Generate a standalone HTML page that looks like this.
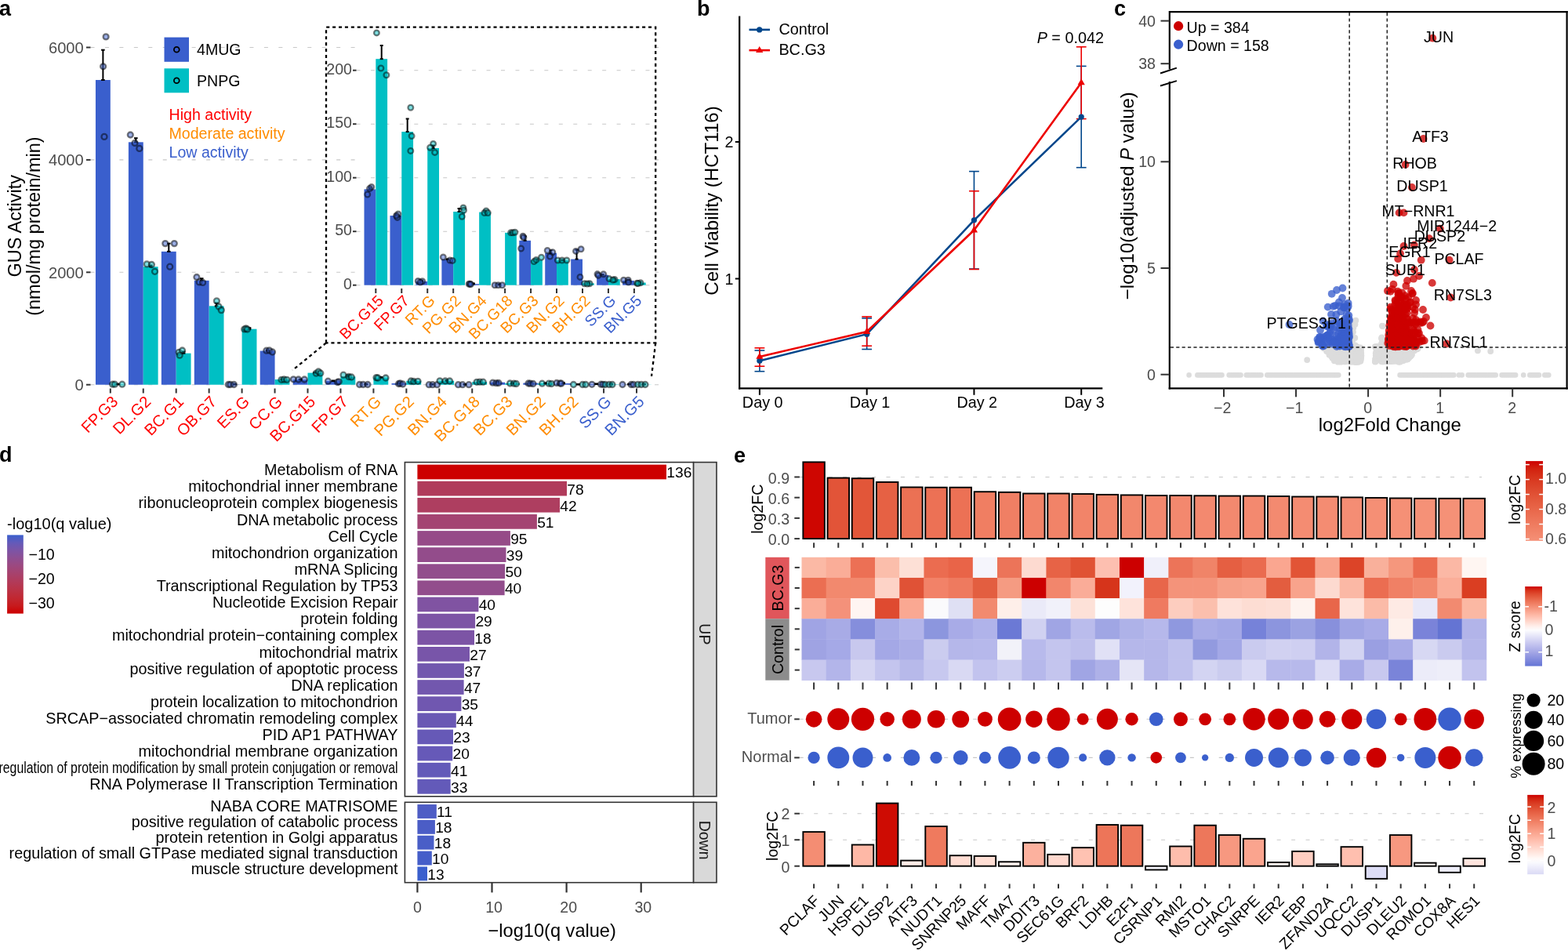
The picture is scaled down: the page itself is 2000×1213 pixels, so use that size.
<!DOCTYPE html>
<html><head><meta charset="utf-8"><title>Figure</title>
<style>
html,body{margin:0;padding:0;background:#fff;overflow:hidden;}
svg{display:block;}
text{font-family:"Liberation Sans",Arial,Helvetica,sans-serif;}
</style></head><body>
<svg width="2000" height="1213" viewBox="0 0 2000 1213">
<rect x="0" y="0" width="2000" height="1213" fill="#fff"/>
<text transform="translate(-1,20)" font-size="27" font-weight="bold">a</text>
<line x1="115.5" y1="490.7" x2="841" y2="490.7" stroke="#C8C8C8" stroke-width="1.1" stroke-dasharray="5 13.45"/>
<line x1="115.5" y1="347.3" x2="841" y2="347.3" stroke="#C8C8C8" stroke-width="1.1" stroke-dasharray="5 13.45"/>
<line x1="115.5" y1="203.9" x2="841" y2="203.9" stroke="#C8C8C8" stroke-width="1.1" stroke-dasharray="5 13.45"/>
<line x1="115.5" y1="60.5" x2="841" y2="60.5" stroke="#C8C8C8" stroke-width="1.1" stroke-dasharray="5 13.45"/>
<line x1="110" y1="490.7" x2="115.5" y2="490.7" stroke="#333333" stroke-width="2"/>
<text transform="translate(106.7,497.9)" text-anchor="end" font-size="20.1" fill="#4D4D4D">0</text>
<line x1="110" y1="347.3" x2="115.5" y2="347.3" stroke="#333333" stroke-width="2"/>
<text transform="translate(106.7,354.5)" text-anchor="end" font-size="20.1" fill="#4D4D4D">2000</text>
<line x1="110" y1="203.9" x2="115.5" y2="203.9" stroke="#333333" stroke-width="2"/>
<text transform="translate(106.7,211.1)" text-anchor="end" font-size="20.1" fill="#4D4D4D">4000</text>
<line x1="110" y1="60.5" x2="115.5" y2="60.5" stroke="#333333" stroke-width="2"/>
<text transform="translate(106.7,67.7)" text-anchor="end" font-size="20.1" fill="#4D4D4D">6000</text>
<text transform="translate(27.2,288.3) rotate(-90)" text-anchor="middle" font-size="23.5">GUS Activity</text>
<text transform="translate(50.5,288.6) rotate(-90)" text-anchor="middle" font-size="23.5">(nmol/mg protein/min)</text>
<rect x="121.95" y="102.01" width="18.85" height="388.69" fill="#3A5FCD"/>
<rect x="140.8" y="490.34" width="18.85" height="0.36" fill="#00BFC4"/>
<rect x="163.9" y="181.31" width="18.85" height="309.39" fill="#3A5FCD"/>
<rect x="182.75" y="340.2" width="18.85" height="150.5" fill="#00BFC4"/>
<rect x="205.85" y="320.84" width="18.85" height="169.86" fill="#3A5FCD"/>
<rect x="224.7" y="450.62" width="18.85" height="40.08" fill="#00BFC4"/>
<rect x="247.8" y="357.84" width="18.85" height="132.86" fill="#3A5FCD"/>
<rect x="266.65" y="390.32" width="18.85" height="100.38" fill="#00BFC4"/>
<rect x="289.75" y="490.48" width="18.85" height="0.22" fill="#3A5FCD"/>
<rect x="308.6" y="419.65" width="18.85" height="71.05" fill="#00BFC4"/>
<rect x="331.7" y="447.54" width="18.85" height="43.16" fill="#3A5FCD"/>
<rect x="350.55" y="484.03" width="18.85" height="6.67" fill="#00BFC4"/>
<rect x="373.65" y="484.3" width="18.85" height="6.4" fill="#3A5FCD"/>
<rect x="392.5" y="475.6" width="18.85" height="15.1" fill="#00BFC4"/>
<rect x="415.6" y="486.06" width="18.85" height="4.64" fill="#3A5FCD"/>
<rect x="434.45" y="480.46" width="18.85" height="10.24" fill="#00BFC4"/>
<rect x="457.55" y="490.45" width="18.85" height="0.25" fill="#3A5FCD"/>
<rect x="476.4" y="481.55" width="18.85" height="9.15" fill="#00BFC4"/>
<rect x="499.5" y="488.98" width="18.85" height="1.72" fill="#3A5FCD"/>
<rect x="518.35" y="485.8" width="18.85" height="4.9" fill="#00BFC4"/>
<rect x="541.45" y="490.62" width="18.85" height="0.08" fill="#3A5FCD"/>
<rect x="560.3" y="485.82" width="18.85" height="4.88" fill="#00BFC4"/>
<rect x="583.4" y="490.68" width="18.85" height="0.02" fill="#3A5FCD"/>
<rect x="602.25" y="487.2" width="18.85" height="3.5" fill="#00BFC4"/>
<rect x="625.35" y="487.72" width="18.85" height="2.98" fill="#3A5FCD"/>
<rect x="644.2" y="489.02" width="18.85" height="1.68" fill="#00BFC4"/>
<rect x="667.3" y="488.56" width="18.85" height="2.14" fill="#3A5FCD"/>
<rect x="686.15" y="489.05" width="18.85" height="1.65" fill="#00BFC4"/>
<rect x="709.25" y="488.96" width="18.85" height="1.74" fill="#3A5FCD"/>
<rect x="728.1" y="490.58" width="18.85" height="0.12" fill="#00BFC4"/>
<rect x="751.2" y="490.02" width="18.85" height="0.68" fill="#3A5FCD"/>
<rect x="770.05" y="490.31" width="18.85" height="0.39" fill="#00BFC4"/>
<rect x="793.15" y="490.4" width="18.85" height="0.3" fill="#3A5FCD"/>
<rect x="812" y="490.54" width="18.85" height="0.16" fill="#00BFC4"/>
<line x1="131.38" y1="102.01" x2="131.38" y2="63.7" stroke="#000" stroke-width="2"/>
<line x1="129.07" y1="63.7" x2="133.68" y2="63.7" stroke="#000" stroke-width="2"/>
<line x1="129.07" y1="102.01" x2="133.68" y2="102.01" stroke="#000" stroke-width="2"/>
<line x1="173.32" y1="181.31" x2="173.32" y2="176.2" stroke="#000" stroke-width="2"/>
<line x1="171.02" y1="176.2" x2="175.62" y2="176.2" stroke="#000" stroke-width="2"/>
<line x1="171.02" y1="181.31" x2="175.62" y2="181.31" stroke="#000" stroke-width="2"/>
<line x1="215.28" y1="320.84" x2="215.28" y2="310.6" stroke="#000" stroke-width="2"/>
<line x1="212.97" y1="310.6" x2="217.58" y2="310.6" stroke="#000" stroke-width="2"/>
<line x1="212.97" y1="320.84" x2="217.58" y2="320.84" stroke="#000" stroke-width="2"/>
<line x1="257.23" y1="357.84" x2="257.23" y2="355.2" stroke="#000" stroke-width="2"/>
<line x1="254.93" y1="355.2" x2="259.53" y2="355.2" stroke="#000" stroke-width="2"/>
<line x1="254.93" y1="357.84" x2="259.53" y2="357.84" stroke="#000" stroke-width="2"/>
<line x1="192.18" y1="340.2" x2="192.18" y2="338.5" stroke="#000" stroke-width="2"/>
<line x1="189.88" y1="338.5" x2="194.48" y2="338.5" stroke="#000" stroke-width="2"/>
<line x1="189.88" y1="340.2" x2="194.48" y2="340.2" stroke="#000" stroke-width="2"/>
<line x1="234.13" y1="450.62" x2="234.13" y2="448.5" stroke="#000" stroke-width="2"/>
<line x1="231.83" y1="448.5" x2="236.43" y2="448.5" stroke="#000" stroke-width="2"/>
<line x1="231.83" y1="450.62" x2="236.43" y2="450.62" stroke="#000" stroke-width="2"/>
<line x1="276.08" y1="390.32" x2="276.08" y2="386.5" stroke="#000" stroke-width="2"/>
<line x1="273.78" y1="386.5" x2="278.38" y2="386.5" stroke="#000" stroke-width="2"/>
<line x1="273.78" y1="390.32" x2="278.38" y2="390.32" stroke="#000" stroke-width="2"/>
<line x1="318.03" y1="419.65" x2="318.03" y2="418.2" stroke="#000" stroke-width="2"/>
<line x1="315.73" y1="418.2" x2="320.33" y2="418.2" stroke="#000" stroke-width="2"/>
<line x1="315.73" y1="419.65" x2="320.33" y2="419.65" stroke="#000" stroke-width="2"/>
<line x1="341.12" y1="447.54" x2="341.12" y2="446.5" stroke="#000" stroke-width="2"/>
<line x1="338.82" y1="446.5" x2="343.43" y2="446.5" stroke="#000" stroke-width="2"/>
<line x1="338.82" y1="447.54" x2="343.43" y2="447.54" stroke="#000" stroke-width="2"/>
<line x1="359.98" y1="484.03" x2="359.98" y2="483.5" stroke="#000" stroke-width="2"/>
<line x1="357.68" y1="483.5" x2="362.28" y2="483.5" stroke="#000" stroke-width="2"/>
<line x1="357.68" y1="484.03" x2="362.28" y2="484.03" stroke="#000" stroke-width="2"/>
<line x1="401.93" y1="475.6" x2="401.93" y2="475" stroke="#000" stroke-width="2"/>
<line x1="399.62" y1="475" x2="404.23" y2="475" stroke="#000" stroke-width="2"/>
<line x1="399.62" y1="475.6" x2="404.23" y2="475.6" stroke="#000" stroke-width="2"/>
<line x1="443.88" y1="480.46" x2="443.88" y2="478.5" stroke="#000" stroke-width="2"/>
<line x1="441.58" y1="478.5" x2="446.18" y2="478.5" stroke="#000" stroke-width="2"/>
<line x1="441.58" y1="480.46" x2="446.18" y2="480.46" stroke="#000" stroke-width="2"/>
<line x1="150.23" y1="490.34" x2="150.23" y2="489.74" stroke="#000" stroke-width="2"/>
<line x1="147.93" y1="489.74" x2="152.53" y2="489.74" stroke="#000" stroke-width="2"/>
<line x1="147.93" y1="490.34" x2="152.53" y2="490.34" stroke="#000" stroke-width="2"/>
<line x1="299.18" y1="490.48" x2="299.18" y2="489.88" stroke="#000" stroke-width="2"/>
<line x1="296.88" y1="489.88" x2="301.48" y2="489.88" stroke="#000" stroke-width="2"/>
<line x1="296.88" y1="490.48" x2="301.48" y2="490.48" stroke="#000" stroke-width="2"/>
<line x1="383.07" y1="484.3" x2="383.07" y2="483.7" stroke="#000" stroke-width="2"/>
<line x1="380.77" y1="483.7" x2="385.38" y2="483.7" stroke="#000" stroke-width="2"/>
<line x1="380.77" y1="484.3" x2="385.38" y2="484.3" stroke="#000" stroke-width="2"/>
<line x1="425.03" y1="486.06" x2="425.03" y2="485.46" stroke="#000" stroke-width="2"/>
<line x1="422.73" y1="485.46" x2="427.33" y2="485.46" stroke="#000" stroke-width="2"/>
<line x1="422.73" y1="486.06" x2="427.33" y2="486.06" stroke="#000" stroke-width="2"/>
<line x1="466.98" y1="490.45" x2="466.98" y2="489.85" stroke="#000" stroke-width="2"/>
<line x1="464.68" y1="489.85" x2="469.28" y2="489.85" stroke="#000" stroke-width="2"/>
<line x1="464.68" y1="490.45" x2="469.28" y2="490.45" stroke="#000" stroke-width="2"/>
<line x1="485.83" y1="481.55" x2="485.83" y2="480.95" stroke="#000" stroke-width="2"/>
<line x1="483.53" y1="480.95" x2="488.13" y2="480.95" stroke="#000" stroke-width="2"/>
<line x1="483.53" y1="481.55" x2="488.13" y2="481.55" stroke="#000" stroke-width="2"/>
<line x1="508.93" y1="488.98" x2="508.93" y2="488.38" stroke="#000" stroke-width="2"/>
<line x1="506.62" y1="488.38" x2="511.23" y2="488.38" stroke="#000" stroke-width="2"/>
<line x1="506.62" y1="488.98" x2="511.23" y2="488.98" stroke="#000" stroke-width="2"/>
<line x1="527.77" y1="485.8" x2="527.77" y2="485.2" stroke="#000" stroke-width="2"/>
<line x1="525.48" y1="485.2" x2="530.07" y2="485.2" stroke="#000" stroke-width="2"/>
<line x1="525.48" y1="485.8" x2="530.07" y2="485.8" stroke="#000" stroke-width="2"/>
<line x1="550.88" y1="490.62" x2="550.88" y2="490.02" stroke="#000" stroke-width="2"/>
<line x1="548.58" y1="490.02" x2="553.17" y2="490.02" stroke="#000" stroke-width="2"/>
<line x1="548.58" y1="490.62" x2="553.17" y2="490.62" stroke="#000" stroke-width="2"/>
<line x1="569.72" y1="485.82" x2="569.72" y2="485.22" stroke="#000" stroke-width="2"/>
<line x1="567.42" y1="485.22" x2="572.02" y2="485.22" stroke="#000" stroke-width="2"/>
<line x1="567.42" y1="485.82" x2="572.02" y2="485.82" stroke="#000" stroke-width="2"/>
<line x1="592.83" y1="490.68" x2="592.83" y2="490.08" stroke="#000" stroke-width="2"/>
<line x1="590.53" y1="490.08" x2="595.12" y2="490.08" stroke="#000" stroke-width="2"/>
<line x1="590.53" y1="490.68" x2="595.12" y2="490.68" stroke="#000" stroke-width="2"/>
<line x1="611.67" y1="487.2" x2="611.67" y2="486.6" stroke="#000" stroke-width="2"/>
<line x1="609.38" y1="486.6" x2="613.97" y2="486.6" stroke="#000" stroke-width="2"/>
<line x1="609.38" y1="487.2" x2="613.97" y2="487.2" stroke="#000" stroke-width="2"/>
<line x1="634.78" y1="487.72" x2="634.78" y2="487.12" stroke="#000" stroke-width="2"/>
<line x1="632.48" y1="487.12" x2="637.08" y2="487.12" stroke="#000" stroke-width="2"/>
<line x1="632.48" y1="487.72" x2="637.08" y2="487.72" stroke="#000" stroke-width="2"/>
<line x1="653.62" y1="489.02" x2="653.62" y2="488.42" stroke="#000" stroke-width="2"/>
<line x1="651.33" y1="488.42" x2="655.92" y2="488.42" stroke="#000" stroke-width="2"/>
<line x1="651.33" y1="489.02" x2="655.92" y2="489.02" stroke="#000" stroke-width="2"/>
<line x1="676.73" y1="488.56" x2="676.73" y2="487.96" stroke="#000" stroke-width="2"/>
<line x1="674.43" y1="487.96" x2="679.03" y2="487.96" stroke="#000" stroke-width="2"/>
<line x1="674.43" y1="488.56" x2="679.03" y2="488.56" stroke="#000" stroke-width="2"/>
<line x1="695.58" y1="489.05" x2="695.58" y2="488.45" stroke="#000" stroke-width="2"/>
<line x1="693.28" y1="488.45" x2="697.88" y2="488.45" stroke="#000" stroke-width="2"/>
<line x1="693.28" y1="489.05" x2="697.88" y2="489.05" stroke="#000" stroke-width="2"/>
<line x1="718.68" y1="488.96" x2="718.68" y2="488.36" stroke="#000" stroke-width="2"/>
<line x1="716.38" y1="488.36" x2="720.98" y2="488.36" stroke="#000" stroke-width="2"/>
<line x1="716.38" y1="488.96" x2="720.98" y2="488.96" stroke="#000" stroke-width="2"/>
<line x1="737.53" y1="490.58" x2="737.53" y2="489.98" stroke="#000" stroke-width="2"/>
<line x1="735.23" y1="489.98" x2="739.83" y2="489.98" stroke="#000" stroke-width="2"/>
<line x1="735.23" y1="490.58" x2="739.83" y2="490.58" stroke="#000" stroke-width="2"/>
<line x1="760.62" y1="490.02" x2="760.62" y2="489.42" stroke="#000" stroke-width="2"/>
<line x1="758.33" y1="489.42" x2="762.92" y2="489.42" stroke="#000" stroke-width="2"/>
<line x1="758.33" y1="490.02" x2="762.92" y2="490.02" stroke="#000" stroke-width="2"/>
<line x1="779.47" y1="490.31" x2="779.47" y2="489.71" stroke="#000" stroke-width="2"/>
<line x1="777.17" y1="489.71" x2="781.77" y2="489.71" stroke="#000" stroke-width="2"/>
<line x1="777.17" y1="490.31" x2="781.77" y2="490.31" stroke="#000" stroke-width="2"/>
<line x1="802.58" y1="490.4" x2="802.58" y2="489.8" stroke="#000" stroke-width="2"/>
<line x1="800.28" y1="489.8" x2="804.88" y2="489.8" stroke="#000" stroke-width="2"/>
<line x1="800.28" y1="490.4" x2="804.88" y2="490.4" stroke="#000" stroke-width="2"/>
<line x1="821.42" y1="490.54" x2="821.42" y2="489.94" stroke="#000" stroke-width="2"/>
<line x1="819.12" y1="489.94" x2="823.72" y2="489.94" stroke="#000" stroke-width="2"/>
<line x1="819.12" y1="490.54" x2="823.72" y2="490.54" stroke="#000" stroke-width="2"/>
<circle cx="135.1" cy="46.9" r="3.5" fill="#3A5FCD" stroke="#000" stroke-width="2.3" fill-opacity="0.5" stroke-opacity="0.5"/>
<circle cx="131.6" cy="84.8" r="3.5" fill="#3A5FCD" stroke="#000" stroke-width="2.3" fill-opacity="0.5" stroke-opacity="0.5"/>
<circle cx="133" cy="174.4" r="3.5" fill="#3A5FCD" stroke="#000" stroke-width="2.3" fill-opacity="0.5" stroke-opacity="0.5"/>
<circle cx="143.6" cy="490.2" r="3.5" fill="#00BFC4" stroke="#000" stroke-width="2.3" fill-opacity="0.5" stroke-opacity="0.5"/>
<circle cx="146.5" cy="490.2" r="3.5" fill="#00BFC4" stroke="#000" stroke-width="2.3" fill-opacity="0.5" stroke-opacity="0.5"/>
<circle cx="155.8" cy="490.2" r="3.5" fill="#00BFC4" stroke="#000" stroke-width="2.3" fill-opacity="0.5" stroke-opacity="0.5"/>
<circle cx="166.3" cy="172" r="3.5" fill="#3A5FCD" stroke="#000" stroke-width="2.3" fill-opacity="0.5" stroke-opacity="0.5"/>
<circle cx="172" cy="182.4" r="3.5" fill="#3A5FCD" stroke="#000" stroke-width="2.3" fill-opacity="0.5" stroke-opacity="0.5"/>
<circle cx="177.8" cy="189.4" r="3.5" fill="#3A5FCD" stroke="#000" stroke-width="2.3" fill-opacity="0.5" stroke-opacity="0.5"/>
<circle cx="187.3" cy="336.9" r="3.5" fill="#00BFC4" stroke="#000" stroke-width="2.3" fill-opacity="0.5" stroke-opacity="0.5"/>
<circle cx="193.4" cy="337.5" r="3.5" fill="#00BFC4" stroke="#000" stroke-width="2.3" fill-opacity="0.5" stroke-opacity="0.5"/>
<circle cx="197.5" cy="346.3" r="3.5" fill="#00BFC4" stroke="#000" stroke-width="2.3" fill-opacity="0.5" stroke-opacity="0.5"/>
<circle cx="210.8" cy="310.6" r="3.5" fill="#3A5FCD" stroke="#000" stroke-width="2.3" fill-opacity="0.5" stroke-opacity="0.5"/>
<circle cx="222.3" cy="310.6" r="3.5" fill="#3A5FCD" stroke="#000" stroke-width="2.3" fill-opacity="0.5" stroke-opacity="0.5"/>
<circle cx="216.7" cy="340.2" r="3.5" fill="#3A5FCD" stroke="#000" stroke-width="2.3" fill-opacity="0.5" stroke-opacity="0.5"/>
<circle cx="228.2" cy="449.3" r="3.5" fill="#00BFC4" stroke="#000" stroke-width="2.3" fill-opacity="0.5" stroke-opacity="0.5"/>
<circle cx="232.5" cy="447" r="3.5" fill="#00BFC4" stroke="#000" stroke-width="2.3" fill-opacity="0.5" stroke-opacity="0.5"/>
<circle cx="229.2" cy="453.1" r="3.5" fill="#00BFC4" stroke="#000" stroke-width="2.3" fill-opacity="0.5" stroke-opacity="0.5"/>
<circle cx="250.9" cy="353.5" r="3.5" fill="#3A5FCD" stroke="#000" stroke-width="2.3" fill-opacity="0.5" stroke-opacity="0.5"/>
<circle cx="254.2" cy="359.9" r="3.5" fill="#3A5FCD" stroke="#000" stroke-width="2.3" fill-opacity="0.5" stroke-opacity="0.5"/>
<circle cx="258.6" cy="360.4" r="3.5" fill="#3A5FCD" stroke="#000" stroke-width="2.3" fill-opacity="0.5" stroke-opacity="0.5"/>
<circle cx="276.4" cy="383.9" r="3.5" fill="#00BFC4" stroke="#000" stroke-width="2.3" fill-opacity="0.5" stroke-opacity="0.5"/>
<circle cx="279" cy="391" r="3.5" fill="#00BFC4" stroke="#000" stroke-width="2.3" fill-opacity="0.5" stroke-opacity="0.5"/>
<circle cx="282.3" cy="395.6" r="3.5" fill="#00BFC4" stroke="#000" stroke-width="2.3" fill-opacity="0.5" stroke-opacity="0.5"/>
<circle cx="291.3" cy="490.5" r="3.5" fill="#3A5FCD" stroke="#000" stroke-width="2.3" fill-opacity="0.5" stroke-opacity="0.5"/>
<circle cx="293.8" cy="490.5" r="3.5" fill="#3A5FCD" stroke="#000" stroke-width="2.3" fill-opacity="0.5" stroke-opacity="0.5"/>
<circle cx="298.4" cy="490.5" r="3.5" fill="#3A5FCD" stroke="#000" stroke-width="2.3" fill-opacity="0.5" stroke-opacity="0.5"/>
<circle cx="311.7" cy="419.9" r="3.5" fill="#00BFC4" stroke="#000" stroke-width="2.3" fill-opacity="0.5" stroke-opacity="0.5"/>
<circle cx="313.7" cy="419" r="3.5" fill="#00BFC4" stroke="#000" stroke-width="2.3" fill-opacity="0.5" stroke-opacity="0.5"/>
<circle cx="315.5" cy="420" r="3.5" fill="#00BFC4" stroke="#000" stroke-width="2.3" fill-opacity="0.5" stroke-opacity="0.5"/>
<circle cx="339.8" cy="447.2" r="3.5" fill="#3A5FCD" stroke="#000" stroke-width="2.3" fill-opacity="0.5" stroke-opacity="0.5"/>
<circle cx="343.6" cy="447" r="3.5" fill="#3A5FCD" stroke="#000" stroke-width="2.3" fill-opacity="0.5" stroke-opacity="0.5"/>
<circle cx="347.5" cy="449" r="3.5" fill="#3A5FCD" stroke="#000" stroke-width="2.3" fill-opacity="0.5" stroke-opacity="0.5"/>
<circle cx="359" cy="484.3" r="3.5" fill="#00BFC4" stroke="#000" stroke-width="2.3" fill-opacity="0.5" stroke-opacity="0.5"/>
<circle cx="362.3" cy="484" r="3.5" fill="#00BFC4" stroke="#000" stroke-width="2.3" fill-opacity="0.5" stroke-opacity="0.5"/>
<circle cx="365.9" cy="484.3" r="3.5" fill="#00BFC4" stroke="#000" stroke-width="2.3" fill-opacity="0.5" stroke-opacity="0.5"/>
<circle cx="374.3" cy="483.8" r="3.5" fill="#3A5FCD" stroke="#000" stroke-width="2.3" fill-opacity="0.5" stroke-opacity="0.5"/>
<circle cx="380.7" cy="484" r="3.5" fill="#3A5FCD" stroke="#000" stroke-width="2.3" fill-opacity="0.5" stroke-opacity="0.5"/>
<circle cx="388.3" cy="484" r="3.5" fill="#3A5FCD" stroke="#000" stroke-width="2.3" fill-opacity="0.5" stroke-opacity="0.5"/>
<circle cx="403.2" cy="476.1" r="3.5" fill="#00BFC4" stroke="#000" stroke-width="2.3" fill-opacity="0.5" stroke-opacity="0.5"/>
<circle cx="406.2" cy="474" r="3.5" fill="#00BFC4" stroke="#000" stroke-width="2.3" fill-opacity="0.5" stroke-opacity="0.5"/>
<circle cx="408.8" cy="476" r="3.5" fill="#00BFC4" stroke="#000" stroke-width="2.3" fill-opacity="0.5" stroke-opacity="0.5"/>
<circle cx="418.4" cy="486.2" r="3.5" fill="#3A5FCD" stroke="#000" stroke-width="2.3" fill-opacity="0.5" stroke-opacity="0.5"/>
<circle cx="430.5" cy="487.5" r="3.5" fill="#3A5FCD" stroke="#000" stroke-width="2.3" fill-opacity="0.5" stroke-opacity="0.5"/>
<circle cx="432.2" cy="486.8" r="3.5" fill="#3A5FCD" stroke="#000" stroke-width="2.3" fill-opacity="0.5" stroke-opacity="0.5"/>
<circle cx="438" cy="478.2" r="3.5" fill="#00BFC4" stroke="#000" stroke-width="2.3" fill-opacity="0.5" stroke-opacity="0.5"/>
<circle cx="444.8" cy="480.5" r="3.5" fill="#00BFC4" stroke="#000" stroke-width="2.3" fill-opacity="0.5" stroke-opacity="0.5"/>
<circle cx="448.3" cy="481" r="3.5" fill="#00BFC4" stroke="#000" stroke-width="2.3" fill-opacity="0.5" stroke-opacity="0.5"/>
<circle cx="458.6" cy="490.5" r="3.5" fill="#3A5FCD" stroke="#000" stroke-width="2.3" fill-opacity="0.5" stroke-opacity="0.5"/>
<circle cx="463.2" cy="490.5" r="3.5" fill="#3A5FCD" stroke="#000" stroke-width="2.3" fill-opacity="0.5" stroke-opacity="0.5"/>
<circle cx="469" cy="490.5" r="3.5" fill="#3A5FCD" stroke="#000" stroke-width="2.3" fill-opacity="0.5" stroke-opacity="0.5"/>
<circle cx="480" cy="481.6" r="3.5" fill="#00BFC4" stroke="#000" stroke-width="2.3" fill-opacity="0.5" stroke-opacity="0.5"/>
<circle cx="482" cy="482" r="3.5" fill="#00BFC4" stroke="#000" stroke-width="2.3" fill-opacity="0.5" stroke-opacity="0.5"/>
<circle cx="492" cy="482" r="3.5" fill="#00BFC4" stroke="#000" stroke-width="2.3" fill-opacity="0.5" stroke-opacity="0.5"/>
<circle cx="508.5" cy="489.5" r="3.5" fill="#3A5FCD" stroke="#000" stroke-width="2.3" fill-opacity="0.5" stroke-opacity="0.5"/>
<circle cx="510.4" cy="489" r="3.5" fill="#3A5FCD" stroke="#000" stroke-width="2.3" fill-opacity="0.5" stroke-opacity="0.5"/>
<circle cx="513.8" cy="490" r="3.5" fill="#3A5FCD" stroke="#000" stroke-width="2.3" fill-opacity="0.5" stroke-opacity="0.5"/>
<circle cx="524.2" cy="486" r="3.5" fill="#00BFC4" stroke="#000" stroke-width="2.3" fill-opacity="0.5" stroke-opacity="0.5"/>
<circle cx="527.6" cy="486.5" r="3.5" fill="#00BFC4" stroke="#000" stroke-width="2.3" fill-opacity="0.5" stroke-opacity="0.5"/>
<circle cx="533" cy="486.3" r="3.5" fill="#00BFC4" stroke="#000" stroke-width="2.3" fill-opacity="0.5" stroke-opacity="0.5"/>
<circle cx="547.2" cy="490.7" r="3.5" fill="#3A5FCD" stroke="#000" stroke-width="2.3" fill-opacity="0.5" stroke-opacity="0.5"/>
<circle cx="551.8" cy="490.7" r="3.5" fill="#3A5FCD" stroke="#000" stroke-width="2.3" fill-opacity="0.5" stroke-opacity="0.5"/>
<circle cx="557.5" cy="490.7" r="3.5" fill="#3A5FCD" stroke="#000" stroke-width="2.3" fill-opacity="0.5" stroke-opacity="0.5"/>
<circle cx="561" cy="485.8" r="3.5" fill="#00BFC4" stroke="#000" stroke-width="2.3" fill-opacity="0.5" stroke-opacity="0.5"/>
<circle cx="567.9" cy="486" r="3.5" fill="#00BFC4" stroke="#000" stroke-width="2.3" fill-opacity="0.5" stroke-opacity="0.5"/>
<circle cx="573.6" cy="486" r="3.5" fill="#00BFC4" stroke="#000" stroke-width="2.3" fill-opacity="0.5" stroke-opacity="0.5"/>
<circle cx="584.5" cy="490.7" r="3.5" fill="#3A5FCD" stroke="#000" stroke-width="2.3" fill-opacity="0.5" stroke-opacity="0.5"/>
<circle cx="590" cy="490.7" r="3.5" fill="#3A5FCD" stroke="#000" stroke-width="2.3" fill-opacity="0.5" stroke-opacity="0.5"/>
<circle cx="598" cy="490.7" r="3.5" fill="#3A5FCD" stroke="#000" stroke-width="2.3" fill-opacity="0.5" stroke-opacity="0.5"/>
<circle cx="608.1" cy="487.3" r="3.5" fill="#00BFC4" stroke="#000" stroke-width="2.3" fill-opacity="0.5" stroke-opacity="0.5"/>
<circle cx="612" cy="487.2" r="3.5" fill="#00BFC4" stroke="#000" stroke-width="2.3" fill-opacity="0.5" stroke-opacity="0.5"/>
<circle cx="616.2" cy="487.2" r="3.5" fill="#00BFC4" stroke="#000" stroke-width="2.3" fill-opacity="0.5" stroke-opacity="0.5"/>
<circle cx="628.5" cy="488.2" r="3.5" fill="#3A5FCD" stroke="#000" stroke-width="2.3" fill-opacity="0.5" stroke-opacity="0.5"/>
<circle cx="633" cy="488.6" r="3.5" fill="#3A5FCD" stroke="#000" stroke-width="2.3" fill-opacity="0.5" stroke-opacity="0.5"/>
<circle cx="636" cy="488.5" r="3.5" fill="#3A5FCD" stroke="#000" stroke-width="2.3" fill-opacity="0.5" stroke-opacity="0.5"/>
<circle cx="650.5" cy="489" r="3.5" fill="#00BFC4" stroke="#000" stroke-width="2.3" fill-opacity="0.5" stroke-opacity="0.5"/>
<circle cx="655.5" cy="489.2" r="3.5" fill="#00BFC4" stroke="#000" stroke-width="2.3" fill-opacity="0.5" stroke-opacity="0.5"/>
<circle cx="658.5" cy="489.5" r="3.5" fill="#00BFC4" stroke="#000" stroke-width="2.3" fill-opacity="0.5" stroke-opacity="0.5"/>
<circle cx="674" cy="489" r="3.5" fill="#3A5FCD" stroke="#000" stroke-width="2.3" fill-opacity="0.5" stroke-opacity="0.5"/>
<circle cx="676.5" cy="489.2" r="3.5" fill="#3A5FCD" stroke="#000" stroke-width="2.3" fill-opacity="0.5" stroke-opacity="0.5"/>
<circle cx="680" cy="489.5" r="3.5" fill="#3A5FCD" stroke="#000" stroke-width="2.3" fill-opacity="0.5" stroke-opacity="0.5"/>
<circle cx="691.5" cy="489.2" r="3.5" fill="#00BFC4" stroke="#000" stroke-width="2.3" fill-opacity="0.5" stroke-opacity="0.5"/>
<circle cx="700" cy="489.2" r="3.5" fill="#00BFC4" stroke="#000" stroke-width="2.3" fill-opacity="0.5" stroke-opacity="0.5"/>
<circle cx="703.5" cy="489.5" r="3.5" fill="#00BFC4" stroke="#000" stroke-width="2.3" fill-opacity="0.5" stroke-opacity="0.5"/>
<circle cx="710" cy="488.5" r="3.5" fill="#3A5FCD" stroke="#000" stroke-width="2.3" fill-opacity="0.5" stroke-opacity="0.5"/>
<circle cx="714.5" cy="489" r="3.5" fill="#3A5FCD" stroke="#000" stroke-width="2.3" fill-opacity="0.5" stroke-opacity="0.5"/>
<circle cx="716" cy="489.2" r="3.5" fill="#3A5FCD" stroke="#000" stroke-width="2.3" fill-opacity="0.5" stroke-opacity="0.5"/>
<circle cx="731.5" cy="490.5" r="3.5" fill="#00BFC4" stroke="#000" stroke-width="2.3" fill-opacity="0.5" stroke-opacity="0.5"/>
<circle cx="743" cy="490.5" r="3.5" fill="#00BFC4" stroke="#000" stroke-width="2.3" fill-opacity="0.5" stroke-opacity="0.5"/>
<circle cx="747" cy="490.5" r="3.5" fill="#00BFC4" stroke="#000" stroke-width="2.3" fill-opacity="0.5" stroke-opacity="0.5"/>
<circle cx="755" cy="490.3" r="3.5" fill="#3A5FCD" stroke="#000" stroke-width="2.3" fill-opacity="0.5" stroke-opacity="0.5"/>
<circle cx="766.5" cy="490.2" r="3.5" fill="#3A5FCD" stroke="#000" stroke-width="2.3" fill-opacity="0.5" stroke-opacity="0.5"/>
<circle cx="769" cy="490.3" r="3.5" fill="#3A5FCD" stroke="#000" stroke-width="2.3" fill-opacity="0.5" stroke-opacity="0.5"/>
<circle cx="772" cy="490.5" r="3.5" fill="#00BFC4" stroke="#000" stroke-width="2.3" fill-opacity="0.5" stroke-opacity="0.5"/>
<circle cx="777" cy="490.5" r="3.5" fill="#00BFC4" stroke="#000" stroke-width="2.3" fill-opacity="0.5" stroke-opacity="0.5"/>
<circle cx="781" cy="490.5" r="3.5" fill="#00BFC4" stroke="#000" stroke-width="2.3" fill-opacity="0.5" stroke-opacity="0.5"/>
<circle cx="794" cy="490.5" r="3.5" fill="#3A5FCD" stroke="#000" stroke-width="2.3" fill-opacity="0.5" stroke-opacity="0.5"/>
<circle cx="805" cy="490.5" r="3.5" fill="#3A5FCD" stroke="#000" stroke-width="2.3" fill-opacity="0.5" stroke-opacity="0.5"/>
<circle cx="808" cy="490.5" r="3.5" fill="#3A5FCD" stroke="#000" stroke-width="2.3" fill-opacity="0.5" stroke-opacity="0.5"/>
<circle cx="813.5" cy="490.5" r="3.5" fill="#00BFC4" stroke="#000" stroke-width="2.3" fill-opacity="0.5" stroke-opacity="0.5"/>
<circle cx="818" cy="490.5" r="3.5" fill="#00BFC4" stroke="#000" stroke-width="2.3" fill-opacity="0.5" stroke-opacity="0.5"/>
<circle cx="823" cy="490.5" r="3.5" fill="#00BFC4" stroke="#000" stroke-width="2.3" fill-opacity="0.5" stroke-opacity="0.5"/>
<line x1="140.8" y1="495.5" x2="140.8" y2="501.5" stroke="#333333" stroke-width="2"/>
<text transform="translate(151.7,513.6) rotate(-45)" text-anchor="end" font-size="20.3" fill="#FF0000">FP.G3</text>
<line x1="182.75" y1="495.5" x2="182.75" y2="501.5" stroke="#333333" stroke-width="2"/>
<text transform="translate(193.65,513.6) rotate(-45)" text-anchor="end" font-size="20.3" fill="#FF0000">DL.G2</text>
<line x1="224.7" y1="495.5" x2="224.7" y2="501.5" stroke="#333333" stroke-width="2"/>
<text transform="translate(235.6,513.6) rotate(-45)" text-anchor="end" font-size="20.3" fill="#FF0000">BC.G1</text>
<line x1="266.65" y1="495.5" x2="266.65" y2="501.5" stroke="#333333" stroke-width="2"/>
<text transform="translate(277.55,513.6) rotate(-45)" text-anchor="end" font-size="20.3" fill="#FF0000">OB.G7</text>
<line x1="308.6" y1="495.5" x2="308.6" y2="501.5" stroke="#333333" stroke-width="2"/>
<text transform="translate(319.5,513.6) rotate(-45)" text-anchor="end" font-size="20.3" fill="#FF0000">ES.G</text>
<line x1="350.55" y1="495.5" x2="350.55" y2="501.5" stroke="#333333" stroke-width="2"/>
<text transform="translate(361.45,513.6) rotate(-45)" text-anchor="end" font-size="20.3" fill="#FF0000">CC.G</text>
<line x1="392.5" y1="495.5" x2="392.5" y2="501.5" stroke="#333333" stroke-width="2"/>
<text transform="translate(403.4,513.6) rotate(-45)" text-anchor="end" font-size="20.3" fill="#FF0000">BC.G15</text>
<line x1="434.45" y1="495.5" x2="434.45" y2="501.5" stroke="#333333" stroke-width="2"/>
<text transform="translate(445.35,513.6) rotate(-45)" text-anchor="end" font-size="20.3" fill="#FF0000">FP.G7</text>
<line x1="476.4" y1="495.5" x2="476.4" y2="501.5" stroke="#333333" stroke-width="2"/>
<text transform="translate(487.3,513.6) rotate(-45)" text-anchor="end" font-size="20.3" fill="#FF8C00">RT.G</text>
<line x1="518.35" y1="495.5" x2="518.35" y2="501.5" stroke="#333333" stroke-width="2"/>
<text transform="translate(529.25,513.6) rotate(-45)" text-anchor="end" font-size="20.3" fill="#FF8C00">PG.G2</text>
<line x1="560.3" y1="495.5" x2="560.3" y2="501.5" stroke="#333333" stroke-width="2"/>
<text transform="translate(571.2,513.6) rotate(-45)" text-anchor="end" font-size="20.3" fill="#FF8C00">BN.G4</text>
<line x1="602.25" y1="495.5" x2="602.25" y2="501.5" stroke="#333333" stroke-width="2"/>
<text transform="translate(613.15,513.6) rotate(-45)" text-anchor="end" font-size="20.3" fill="#FF8C00">BC.G18</text>
<line x1="644.2" y1="495.5" x2="644.2" y2="501.5" stroke="#333333" stroke-width="2"/>
<text transform="translate(655.1,513.6) rotate(-45)" text-anchor="end" font-size="20.3" fill="#FF8C00">BC.G3</text>
<line x1="686.15" y1="495.5" x2="686.15" y2="501.5" stroke="#333333" stroke-width="2"/>
<text transform="translate(697.05,513.6) rotate(-45)" text-anchor="end" font-size="20.3" fill="#FF8C00">BN.G2</text>
<line x1="728.1" y1="495.5" x2="728.1" y2="501.5" stroke="#333333" stroke-width="2"/>
<text transform="translate(739,513.6) rotate(-45)" text-anchor="end" font-size="20.3" fill="#FF8C00">BH.G2</text>
<line x1="770.05" y1="495.5" x2="770.05" y2="501.5" stroke="#333333" stroke-width="2"/>
<text transform="translate(780.95,513.6) rotate(-45)" text-anchor="end" font-size="20.3" fill="#3A5FCD">SS.G</text>
<line x1="812" y1="495.5" x2="812" y2="501.5" stroke="#333333" stroke-width="2"/>
<text transform="translate(822.9,513.6) rotate(-45)" text-anchor="end" font-size="20.3" fill="#3A5FCD">BN.G5</text>
<rect x="209.5" y="47.6" width="31.5" height="31.2" fill="#3A5FCD"/>
<rect x="209.5" y="87.3" width="31.5" height="31" fill="#00BFC4"/>
<circle cx="225.3" cy="63.2" r="3.4" fill="none" stroke="#000" stroke-width="1.8"/>
<circle cx="225.3" cy="102.8" r="3.4" fill="none" stroke="#000" stroke-width="1.8"/>
<text transform="translate(251,70.2)" font-size="19.6">4MUG</text>
<text transform="translate(251,110)" font-size="19.6">PNPG</text>
<text transform="translate(215.5,152.7)" font-size="19.6" fill="#FF0000">High activity</text>
<text transform="translate(215.5,176.7)" font-size="19.6" fill="#FF8C00">Moderate activity</text>
<text transform="translate(215.5,200.7)" font-size="19.6" fill="#3A5FCD">Low activity</text>
<rect x="454.5" y="36" width="381" height="336" fill="#FFFFFF"/>
<line x1="454.5" y1="363.7" x2="829" y2="363.7" stroke="#C8C8C8" stroke-width="1.1" stroke-dasharray="5 13.45"/>
<line x1="450" y1="363.7" x2="454.5" y2="363.7" stroke="#333333" stroke-width="2"/>
<text transform="translate(449,368.9)" text-anchor="end" font-size="19.6" fill="#4D4D4D">0</text>
<line x1="454.5" y1="295.2" x2="829" y2="295.2" stroke="#C8C8C8" stroke-width="1.1" stroke-dasharray="5 13.45"/>
<line x1="450" y1="295.2" x2="454.5" y2="295.2" stroke="#333333" stroke-width="2"/>
<text transform="translate(449,300.4)" text-anchor="end" font-size="19.6" fill="#4D4D4D">50</text>
<line x1="454.5" y1="226.7" x2="829" y2="226.7" stroke="#C8C8C8" stroke-width="1.1" stroke-dasharray="5 13.45"/>
<line x1="450" y1="226.7" x2="454.5" y2="226.7" stroke="#333333" stroke-width="2"/>
<text transform="translate(449,231.9)" text-anchor="end" font-size="19.6" fill="#4D4D4D">100</text>
<line x1="454.5" y1="158.2" x2="829" y2="158.2" stroke="#C8C8C8" stroke-width="1.1" stroke-dasharray="5 13.45"/>
<line x1="450" y1="158.2" x2="454.5" y2="158.2" stroke="#333333" stroke-width="2"/>
<text transform="translate(449,163.4)" text-anchor="end" font-size="19.6" fill="#4D4D4D">150</text>
<line x1="454.5" y1="89.7" x2="829" y2="89.7" stroke="#C8C8C8" stroke-width="1.1" stroke-dasharray="5 13.45"/>
<line x1="450" y1="89.7" x2="454.5" y2="89.7" stroke="#333333" stroke-width="2"/>
<text transform="translate(449,94.9)" text-anchor="end" font-size="19.6" fill="#4D4D4D">200</text>
<rect x="464.5" y="241.36" width="14.8" height="122.34" fill="#3A5FCD"/>
<rect x="479.3" y="75.18" width="14.8" height="288.52" fill="#00BFC4"/>
<rect x="497.46" y="275.06" width="14.8" height="88.64" fill="#3A5FCD"/>
<rect x="512.26" y="168.06" width="14.8" height="195.64" fill="#00BFC4"/>
<rect x="530.42" y="358.9" width="14.8" height="4.8" fill="#3A5FCD"/>
<rect x="545.22" y="188.89" width="14.8" height="174.81" fill="#00BFC4"/>
<rect x="563.38" y="330.82" width="14.8" height="32.88" fill="#3A5FCD"/>
<rect x="578.18" y="269.99" width="14.8" height="93.71" fill="#00BFC4"/>
<rect x="596.34" y="362.19" width="14.8" height="1.51" fill="#3A5FCD"/>
<rect x="611.14" y="270.54" width="14.8" height="93.16" fill="#00BFC4"/>
<rect x="629.3" y="363.29" width="14.8" height="0.41" fill="#3A5FCD"/>
<rect x="644.1" y="296.84" width="14.8" height="66.86" fill="#00BFC4"/>
<rect x="662.26" y="306.84" width="14.8" height="56.86" fill="#3A5FCD"/>
<rect x="677.06" y="331.64" width="14.8" height="32.06" fill="#00BFC4"/>
<rect x="695.22" y="322.74" width="14.8" height="40.96" fill="#3A5FCD"/>
<rect x="710.02" y="332.19" width="14.8" height="31.51" fill="#00BFC4"/>
<rect x="728.18" y="330.55" width="14.8" height="33.15" fill="#3A5FCD"/>
<rect x="742.98" y="361.37" width="14.8" height="2.33" fill="#00BFC4"/>
<rect x="761.14" y="350.69" width="14.8" height="13.01" fill="#3A5FCD"/>
<rect x="775.94" y="356.16" width="14.8" height="7.54" fill="#00BFC4"/>
<rect x="794.1" y="357.95" width="14.8" height="5.75" fill="#3A5FCD"/>
<rect x="808.9" y="360.55" width="14.8" height="3.15" fill="#00BFC4"/>
<line x1="486.7" y1="75.18" x2="486.7" y2="58" stroke="#000" stroke-width="2"/>
<line x1="484.7" y1="58" x2="488.7" y2="58" stroke="#000" stroke-width="2"/>
<line x1="484.7" y1="75.18" x2="488.7" y2="75.18" stroke="#000" stroke-width="2"/>
<line x1="519.66" y1="168.06" x2="519.66" y2="151.5" stroke="#000" stroke-width="2"/>
<line x1="517.66" y1="151.5" x2="521.66" y2="151.5" stroke="#000" stroke-width="2"/>
<line x1="517.66" y1="168.06" x2="521.66" y2="168.06" stroke="#000" stroke-width="2"/>
<line x1="552.62" y1="188.89" x2="552.62" y2="185.5" stroke="#000" stroke-width="2"/>
<line x1="550.62" y1="185.5" x2="554.62" y2="185.5" stroke="#000" stroke-width="2"/>
<line x1="550.62" y1="188.89" x2="554.62" y2="188.89" stroke="#000" stroke-width="2"/>
<line x1="585.58" y1="269.99" x2="585.58" y2="266" stroke="#000" stroke-width="2"/>
<line x1="583.58" y1="266" x2="587.58" y2="266" stroke="#000" stroke-width="2"/>
<line x1="583.58" y1="269.99" x2="587.58" y2="269.99" stroke="#000" stroke-width="2"/>
<line x1="471.9" y1="241.36" x2="471.9" y2="239.5" stroke="#000" stroke-width="2"/>
<line x1="469.9" y1="239.5" x2="473.9" y2="239.5" stroke="#000" stroke-width="2"/>
<line x1="469.9" y1="241.36" x2="473.9" y2="241.36" stroke="#000" stroke-width="2"/>
<line x1="504.86" y1="275.06" x2="504.86" y2="273.5" stroke="#000" stroke-width="2"/>
<line x1="502.86" y1="273.5" x2="506.86" y2="273.5" stroke="#000" stroke-width="2"/>
<line x1="502.86" y1="275.06" x2="506.86" y2="275.06" stroke="#000" stroke-width="2"/>
<line x1="669.66" y1="306.84" x2="669.66" y2="301.5" stroke="#000" stroke-width="2"/>
<line x1="667.66" y1="301.5" x2="671.66" y2="301.5" stroke="#000" stroke-width="2"/>
<line x1="667.66" y1="306.84" x2="671.66" y2="306.84" stroke="#000" stroke-width="2"/>
<line x1="702.62" y1="322.74" x2="702.62" y2="319.5" stroke="#000" stroke-width="2"/>
<line x1="700.62" y1="319.5" x2="704.62" y2="319.5" stroke="#000" stroke-width="2"/>
<line x1="700.62" y1="322.74" x2="704.62" y2="322.74" stroke="#000" stroke-width="2"/>
<line x1="735.58" y1="330.55" x2="735.58" y2="318.8" stroke="#000" stroke-width="2"/>
<line x1="733.58" y1="318.8" x2="737.58" y2="318.8" stroke="#000" stroke-width="2"/>
<line x1="733.58" y1="330.55" x2="737.58" y2="330.55" stroke="#000" stroke-width="2"/>
<line x1="618.54" y1="270.54" x2="618.54" y2="269.5" stroke="#000" stroke-width="2"/>
<line x1="616.54" y1="269.5" x2="620.54" y2="269.5" stroke="#000" stroke-width="2"/>
<line x1="616.54" y1="270.54" x2="620.54" y2="270.54" stroke="#000" stroke-width="2"/>
<line x1="651.5" y1="296.84" x2="651.5" y2="296.3" stroke="#000" stroke-width="2"/>
<line x1="649.5" y1="296.3" x2="653.5" y2="296.3" stroke="#000" stroke-width="2"/>
<line x1="649.5" y1="296.84" x2="653.5" y2="296.84" stroke="#000" stroke-width="2"/>
<line x1="684.46" y1="331.64" x2="684.46" y2="330.5" stroke="#000" stroke-width="2"/>
<line x1="682.46" y1="330.5" x2="686.46" y2="330.5" stroke="#000" stroke-width="2"/>
<line x1="682.46" y1="331.64" x2="686.46" y2="331.64" stroke="#000" stroke-width="2"/>
<line x1="570.78" y1="330.82" x2="570.78" y2="330.5" stroke="#000" stroke-width="2"/>
<line x1="568.78" y1="330.5" x2="572.78" y2="330.5" stroke="#000" stroke-width="2"/>
<line x1="568.78" y1="330.82" x2="572.78" y2="330.82" stroke="#000" stroke-width="2"/>
<line x1="537.82" y1="358.9" x2="537.82" y2="358.1" stroke="#000" stroke-width="2"/>
<line x1="535.82" y1="358.1" x2="539.82" y2="358.1" stroke="#000" stroke-width="2"/>
<line x1="535.82" y1="358.9" x2="539.82" y2="358.9" stroke="#000" stroke-width="2"/>
<line x1="603.74" y1="362.19" x2="603.74" y2="361.39" stroke="#000" stroke-width="2"/>
<line x1="601.74" y1="361.39" x2="605.74" y2="361.39" stroke="#000" stroke-width="2"/>
<line x1="601.74" y1="362.19" x2="605.74" y2="362.19" stroke="#000" stroke-width="2"/>
<line x1="636.7" y1="363.29" x2="636.7" y2="362.49" stroke="#000" stroke-width="2"/>
<line x1="634.7" y1="362.49" x2="638.7" y2="362.49" stroke="#000" stroke-width="2"/>
<line x1="634.7" y1="363.29" x2="638.7" y2="363.29" stroke="#000" stroke-width="2"/>
<line x1="717.42" y1="332.19" x2="717.42" y2="331.39" stroke="#000" stroke-width="2"/>
<line x1="715.42" y1="331.39" x2="719.42" y2="331.39" stroke="#000" stroke-width="2"/>
<line x1="715.42" y1="332.19" x2="719.42" y2="332.19" stroke="#000" stroke-width="2"/>
<line x1="750.38" y1="361.37" x2="750.38" y2="360.57" stroke="#000" stroke-width="2"/>
<line x1="748.38" y1="360.57" x2="752.38" y2="360.57" stroke="#000" stroke-width="2"/>
<line x1="748.38" y1="361.37" x2="752.38" y2="361.37" stroke="#000" stroke-width="2"/>
<line x1="768.54" y1="350.69" x2="768.54" y2="349.88" stroke="#000" stroke-width="2"/>
<line x1="766.54" y1="349.88" x2="770.54" y2="349.88" stroke="#000" stroke-width="2"/>
<line x1="766.54" y1="350.69" x2="770.54" y2="350.69" stroke="#000" stroke-width="2"/>
<line x1="783.34" y1="356.16" x2="783.34" y2="355.36" stroke="#000" stroke-width="2"/>
<line x1="781.34" y1="355.36" x2="785.34" y2="355.36" stroke="#000" stroke-width="2"/>
<line x1="781.34" y1="356.16" x2="785.34" y2="356.16" stroke="#000" stroke-width="2"/>
<line x1="801.5" y1="357.95" x2="801.5" y2="357.15" stroke="#000" stroke-width="2"/>
<line x1="799.5" y1="357.15" x2="803.5" y2="357.15" stroke="#000" stroke-width="2"/>
<line x1="799.5" y1="357.95" x2="803.5" y2="357.95" stroke="#000" stroke-width="2"/>
<line x1="816.3" y1="360.55" x2="816.3" y2="359.75" stroke="#000" stroke-width="2"/>
<line x1="814.3" y1="359.75" x2="818.3" y2="359.75" stroke="#000" stroke-width="2"/>
<line x1="814.3" y1="360.55" x2="818.3" y2="360.55" stroke="#000" stroke-width="2"/>
<circle cx="473.8" cy="238.5" r="3.35" fill="#3A5FCD" stroke="#000" stroke-width="2.3" fill-opacity="0.5" stroke-opacity="0.5"/>
<circle cx="471.5" cy="240.5" r="3.35" fill="#3A5FCD" stroke="#000" stroke-width="2.3" fill-opacity="0.5" stroke-opacity="0.5"/>
<circle cx="468.7" cy="248" r="3.35" fill="#3A5FCD" stroke="#000" stroke-width="2.3" fill-opacity="0.5" stroke-opacity="0.5"/>
<circle cx="480.4" cy="41.9" r="3.35" fill="#00BFC4" stroke="#000" stroke-width="2.3" fill-opacity="0.5" stroke-opacity="0.5"/>
<circle cx="485.9" cy="87" r="3.35" fill="#00BFC4" stroke="#000" stroke-width="2.3" fill-opacity="0.5" stroke-opacity="0.5"/>
<circle cx="492.9" cy="95.8" r="3.35" fill="#00BFC4" stroke="#000" stroke-width="2.3" fill-opacity="0.5" stroke-opacity="0.5"/>
<circle cx="507.9" cy="273" r="3.35" fill="#3A5FCD" stroke="#000" stroke-width="2.3" fill-opacity="0.5" stroke-opacity="0.5"/>
<circle cx="506.8" cy="277.4" r="3.35" fill="#3A5FCD" stroke="#000" stroke-width="2.3" fill-opacity="0.5" stroke-opacity="0.5"/>
<circle cx="505.5" cy="275" r="3.35" fill="#3A5FCD" stroke="#000" stroke-width="2.3" fill-opacity="0.5" stroke-opacity="0.5"/>
<circle cx="523.8" cy="137.2" r="3.35" fill="#00BFC4" stroke="#000" stroke-width="2.3" fill-opacity="0.5" stroke-opacity="0.5"/>
<circle cx="525.1" cy="173.5" r="3.35" fill="#00BFC4" stroke="#000" stroke-width="2.3" fill-opacity="0.5" stroke-opacity="0.5"/>
<circle cx="523.8" cy="192.4" r="3.35" fill="#00BFC4" stroke="#000" stroke-width="2.3" fill-opacity="0.5" stroke-opacity="0.5"/>
<circle cx="533.2" cy="358.4" r="3.35" fill="#3A5FCD" stroke="#000" stroke-width="2.3" fill-opacity="0.5" stroke-opacity="0.5"/>
<circle cx="538.7" cy="358.8" r="3.35" fill="#3A5FCD" stroke="#000" stroke-width="2.3" fill-opacity="0.5" stroke-opacity="0.5"/>
<circle cx="536" cy="360" r="3.35" fill="#3A5FCD" stroke="#000" stroke-width="2.3" fill-opacity="0.5" stroke-opacity="0.5"/>
<circle cx="552.6" cy="183.4" r="3.35" fill="#00BFC4" stroke="#000" stroke-width="2.3" fill-opacity="0.5" stroke-opacity="0.5"/>
<circle cx="548.6" cy="188.3" r="3.35" fill="#00BFC4" stroke="#000" stroke-width="2.3" fill-opacity="0.5" stroke-opacity="0.5"/>
<circle cx="554.6" cy="194.4" r="3.35" fill="#00BFC4" stroke="#000" stroke-width="2.3" fill-opacity="0.5" stroke-opacity="0.5"/>
<circle cx="565.3" cy="328" r="3.35" fill="#3A5FCD" stroke="#000" stroke-width="2.3" fill-opacity="0.5" stroke-opacity="0.5"/>
<circle cx="573.9" cy="332" r="3.35" fill="#3A5FCD" stroke="#000" stroke-width="2.3" fill-opacity="0.5" stroke-opacity="0.5"/>
<circle cx="577.2" cy="332.4" r="3.35" fill="#3A5FCD" stroke="#000" stroke-width="2.3" fill-opacity="0.5" stroke-opacity="0.5"/>
<circle cx="590.9" cy="264.9" r="3.35" fill="#00BFC4" stroke="#000" stroke-width="2.3" fill-opacity="0.5" stroke-opacity="0.5"/>
<circle cx="591.5" cy="268.2" r="3.35" fill="#00BFC4" stroke="#000" stroke-width="2.3" fill-opacity="0.5" stroke-opacity="0.5"/>
<circle cx="589.3" cy="276.3" r="3.35" fill="#00BFC4" stroke="#000" stroke-width="2.3" fill-opacity="0.5" stroke-opacity="0.5"/>
<circle cx="598.1" cy="362.2" r="3.35" fill="#3A5FCD" stroke="#000" stroke-width="2.3" fill-opacity="0.5" stroke-opacity="0.5"/>
<circle cx="599.5" cy="362.2" r="3.35" fill="#3A5FCD" stroke="#000" stroke-width="2.3" fill-opacity="0.5" stroke-opacity="0.5"/>
<circle cx="600.5" cy="362.6" r="3.35" fill="#3A5FCD" stroke="#000" stroke-width="2.3" fill-opacity="0.5" stroke-opacity="0.5"/>
<circle cx="620.1" cy="268.9" r="3.35" fill="#00BFC4" stroke="#000" stroke-width="2.3" fill-opacity="0.5" stroke-opacity="0.5"/>
<circle cx="617.9" cy="271.5" r="3.35" fill="#00BFC4" stroke="#000" stroke-width="2.3" fill-opacity="0.5" stroke-opacity="0.5"/>
<circle cx="622.3" cy="271.5" r="3.35" fill="#00BFC4" stroke="#000" stroke-width="2.3" fill-opacity="0.5" stroke-opacity="0.5"/>
<circle cx="631.1" cy="363.7" r="3.35" fill="#3A5FCD" stroke="#000" stroke-width="2.3" fill-opacity="0.5" stroke-opacity="0.5"/>
<circle cx="635.5" cy="363.7" r="3.35" fill="#3A5FCD" stroke="#000" stroke-width="2.3" fill-opacity="0.5" stroke-opacity="0.5"/>
<circle cx="640.6" cy="363.7" r="3.35" fill="#3A5FCD" stroke="#000" stroke-width="2.3" fill-opacity="0.5" stroke-opacity="0.5"/>
<circle cx="651.6" cy="296.8" r="3.35" fill="#00BFC4" stroke="#000" stroke-width="2.3" fill-opacity="0.5" stroke-opacity="0.5"/>
<circle cx="654.2" cy="296.8" r="3.35" fill="#00BFC4" stroke="#000" stroke-width="2.3" fill-opacity="0.5" stroke-opacity="0.5"/>
<circle cx="656.9" cy="296.2" r="3.35" fill="#00BFC4" stroke="#000" stroke-width="2.3" fill-opacity="0.5" stroke-opacity="0.5"/>
<circle cx="667" cy="301.2" r="3.35" fill="#3A5FCD" stroke="#000" stroke-width="2.3" fill-opacity="0.5" stroke-opacity="0.5"/>
<circle cx="667.9" cy="303" r="3.35" fill="#3A5FCD" stroke="#000" stroke-width="2.3" fill-opacity="0.5" stroke-opacity="0.5"/>
<circle cx="664.6" cy="317" r="3.35" fill="#3A5FCD" stroke="#000" stroke-width="2.3" fill-opacity="0.5" stroke-opacity="0.5"/>
<circle cx="681.1" cy="333.6" r="3.35" fill="#00BFC4" stroke="#000" stroke-width="2.3" fill-opacity="0.5" stroke-opacity="0.5"/>
<circle cx="683.9" cy="331.4" r="3.35" fill="#00BFC4" stroke="#000" stroke-width="2.3" fill-opacity="0.5" stroke-opacity="0.5"/>
<circle cx="690.5" cy="328.3" r="3.35" fill="#00BFC4" stroke="#000" stroke-width="2.3" fill-opacity="0.5" stroke-opacity="0.5"/>
<circle cx="698.2" cy="319.5" r="3.35" fill="#3A5FCD" stroke="#000" stroke-width="2.3" fill-opacity="0.5" stroke-opacity="0.5"/>
<circle cx="704.8" cy="321.7" r="3.35" fill="#3A5FCD" stroke="#000" stroke-width="2.3" fill-opacity="0.5" stroke-opacity="0.5"/>
<circle cx="701.5" cy="327" r="3.35" fill="#3A5FCD" stroke="#000" stroke-width="2.3" fill-opacity="0.5" stroke-opacity="0.5"/>
<circle cx="711.4" cy="332" r="3.35" fill="#00BFC4" stroke="#000" stroke-width="2.3" fill-opacity="0.5" stroke-opacity="0.5"/>
<circle cx="716.9" cy="332" r="3.35" fill="#00BFC4" stroke="#000" stroke-width="2.3" fill-opacity="0.5" stroke-opacity="0.5"/>
<circle cx="722.9" cy="332" r="3.35" fill="#00BFC4" stroke="#000" stroke-width="2.3" fill-opacity="0.5" stroke-opacity="0.5"/>
<circle cx="734.5" cy="320.4" r="3.35" fill="#3A5FCD" stroke="#000" stroke-width="2.3" fill-opacity="0.5" stroke-opacity="0.5"/>
<circle cx="741.1" cy="317.7" r="3.35" fill="#3A5FCD" stroke="#000" stroke-width="2.3" fill-opacity="0.5" stroke-opacity="0.5"/>
<circle cx="740" cy="353.4" r="3.35" fill="#3A5FCD" stroke="#000" stroke-width="2.3" fill-opacity="0.5" stroke-opacity="0.5"/>
<circle cx="745.5" cy="361.7" r="3.35" fill="#00BFC4" stroke="#000" stroke-width="2.3" fill-opacity="0.5" stroke-opacity="0.5"/>
<circle cx="752.1" cy="361.7" r="3.35" fill="#00BFC4" stroke="#000" stroke-width="2.3" fill-opacity="0.5" stroke-opacity="0.5"/>
<circle cx="749" cy="362" r="3.35" fill="#00BFC4" stroke="#000" stroke-width="2.3" fill-opacity="0.5" stroke-opacity="0.5"/>
<circle cx="762" cy="349.6" r="3.35" fill="#3A5FCD" stroke="#000" stroke-width="2.3" fill-opacity="0.5" stroke-opacity="0.5"/>
<circle cx="763.1" cy="351.4" r="3.35" fill="#3A5FCD" stroke="#000" stroke-width="2.3" fill-opacity="0.5" stroke-opacity="0.5"/>
<circle cx="769.7" cy="349.8" r="3.35" fill="#3A5FCD" stroke="#000" stroke-width="2.3" fill-opacity="0.5" stroke-opacity="0.5"/>
<circle cx="777" cy="355.6" r="3.35" fill="#00BFC4" stroke="#000" stroke-width="2.3" fill-opacity="0.5" stroke-opacity="0.5"/>
<circle cx="784" cy="356.5" r="3.35" fill="#00BFC4" stroke="#000" stroke-width="2.3" fill-opacity="0.5" stroke-opacity="0.5"/>
<circle cx="781.8" cy="357" r="3.35" fill="#00BFC4" stroke="#000" stroke-width="2.3" fill-opacity="0.5" stroke-opacity="0.5"/>
<circle cx="795.5" cy="357.3" r="3.35" fill="#3A5FCD" stroke="#000" stroke-width="2.3" fill-opacity="0.5" stroke-opacity="0.5"/>
<circle cx="801.2" cy="357.3" r="3.35" fill="#3A5FCD" stroke="#000" stroke-width="2.3" fill-opacity="0.5" stroke-opacity="0.5"/>
<circle cx="801.6" cy="360" r="3.35" fill="#3A5FCD" stroke="#000" stroke-width="2.3" fill-opacity="0.5" stroke-opacity="0.5"/>
<circle cx="812.6" cy="361.3" r="3.35" fill="#00BFC4" stroke="#000" stroke-width="2.3" fill-opacity="0.5" stroke-opacity="0.5"/>
<circle cx="817" cy="360.8" r="3.35" fill="#00BFC4" stroke="#000" stroke-width="2.3" fill-opacity="0.5" stroke-opacity="0.5"/>
<circle cx="813.7" cy="361.5" r="3.35" fill="#00BFC4" stroke="#000" stroke-width="2.3" fill-opacity="0.5" stroke-opacity="0.5"/>
<line x1="479.3" y1="368" x2="479.3" y2="374" stroke="#333333" stroke-width="2"/>
<text transform="translate(490.2,384.7) rotate(-45)" text-anchor="end" font-size="19.6" fill="#FF0000">BC.G15</text>
<line x1="512.26" y1="368" x2="512.26" y2="374" stroke="#333333" stroke-width="2"/>
<text transform="translate(523.16,384.7) rotate(-45)" text-anchor="end" font-size="19.6" fill="#FF0000">FP.G7</text>
<line x1="545.22" y1="368" x2="545.22" y2="374" stroke="#333333" stroke-width="2"/>
<text transform="translate(556.12,384.7) rotate(-45)" text-anchor="end" font-size="19.6" fill="#FF8C00">RT.G</text>
<line x1="578.18" y1="368" x2="578.18" y2="374" stroke="#333333" stroke-width="2"/>
<text transform="translate(589.08,384.7) rotate(-45)" text-anchor="end" font-size="19.6" fill="#FF8C00">PG.G2</text>
<line x1="611.14" y1="368" x2="611.14" y2="374" stroke="#333333" stroke-width="2"/>
<text transform="translate(622.04,384.7) rotate(-45)" text-anchor="end" font-size="19.6" fill="#FF8C00">BN.G4</text>
<line x1="644.1" y1="368" x2="644.1" y2="374" stroke="#333333" stroke-width="2"/>
<text transform="translate(655,384.7) rotate(-45)" text-anchor="end" font-size="19.6" fill="#FF8C00">BC.G18</text>
<line x1="677.06" y1="368" x2="677.06" y2="374" stroke="#333333" stroke-width="2"/>
<text transform="translate(687.96,384.7) rotate(-45)" text-anchor="end" font-size="19.6" fill="#FF8C00">BC.G3</text>
<line x1="710.02" y1="368" x2="710.02" y2="374" stroke="#333333" stroke-width="2"/>
<text transform="translate(720.92,384.7) rotate(-45)" text-anchor="end" font-size="19.6" fill="#FF8C00">BN.G2</text>
<line x1="742.98" y1="368" x2="742.98" y2="374" stroke="#333333" stroke-width="2"/>
<text transform="translate(753.88,384.7) rotate(-45)" text-anchor="end" font-size="19.6" fill="#FF8C00">BH.G2</text>
<line x1="775.94" y1="368" x2="775.94" y2="374" stroke="#333333" stroke-width="2"/>
<text transform="translate(786.84,384.7) rotate(-45)" text-anchor="end" font-size="19.6" fill="#3A5FCD">SS.G</text>
<line x1="808.9" y1="368" x2="808.9" y2="374" stroke="#333333" stroke-width="2"/>
<text transform="translate(819.8,384.7) rotate(-45)" text-anchor="end" font-size="19.6" fill="#3A5FCD">BN.G5</text>
<path d="M416,437.4 L416,34.7 L836.2,34.7 L836.2,437.4 Z" fill="none" stroke="#000" stroke-width="2.3" stroke-dasharray="4.1 3.8"/>
<path d="M416,437.4 L373,472.3" fill="none" stroke="#000" stroke-width="2.3" stroke-dasharray="4.1 3.8"/>
<path d="M836.2,437.4 L831,479.8" fill="none" stroke="#000" stroke-width="2.3" stroke-dasharray="4.1 3.8"/>
<text transform="translate(889,20)" font-size="27" font-weight="bold">b</text>
<line x1="943.2" y1="20.5" x2="943.2" y2="496.4" stroke="#000" stroke-width="2.2"/>
<line x1="942.1" y1="495.4" x2="1406.3" y2="495.4" stroke="#000" stroke-width="2.2"/>
<line x1="937.8" y1="355.5" x2="943.2" y2="355.5" stroke="#000" stroke-width="2"/>
<text transform="translate(935.5,362.5)" text-anchor="end" font-size="19.8">1</text>
<line x1="937.8" y1="181" x2="943.2" y2="181" stroke="#000" stroke-width="2"/>
<text transform="translate(935.5,188)" text-anchor="end" font-size="19.8">2</text>
<line x1="968.9" y1="495.4" x2="968.9" y2="503.8" stroke="#000" stroke-width="2"/>
<text transform="translate(972.7,520.2)" text-anchor="middle" font-size="19.8">Day 0</text>
<line x1="1105.67" y1="495.4" x2="1105.67" y2="503.8" stroke="#000" stroke-width="2"/>
<text transform="translate(1109.47,520.2)" text-anchor="middle" font-size="19.8">Day 1</text>
<line x1="1242.44" y1="495.4" x2="1242.44" y2="503.8" stroke="#000" stroke-width="2"/>
<text transform="translate(1246.24,520.2)" text-anchor="middle" font-size="19.8">Day 2</text>
<line x1="1379.21" y1="495.4" x2="1379.21" y2="503.8" stroke="#000" stroke-width="2"/>
<text transform="translate(1383.01,520.2)" text-anchor="middle" font-size="19.8">Day 3</text>
<text transform="translate(915.6,256) rotate(-90)" text-anchor="middle" font-size="24.1">Cell Viability (HCT116)</text>
<line x1="968.9" y1="447" x2="968.9" y2="473.7" stroke="#00468B" stroke-width="1.6"/>
<line x1="962.5" y1="447" x2="975.3" y2="447" stroke="#00468B" stroke-width="1.6"/>
<line x1="962.5" y1="473.7" x2="975.3" y2="473.7" stroke="#00468B" stroke-width="1.6"/>
<line x1="968.9" y1="443.8" x2="968.9" y2="467.2" stroke="#ED0000" stroke-width="1.6"/>
<line x1="962.5" y1="443.8" x2="975.3" y2="443.8" stroke="#ED0000" stroke-width="1.6"/>
<line x1="962.5" y1="467.2" x2="975.3" y2="467.2" stroke="#ED0000" stroke-width="1.6"/>
<line x1="1105.67" y1="405.9" x2="1105.67" y2="445.5" stroke="#00468B" stroke-width="1.6"/>
<line x1="1099.27" y1="405.9" x2="1112.07" y2="405.9" stroke="#00468B" stroke-width="1.6"/>
<line x1="1099.27" y1="445.5" x2="1112.07" y2="445.5" stroke="#00468B" stroke-width="1.6"/>
<line x1="1105.67" y1="403.9" x2="1105.67" y2="441.2" stroke="#ED0000" stroke-width="1.6"/>
<line x1="1099.27" y1="403.9" x2="1112.07" y2="403.9" stroke="#ED0000" stroke-width="1.6"/>
<line x1="1099.27" y1="441.2" x2="1112.07" y2="441.2" stroke="#ED0000" stroke-width="1.6"/>
<line x1="1242.44" y1="218.6" x2="1242.44" y2="343" stroke="#00468B" stroke-width="1.6"/>
<line x1="1236.04" y1="218.6" x2="1248.84" y2="218.6" stroke="#00468B" stroke-width="1.6"/>
<line x1="1236.04" y1="343" x2="1248.84" y2="343" stroke="#00468B" stroke-width="1.6"/>
<line x1="1242.44" y1="243.7" x2="1242.44" y2="343.5" stroke="#ED0000" stroke-width="1.6"/>
<line x1="1236.04" y1="243.7" x2="1248.84" y2="243.7" stroke="#ED0000" stroke-width="1.6"/>
<line x1="1236.04" y1="343.5" x2="1248.84" y2="343.5" stroke="#ED0000" stroke-width="1.6"/>
<line x1="1379.21" y1="84.4" x2="1379.21" y2="213.7" stroke="#00468B" stroke-width="1.6"/>
<line x1="1372.81" y1="84.4" x2="1385.61" y2="84.4" stroke="#00468B" stroke-width="1.6"/>
<line x1="1372.81" y1="213.7" x2="1385.61" y2="213.7" stroke="#00468B" stroke-width="1.6"/>
<line x1="1379.21" y1="59.8" x2="1379.21" y2="151.6" stroke="#ED0000" stroke-width="1.6"/>
<line x1="1372.81" y1="59.8" x2="1385.61" y2="59.8" stroke="#ED0000" stroke-width="1.6"/>
<line x1="1372.81" y1="151.6" x2="1385.61" y2="151.6" stroke="#ED0000" stroke-width="1.6"/>
<polyline points="968.9,460.2 1105.67,426.17 1242.44,280.81 1379.21,149.07" fill="none" stroke="#00468B" stroke-width="2.6"/>
<polyline points="968.9,454.97 1105.67,423.03 1242.44,293.55 1379.21,105.44" fill="none" stroke="#ED0000" stroke-width="2.6"/>
<circle cx="968.9" cy="460.2" r="3.6" fill="#00468B"/>
<circle cx="1105.67" cy="426.17" r="3.6" fill="#00468B"/>
<circle cx="1242.44" cy="280.81" r="3.6" fill="#00468B"/>
<circle cx="1379.21" cy="149.07" r="3.6" fill="#00468B"/>
<polygon points="968.9,449.77 964.3,457.87 973.5,457.87" fill="#ED0000"/>
<polygon points="1105.67,417.83 1101.07,425.93 1110.27,425.93" fill="#ED0000"/>
<polygon points="1242.44,288.35 1237.84,296.45 1247.04,296.45" fill="#ED0000"/>
<polygon points="1379.21,100.24 1374.61,108.34 1383.81,108.34" fill="#ED0000"/>
<line x1="955.5" y1="37.9" x2="982" y2="37.9" stroke="#00468B" stroke-width="2.6"/>
<circle cx="968.7" cy="37.9" r="3.6" fill="#00468B"/>
<line x1="955.5" y1="64.1" x2="982" y2="64.1" stroke="#ED0000" stroke-width="2.6"/>
<polygon points="968.7,58.9 964.1,67 973.3,67" fill="#ED0000"/>
<text transform="translate(993.4,43.5)" font-size="19.8">Control</text>
<text transform="translate(993.4,69.5)" font-size="19.8">BC.G3</text>
<text transform="translate(1407.9,55.4)" text-anchor="end" font-size="19.8"><tspan font-style="italic">P</tspan> = 0.042</text>
<text transform="translate(1421,20)" font-size="27" font-weight="bold">c</text>
<defs><clipPath id="cclip"><rect x="1492.8" y="16.2" width="504.7" height="478.2"/></clipPath></defs>
<g clip-path="url(#cclip)">
<g fill="#DCDCDC">
<circle cx="1516.6" cy="478.4" r="3.3"/>
<circle cx="1527.3" cy="478.4" r="3.3"/>
<circle cx="1529.53" cy="478.4" r="3.3"/>
<circle cx="1531.76" cy="478.4" r="3.3"/>
<circle cx="1533.99" cy="478.4" r="3.3"/>
<circle cx="1536.21" cy="478.4" r="3.3"/>
<circle cx="1538.44" cy="478.4" r="3.3"/>
<circle cx="1540.67" cy="478.4" r="3.3"/>
<circle cx="1542.9" cy="478.4" r="3.3"/>
<circle cx="1545.13" cy="478.4" r="3.3"/>
<circle cx="1547.36" cy="478.4" r="3.3"/>
<circle cx="1549.59" cy="478.4" r="3.3"/>
<circle cx="1551.81" cy="478.4" r="3.3"/>
<circle cx="1554.04" cy="478.4" r="3.3"/>
<circle cx="1556.27" cy="478.4" r="3.3"/>
<circle cx="1558.5" cy="478.4" r="3.3"/>
<circle cx="1567.7" cy="478.4" r="3.3"/>
<circle cx="1570.17" cy="478.4" r="3.3"/>
<circle cx="1572.63" cy="478.4" r="3.3"/>
<circle cx="1575.1" cy="478.4" r="3.3"/>
<circle cx="1577.57" cy="478.4" r="3.3"/>
<circle cx="1580.03" cy="478.4" r="3.3"/>
<circle cx="1582.5" cy="478.4" r="3.3"/>
<circle cx="1589.8" cy="478.4" r="3.3"/>
<circle cx="1592.14" cy="478.4" r="3.3"/>
<circle cx="1594.47" cy="478.4" r="3.3"/>
<circle cx="1596.81" cy="478.4" r="3.3"/>
<circle cx="1599.15" cy="478.4" r="3.3"/>
<circle cx="1601.49" cy="478.4" r="3.3"/>
<circle cx="1603.83" cy="478.4" r="3.3"/>
<circle cx="1606.16" cy="478.4" r="3.3"/>
<circle cx="1608.5" cy="478.4" r="3.3"/>
<circle cx="1616.3" cy="478.4" r="3.3"/>
<circle cx="1618.52" cy="478.4" r="3.3"/>
<circle cx="1620.74" cy="478.4" r="3.3"/>
<circle cx="1622.96" cy="478.4" r="3.3"/>
<circle cx="1625.18" cy="478.4" r="3.3"/>
<circle cx="1627.4" cy="478.4" r="3.3"/>
<circle cx="1629.62" cy="478.4" r="3.3"/>
<circle cx="1631.84" cy="478.4" r="3.3"/>
<circle cx="1634.06" cy="478.4" r="3.3"/>
<circle cx="1636.28" cy="478.4" r="3.3"/>
<circle cx="1638.5" cy="478.4" r="3.3"/>
<circle cx="1640.71" cy="478.4" r="3.3"/>
<circle cx="1642.93" cy="478.4" r="3.3"/>
<circle cx="1645.15" cy="478.4" r="3.3"/>
<circle cx="1647.37" cy="478.4" r="3.3"/>
<circle cx="1649.59" cy="478.4" r="3.3"/>
<circle cx="1651.81" cy="478.4" r="3.3"/>
<circle cx="1654.03" cy="478.4" r="3.3"/>
<circle cx="1656.25" cy="478.4" r="3.3"/>
<circle cx="1658.47" cy="478.4" r="3.3"/>
<circle cx="1660.69" cy="478.4" r="3.3"/>
<circle cx="1662.91" cy="478.4" r="3.3"/>
<circle cx="1665.13" cy="478.4" r="3.3"/>
<circle cx="1667.35" cy="478.4" r="3.3"/>
<circle cx="1669.57" cy="478.4" r="3.3"/>
<circle cx="1671.79" cy="478.4" r="3.3"/>
<circle cx="1674.01" cy="478.4" r="3.3"/>
<circle cx="1676.23" cy="478.4" r="3.3"/>
<circle cx="1678.45" cy="478.4" r="3.3"/>
<circle cx="1680.67" cy="478.4" r="3.3"/>
<circle cx="1682.89" cy="478.4" r="3.3"/>
<circle cx="1685.1" cy="478.4" r="3.3"/>
<circle cx="1687.32" cy="478.4" r="3.3"/>
<circle cx="1689.54" cy="478.4" r="3.3"/>
<circle cx="1691.76" cy="478.4" r="3.3"/>
<circle cx="1693.98" cy="478.4" r="3.3"/>
<circle cx="1696.2" cy="478.4" r="3.3"/>
<circle cx="1698.42" cy="478.4" r="3.3"/>
<circle cx="1700.64" cy="478.4" r="3.3"/>
<circle cx="1702.86" cy="478.4" r="3.3"/>
<circle cx="1705.08" cy="478.4" r="3.3"/>
<circle cx="1707.3" cy="478.4" r="3.3"/>
<circle cx="1785.6" cy="478.4" r="3.3"/>
<circle cx="1787.82" cy="478.4" r="3.3"/>
<circle cx="1790.04" cy="478.4" r="3.3"/>
<circle cx="1792.26" cy="478.4" r="3.3"/>
<circle cx="1794.48" cy="478.4" r="3.3"/>
<circle cx="1796.7" cy="478.4" r="3.3"/>
<circle cx="1798.92" cy="478.4" r="3.3"/>
<circle cx="1801.14" cy="478.4" r="3.3"/>
<circle cx="1803.35" cy="478.4" r="3.3"/>
<circle cx="1805.57" cy="478.4" r="3.3"/>
<circle cx="1807.79" cy="478.4" r="3.3"/>
<circle cx="1810.01" cy="478.4" r="3.3"/>
<circle cx="1812.23" cy="478.4" r="3.3"/>
<circle cx="1814.45" cy="478.4" r="3.3"/>
<circle cx="1816.67" cy="478.4" r="3.3"/>
<circle cx="1818.89" cy="478.4" r="3.3"/>
<circle cx="1821.11" cy="478.4" r="3.3"/>
<circle cx="1823.33" cy="478.4" r="3.3"/>
<circle cx="1825.55" cy="478.4" r="3.3"/>
<circle cx="1827.77" cy="478.4" r="3.3"/>
<circle cx="1829.99" cy="478.4" r="3.3"/>
<circle cx="1832.21" cy="478.4" r="3.3"/>
<circle cx="1834.43" cy="478.4" r="3.3"/>
<circle cx="1836.65" cy="478.4" r="3.3"/>
<circle cx="1838.86" cy="478.4" r="3.3"/>
<circle cx="1841.08" cy="478.4" r="3.3"/>
<circle cx="1843.3" cy="478.4" r="3.3"/>
<circle cx="1845.52" cy="478.4" r="3.3"/>
<circle cx="1847.74" cy="478.4" r="3.3"/>
<circle cx="1849.96" cy="478.4" r="3.3"/>
<circle cx="1852.18" cy="478.4" r="3.3"/>
<circle cx="1854.4" cy="478.4" r="3.3"/>
<circle cx="1861" cy="478.4" r="3.3"/>
<circle cx="1864.7" cy="478.4" r="3.3"/>
<circle cx="1872.7" cy="478.4" r="3.3"/>
<circle cx="1875.03" cy="478.4" r="3.3"/>
<circle cx="1877.37" cy="478.4" r="3.3"/>
<circle cx="1879.7" cy="478.4" r="3.3"/>
<circle cx="1882.03" cy="478.4" r="3.3"/>
<circle cx="1884.37" cy="478.4" r="3.3"/>
<circle cx="1886.7" cy="478.4" r="3.3"/>
<circle cx="1889.03" cy="478.4" r="3.3"/>
<circle cx="1891.37" cy="478.4" r="3.3"/>
<circle cx="1893.7" cy="478.4" r="3.3"/>
<circle cx="1896.03" cy="478.4" r="3.3"/>
<circle cx="1898.37" cy="478.4" r="3.3"/>
<circle cx="1900.7" cy="478.4" r="3.3"/>
<circle cx="1903.03" cy="478.4" r="3.3"/>
<circle cx="1905.37" cy="478.4" r="3.3"/>
<circle cx="1907.7" cy="478.4" r="3.3"/>
<circle cx="1915.6" cy="478.4" r="3.3"/>
<circle cx="1918.1" cy="478.4" r="3.3"/>
<circle cx="1920.6" cy="478.4" r="3.3"/>
<circle cx="1923.1" cy="478.4" r="3.3"/>
<circle cx="1925.6" cy="478.4" r="3.3"/>
<circle cx="1928.1" cy="478.4" r="3.3"/>
<circle cx="1930.6" cy="478.4" r="3.3"/>
<circle cx="1933.1" cy="478.4" r="3.3"/>
<circle cx="1943.2" cy="478.4" r="3.3"/>
<circle cx="1951.3" cy="478.4" r="3.3"/>
<circle cx="1953.64" cy="478.4" r="3.3"/>
<circle cx="1955.98" cy="478.4" r="3.3"/>
<circle cx="1958.32" cy="478.4" r="3.3"/>
<circle cx="1960.66" cy="478.4" r="3.3"/>
<circle cx="1963" cy="478.4" r="3.3"/>
<circle cx="1970.3" cy="478.4" r="3.3"/>
<circle cx="1972.8" cy="478.4" r="3.3"/>
<circle cx="1975.3" cy="478.4" r="3.3"/>
<circle cx="1713.35" cy="457.54" r="3.9"/>
<circle cx="1721.98" cy="449.77" r="3.9"/>
<circle cx="1735.19" cy="450.29" r="3.9"/>
<circle cx="1733.85" cy="459.57" r="3.9"/>
<circle cx="1731.56" cy="444.71" r="3.9"/>
<circle cx="1694.06" cy="448.13" r="3.9"/>
<circle cx="1801" cy="452.37" r="3.9"/>
<circle cx="1724.02" cy="444.18" r="3.9"/>
<circle cx="1726.42" cy="458.33" r="3.9"/>
<circle cx="1778.01" cy="456.85" r="3.9"/>
<circle cx="1778.57" cy="452.85" r="3.9"/>
<circle cx="1730.21" cy="459.85" r="3.9"/>
<circle cx="1767.56" cy="451.78" r="3.9"/>
<circle cx="1767" cy="451.3" r="3.9"/>
<circle cx="1765.29" cy="446.88" r="3.9"/>
<circle cx="1797.77" cy="449.96" r="3.9"/>
<circle cx="1799.05" cy="454.54" r="3.9"/>
<circle cx="1705.71" cy="451.96" r="3.9"/>
<circle cx="1735.14" cy="450.63" r="3.9"/>
<circle cx="1783.73" cy="445.76" r="3.9"/>
<circle cx="1785.19" cy="454.01" r="3.9"/>
<circle cx="1775.72" cy="448.97" r="3.9"/>
<circle cx="1779.45" cy="442.77" r="3.9"/>
<circle cx="1781.49" cy="459.82" r="3.9"/>
<circle cx="1801.38" cy="441.99" r="3.9"/>
<circle cx="1709.97" cy="452.58" r="3.9"/>
<circle cx="1730.41" cy="451.14" r="3.9"/>
<circle cx="1710.24" cy="459.87" r="3.9"/>
<circle cx="1722.58" cy="455.38" r="3.9"/>
<circle cx="1771.01" cy="459.28" r="3.9"/>
<circle cx="1799.76" cy="443.77" r="3.9"/>
<circle cx="1771.34" cy="454.74" r="3.9"/>
<circle cx="1690.04" cy="443.76" r="3.9"/>
<circle cx="1728.86" cy="456.95" r="3.9"/>
<circle cx="1712.51" cy="450.7" r="3.9"/>
<circle cx="1723.55" cy="461.71" r="3.9"/>
<circle cx="1694.67" cy="449.21" r="3.9"/>
<circle cx="1783.68" cy="450.14" r="3.9"/>
<circle cx="1790.02" cy="460.01" r="3.9"/>
<circle cx="1798.32" cy="443.92" r="3.9"/>
<circle cx="1732.95" cy="452.33" r="3.9"/>
<circle cx="1755.95" cy="459.78" r="3.9"/>
<circle cx="1725.02" cy="457.27" r="3.9"/>
<circle cx="1732.2" cy="461.93" r="3.9"/>
<circle cx="1735.64" cy="453.02" r="3.9"/>
<circle cx="1760.29" cy="448.36" r="3.9"/>
<circle cx="1723.04" cy="453.34" r="3.9"/>
<circle cx="1688.64" cy="444.34" r="3.9"/>
<circle cx="1757.21" cy="450.72" r="3.9"/>
<circle cx="1727" cy="453.43" r="3.9"/>
<circle cx="1754.53" cy="457.29" r="3.9"/>
<circle cx="1760.01" cy="449.91" r="3.9"/>
<circle cx="1773.56" cy="460.84" r="3.9"/>
<circle cx="1792" cy="444.1" r="3.9"/>
<circle cx="1730.66" cy="452.96" r="3.9"/>
<circle cx="1792.6" cy="449.83" r="3.9"/>
<circle cx="1705.94" cy="455.91" r="3.9"/>
<circle cx="1798.53" cy="444.28" r="3.9"/>
<circle cx="1764.54" cy="446.18" r="3.9"/>
<circle cx="1754.81" cy="453.18" r="3.9"/>
<circle cx="1727.46" cy="454.72" r="3.9"/>
<circle cx="1777.94" cy="442.58" r="3.9"/>
<circle cx="1809.84" cy="442.07" r="3.9"/>
<circle cx="1728.88" cy="455.97" r="3.9"/>
<circle cx="1713.78" cy="456.32" r="3.9"/>
<circle cx="1778.99" cy="444.48" r="3.9"/>
<circle cx="1757.54" cy="445.16" r="3.9"/>
<circle cx="1797.82" cy="443.34" r="3.9"/>
<circle cx="1761.36" cy="450.83" r="3.9"/>
<circle cx="1790.76" cy="453.64" r="3.9"/>
<circle cx="1771.58" cy="452.39" r="3.9"/>
<circle cx="1761.6" cy="446.43" r="3.9"/>
<circle cx="1703.3" cy="457.53" r="3.9"/>
<circle cx="1788.75" cy="457.65" r="3.9"/>
<circle cx="1770.65" cy="447.6" r="3.9"/>
<circle cx="1754.24" cy="458.01" r="3.9"/>
<circle cx="1780.09" cy="447.74" r="3.9"/>
<circle cx="1796.1" cy="451.66" r="3.9"/>
<circle cx="1763.62" cy="456.17" r="3.9"/>
<circle cx="1714.9" cy="455.54" r="3.9"/>
<circle cx="1731.9" cy="451.94" r="3.9"/>
<circle cx="1774" cy="453.21" r="3.9"/>
<circle cx="1776.03" cy="443.43" r="3.9"/>
<circle cx="1779.02" cy="450.39" r="3.9"/>
<circle cx="1769.86" cy="461.13" r="3.9"/>
<circle cx="1710.3" cy="461.72" r="3.9"/>
<circle cx="1706.51" cy="450.92" r="3.9"/>
<circle cx="1776.66" cy="453.77" r="3.9"/>
<circle cx="1758.55" cy="445.42" r="3.9"/>
<circle cx="1764.89" cy="455.37" r="3.9"/>
<circle cx="1780.64" cy="450.28" r="3.9"/>
<circle cx="1777.4" cy="443.29" r="3.9"/>
<circle cx="1778.04" cy="450.32" r="3.9"/>
<circle cx="1778.63" cy="451.31" r="3.9"/>
<circle cx="1793.06" cy="442.82" r="3.9"/>
<circle cx="1767.03" cy="442.81" r="3.9"/>
<circle cx="1801.86" cy="442.79" r="3.9"/>
<circle cx="1721.57" cy="458.24" r="3.9"/>
<circle cx="1734.18" cy="455.53" r="3.9"/>
<circle cx="1803.07" cy="445.43" r="3.9"/>
<circle cx="1707.11" cy="446.58" r="3.9"/>
<circle cx="1689.53" cy="443.78" r="3.9"/>
<circle cx="1718.37" cy="442.64" r="3.9"/>
<circle cx="1802.01" cy="442.04" r="3.9"/>
<circle cx="1716.17" cy="451.71" r="3.9"/>
<circle cx="1725.63" cy="456.51" r="3.9"/>
<circle cx="1774.49" cy="461.1" r="3.9"/>
<circle cx="1726.31" cy="461.15" r="3.9"/>
<circle cx="1756.32" cy="450.2" r="3.9"/>
<circle cx="1807.67" cy="445.35" r="3.9"/>
<circle cx="1735.24" cy="455.01" r="3.9"/>
<circle cx="1758.69" cy="454.9" r="3.9"/>
<circle cx="1697.06" cy="443.31" r="3.9"/>
<circle cx="1702.76" cy="457.57" r="3.9"/>
<circle cx="1757.64" cy="446.85" r="3.9"/>
<circle cx="1718.48" cy="447.06" r="3.9"/>
<circle cx="1706.46" cy="442.87" r="3.9"/>
<circle cx="1788.81" cy="459.2" r="3.9"/>
<circle cx="1716.12" cy="444.11" r="3.9"/>
<circle cx="1696.13" cy="449.45" r="3.9"/>
<circle cx="1718.34" cy="458.05" r="3.9"/>
<circle cx="1731.51" cy="458.54" r="3.9"/>
<circle cx="1725.84" cy="456.38" r="3.9"/>
<circle cx="1724.36" cy="445.84" r="3.9"/>
<circle cx="1767.52" cy="456.91" r="3.9"/>
<circle cx="1735.96" cy="455.32" r="3.9"/>
<circle cx="1762.08" cy="449.49" r="3.9"/>
<circle cx="1758.77" cy="442.93" r="3.9"/>
<circle cx="1776.5" cy="451.69" r="3.9"/>
<circle cx="1776.73" cy="452.44" r="3.9"/>
<circle cx="1771.95" cy="442.16" r="3.9"/>
<circle cx="1786.75" cy="446.74" r="3.9"/>
<circle cx="1734.71" cy="453.34" r="3.9"/>
<circle cx="1711.06" cy="459.55" r="3.9"/>
<circle cx="1733.9" cy="457.25" r="3.9"/>
<circle cx="1790.54" cy="443.98" r="3.9"/>
<circle cx="1726.35" cy="455.5" r="3.9"/>
<circle cx="1771.66" cy="457.38" r="3.9"/>
<circle cx="1688.2" cy="442.49" r="3.9"/>
<circle cx="1797.42" cy="455.45" r="3.9"/>
<circle cx="1736.33" cy="453.16" r="3.9"/>
<circle cx="1716.4" cy="450.89" r="3.9"/>
<circle cx="1736.23" cy="450.34" r="3.9"/>
<circle cx="1723.37" cy="459.04" r="3.9"/>
<circle cx="1727.18" cy="460.99" r="3.9"/>
<circle cx="1714.39" cy="448.87" r="3.9"/>
<circle cx="1790.73" cy="447.6" r="3.9"/>
<circle cx="1767.92" cy="452.51" r="3.9"/>
<circle cx="1784.08" cy="457.57" r="3.9"/>
<circle cx="1786.93" cy="460.31" r="3.9"/>
<circle cx="1791.36" cy="448.13" r="3.9"/>
<circle cx="1774.9" cy="457.81" r="3.9"/>
<circle cx="1798.21" cy="444.57" r="3.9"/>
<circle cx="1799.71" cy="448.9" r="3.9"/>
<circle cx="1764.55" cy="446.98" r="3.9"/>
<circle cx="1724.46" cy="457.96" r="3.9"/>
<circle cx="1711.12" cy="444.56" r="3.9"/>
<circle cx="1788.37" cy="448.15" r="3.9"/>
<circle cx="1784.16" cy="461.75" r="3.9"/>
<circle cx="1779.21" cy="450.37" r="3.9"/>
<circle cx="1783.13" cy="459.67" r="3.9"/>
<circle cx="1728.15" cy="459.44" r="3.9"/>
<circle cx="1785.73" cy="456.3" r="3.9"/>
<circle cx="1771.32" cy="450.54" r="3.9"/>
<circle cx="1793.98" cy="447.14" r="3.9"/>
<circle cx="1757.02" cy="447.86" r="3.9"/>
<circle cx="1708.34" cy="455.25" r="3.9"/>
<circle cx="1736" cy="449.19" r="3.9"/>
<circle cx="1711.11" cy="454.94" r="3.9"/>
<circle cx="1767.62" cy="447.28" r="3.9"/>
<circle cx="1775.33" cy="451.08" r="3.9"/>
<circle cx="1728.1" cy="443.6" r="3.9"/>
<circle cx="1754.52" cy="442.91" r="3.9"/>
<circle cx="1807.97" cy="444.83" r="3.9"/>
<circle cx="1729.34" cy="454.94" r="3.9"/>
<circle cx="1778.38" cy="456.18" r="3.9"/>
<circle cx="1695.31" cy="449.98" r="3.9"/>
<circle cx="1713.69" cy="444.82" r="3.9"/>
<circle cx="1764.65" cy="446.8" r="3.9"/>
<circle cx="1754.71" cy="450.68" r="3.9"/>
<circle cx="1718.55" cy="450.58" r="3.9"/>
<circle cx="1725.01" cy="457.78" r="3.9"/>
<circle cx="1736.31" cy="444.49" r="3.9"/>
<circle cx="1759.32" cy="444.5" r="3.9"/>
<circle cx="1802.25" cy="446.64" r="3.9"/>
<circle cx="1721.73" cy="452.85" r="3.9"/>
<circle cx="1770.8" cy="448.81" r="3.9"/>
<circle cx="1734.96" cy="454.81" r="3.9"/>
<circle cx="1724.29" cy="444.58" r="3.9"/>
<circle cx="1764.41" cy="455.35" r="3.9"/>
<circle cx="1768.75" cy="456.64" r="3.9"/>
<circle cx="1799.32" cy="443.76" r="3.9"/>
<circle cx="1807.76" cy="443.28" r="3.9"/>
<circle cx="1755.84" cy="446.52" r="3.9"/>
<circle cx="1790.03" cy="451.34" r="3.9"/>
<circle cx="1755.52" cy="454.58" r="3.9"/>
<circle cx="1772.5" cy="458.1" r="3.9"/>
<circle cx="1707.96" cy="454.34" r="3.9"/>
<circle cx="1782.54" cy="455.12" r="3.9"/>
<circle cx="1720.61" cy="449.38" r="3.9"/>
<circle cx="1729.76" cy="457.28" r="3.9"/>
<circle cx="1763.37" cy="450.48" r="3.9"/>
<circle cx="1778.37" cy="441.93" r="3.9"/>
<circle cx="1733.67" cy="456.59" r="3.9"/>
<circle cx="1728.97" cy="459" r="3.9"/>
<circle cx="1697.79" cy="449.16" r="3.9"/>
<circle cx="1772.31" cy="452.06" r="3.9"/>
<circle cx="1768.42" cy="452.76" r="3.9"/>
<circle cx="1698.5" cy="454.76" r="3.9"/>
<circle cx="1710.52" cy="450.36" r="3.9"/>
<circle cx="1764.47" cy="456.07" r="3.9"/>
<circle cx="1719.36" cy="452.31" r="3.9"/>
<circle cx="1802.57" cy="444.35" r="3.9"/>
<circle cx="1712.89" cy="460.67" r="3.9"/>
<circle cx="1781.62" cy="450.92" r="3.9"/>
<circle cx="1698.48" cy="452.47" r="3.9"/>
<circle cx="1808.81" cy="444.23" r="3.9"/>
<circle cx="1731.74" cy="458.55" r="3.9"/>
<circle cx="1804.11" cy="447.17" r="3.9"/>
<circle cx="1793.37" cy="447.78" r="3.9"/>
<circle cx="1755.32" cy="449.48" r="3.9"/>
<circle cx="1794.92" cy="455.71" r="3.9"/>
<circle cx="1758.69" cy="454.22" r="3.9"/>
<circle cx="1706.03" cy="447.97" r="3.9"/>
<circle cx="1719.06" cy="459.56" r="3.9"/>
<circle cx="1763.13" cy="452.54" r="3.9"/>
<circle cx="1764.33" cy="461.44" r="3.9"/>
<circle cx="1789.88" cy="442.54" r="3.9"/>
<circle cx="1763.99" cy="450.88" r="3.9"/>
<circle cx="1702.59" cy="442.51" r="3.9"/>
<circle cx="1720.58" cy="461.02" r="3.9"/>
<circle cx="1764.82" cy="451.93" r="3.9"/>
<circle cx="1765.16" cy="443.09" r="3.9"/>
<circle cx="1720.82" cy="453.52" r="3.9"/>
<circle cx="1788.33" cy="456.46" r="3.9"/>
<circle cx="1762.69" cy="450.33" r="3.9"/>
<circle cx="1791.39" cy="454.05" r="3.9"/>
<circle cx="1708.06" cy="455.95" r="3.9"/>
<circle cx="1713.47" cy="442.65" r="3.9"/>
<circle cx="1721.73" cy="455.91" r="3.9"/>
<circle cx="1760.88" cy="442.7" r="3.9"/>
<circle cx="1699.36" cy="456.13" r="3.9"/>
<circle cx="1734.78" cy="460.08" r="3.9"/>
<circle cx="1693.8" cy="443.53" r="3.9"/>
<circle cx="1808.47" cy="441.91" r="3.9"/>
<circle cx="1701.43" cy="456.74" r="3.9"/>
<circle cx="1779.33" cy="460.68" r="3.9"/>
<circle cx="1724.21" cy="452.82" r="3.9"/>
<circle cx="1728.15" cy="461.77" r="3.9"/>
<circle cx="1731.38" cy="442.59" r="3.9"/>
<circle cx="1768.15" cy="456.25" r="3.9"/>
<circle cx="1776.17" cy="444.79" r="3.9"/>
<circle cx="1722" cy="450.92" r="3.9"/>
<circle cx="1768.38" cy="456.57" r="3.9"/>
<circle cx="1768.84" cy="460.73" r="3.9"/>
<circle cx="1755.47" cy="445.72" r="3.9"/>
<circle cx="1704.43" cy="459.77" r="3.9"/>
<circle cx="1694.9" cy="446.05" r="3.9"/>
<circle cx="1699.02" cy="454.86" r="3.9"/>
<circle cx="1785.5" cy="455.08" r="3.9"/>
<circle cx="1736.27" cy="454.8" r="3.9"/>
<circle cx="1788.81" cy="443.23" r="3.9"/>
<circle cx="1761.87" cy="460.93" r="3.9"/>
<circle cx="1809.28" cy="442.57" r="3.9"/>
<circle cx="1721.03" cy="455.31" r="3.9"/>
<circle cx="1762.78" cy="443.04" r="3.9"/>
<circle cx="1797.98" cy="446.2" r="3.9"/>
<circle cx="1769.2" cy="448.48" r="3.9"/>
<circle cx="1705.3" cy="453.05" r="3.9"/>
<circle cx="1708.7" cy="456.48" r="3.9"/>
<circle cx="1735.51" cy="459.71" r="3.9"/>
<circle cx="1799.82" cy="453.77" r="3.9"/>
<circle cx="1767.51" cy="442.07" r="3.9"/>
<circle cx="1719.73" cy="458.87" r="3.9"/>
<circle cx="1763.85" cy="451.41" r="3.9"/>
<circle cx="1707.35" cy="448.25" r="3.9"/>
<circle cx="1789.92" cy="444.37" r="3.9"/>
<circle cx="1723.89" cy="444.48" r="3.9"/>
<circle cx="1788.17" cy="452.83" r="3.9"/>
<circle cx="1728.1" cy="455.39" r="3.9"/>
<circle cx="1709.77" cy="443.76" r="3.9"/>
<circle cx="1695.44" cy="452.39" r="3.9"/>
<circle cx="1789.46" cy="455.73" r="3.9"/>
<circle cx="1758.65" cy="442.02" r="3.9"/>
<circle cx="1800.17" cy="444.84" r="3.9"/>
<circle cx="1764.3" cy="460.42" r="3.9"/>
<circle cx="1699.83" cy="456.65" r="3.9"/>
<circle cx="1773.38" cy="443.01" r="3.9"/>
<circle cx="1765.07" cy="451.37" r="3.9"/>
<circle cx="1758.76" cy="442.75" r="3.9"/>
<circle cx="1763.67" cy="448.26" r="3.9"/>
<circle cx="1729.97" cy="457.76" r="3.9"/>
<circle cx="1708.61" cy="448.62" r="3.9"/>
<circle cx="1726.52" cy="461.4" r="3.9"/>
<circle cx="1766.06" cy="456.75" r="3.9"/>
<circle cx="1711.94" cy="445.24" r="3.9"/>
<circle cx="1723.43" cy="458.74" r="3.9"/>
<circle cx="1757.64" cy="447.92" r="3.9"/>
<circle cx="1719.16" cy="446.94" r="3.9"/>
<circle cx="1698.63" cy="454.14" r="3.9"/>
<circle cx="1722.19" cy="449.21" r="3.9"/>
<circle cx="1688.24" cy="444.09" r="3.9"/>
<circle cx="1709.71" cy="456.48" r="3.9"/>
<circle cx="1706.54" cy="461.63" r="3.9"/>
<circle cx="1718.66" cy="444.82" r="3.9"/>
<circle cx="1760.58" cy="451.15" r="3.9"/>
<circle cx="1709.57" cy="449.48" r="3.9"/>
<circle cx="1778.54" cy="459.06" r="3.9"/>
<circle cx="1731.18" cy="450.34" r="3.9"/>
<circle cx="1696.64" cy="450.03" r="3.9"/>
<circle cx="1702.67" cy="450.6" r="3.9"/>
<circle cx="1758.4" cy="456.48" r="3.9"/>
<circle cx="1780.19" cy="442.27" r="3.9"/>
<circle cx="1719.01" cy="443.07" r="3.9"/>
<circle cx="1796.39" cy="448.25" r="3.9"/>
<circle cx="1727.34" cy="445.4" r="3.9"/>
<circle cx="1697.26" cy="444.38" r="3.9"/>
<circle cx="1722.43" cy="456.02" r="3.9"/>
<circle cx="1758.65" cy="452.63" r="3.9"/>
<circle cx="1695.26" cy="446.43" r="3.9"/>
<circle cx="1704.03" cy="449.29" r="3.9"/>
<circle cx="1731.8" cy="444.52" r="3.9"/>
<circle cx="1784.56" cy="449.51" r="3.9"/>
<circle cx="1713.37" cy="451.92" r="3.9"/>
<circle cx="1717.67" cy="447.58" r="3.9"/>
<circle cx="1716.31" cy="460.96" r="3.9"/>
<circle cx="1787.35" cy="455.65" r="3.9"/>
<circle cx="1761.35" cy="451.2" r="3.9"/>
<circle cx="1758.25" cy="458.6" r="3.9"/>
<circle cx="1721.83" cy="458.99" r="3.9"/>
<circle cx="1778.32" cy="460.41" r="3.9"/>
<circle cx="1701.15" cy="446.29" r="3.9"/>
<circle cx="1772.97" cy="460.01" r="3.9"/>
<circle cx="1730.83" cy="442.67" r="3.9"/>
<circle cx="1795.73" cy="441.94" r="3.9"/>
<circle cx="1797.12" cy="456.56" r="3.9"/>
<circle cx="1806.86" cy="442.57" r="3.9"/>
<circle cx="1692.73" cy="445.35" r="3.9"/>
<circle cx="1706.57" cy="453.27" r="3.9"/>
<circle cx="1724.57" cy="443.56" r="3.9"/>
<circle cx="1774" cy="457.71" r="3.9"/>
<circle cx="1764.08" cy="456.23" r="3.9"/>
<circle cx="1755.09" cy="453.91" r="3.9"/>
<circle cx="1701.85" cy="457.29" r="3.9"/>
<circle cx="1761.95" cy="443.57" r="3.9"/>
<circle cx="1774.91" cy="458.4" r="3.9"/>
<circle cx="1794.91" cy="453.09" r="3.9"/>
<circle cx="1799.06" cy="448.97" r="3.9"/>
<circle cx="1706.25" cy="441.99" r="3.9"/>
<circle cx="1725.38" cy="445.2" r="3.9"/>
<circle cx="1770.7" cy="449.02" r="3.9"/>
<circle cx="1761.17" cy="451.5" r="3.9"/>
<circle cx="1786.37" cy="460.18" r="3.9"/>
<circle cx="1692.1" cy="447.92" r="3.9"/>
<circle cx="1768.7" cy="447.49" r="3.9"/>
<circle cx="1732.12" cy="460.62" r="3.9"/>
<circle cx="1777.39" cy="451.69" r="3.9"/>
<circle cx="1762.21" cy="457.98" r="3.9"/>
<circle cx="1753.9" cy="461" r="3.9"/>
<circle cx="1724.76" cy="458.61" r="3.9"/>
<circle cx="1711.66" cy="448.91" r="3.9"/>
<circle cx="1716.6" cy="448.19" r="3.9"/>
<circle cx="1725.93" cy="442.9" r="3.9"/>
<circle cx="1714.54" cy="458.88" r="3.9"/>
<circle cx="1774.19" cy="445.46" r="3.9"/>
<circle cx="1715.6" cy="461.39" r="3.9"/>
<circle cx="1783.19" cy="453.28" r="3.9"/>
<circle cx="1701.29" cy="442.89" r="3.9"/>
<circle cx="1734.78" cy="443.44" r="3.9"/>
<circle cx="1763.85" cy="452.19" r="3.9"/>
<circle cx="1735.98" cy="445.51" r="3.9"/>
<circle cx="1760.65" cy="442.83" r="3.9"/>
<circle cx="1715.24" cy="448.47" r="3.9"/>
<circle cx="1762.06" cy="444.93" r="3.9"/>
<circle cx="1734.93" cy="454.29" r="3.9"/>
<circle cx="1792.22" cy="445.45" r="3.9"/>
<circle cx="1701.61" cy="444.42" r="3.9"/>
<circle cx="1776.73" cy="446.14" r="3.9"/>
<circle cx="1729.14" cy="458.64" r="3.9"/>
<circle cx="1707.04" cy="453.58" r="3.9"/>
<circle cx="1792.73" cy="444.4" r="3.9"/>
<circle cx="1718.8" cy="449.44" r="3.9"/>
<circle cx="1765.65" cy="450" r="3.9"/>
<circle cx="1764.74" cy="442.44" r="3.9"/>
<circle cx="1762.81" cy="461.25" r="3.9"/>
<circle cx="1692.6" cy="446.11" r="3.9"/>
<circle cx="1794.7" cy="453.75" r="3.9"/>
<circle cx="1701.7" cy="455.56" r="3.9"/>
<circle cx="1788.27" cy="446.98" r="3.9"/>
<circle cx="1794.96" cy="450.99" r="3.9"/>
<circle cx="1776.68" cy="444.2" r="3.9"/>
<circle cx="1767.99" cy="449.14" r="3.9"/>
<circle cx="1733.66" cy="448.21" r="3.9"/>
<circle cx="1754.65" cy="457.68" r="3.9"/>
<circle cx="1721.1" cy="443.03" r="3.9"/>
<circle cx="1735.32" cy="460.79" r="3.9"/>
<circle cx="1789.38" cy="448.01" r="3.9"/>
<circle cx="1776.8" cy="459.68" r="3.9"/>
<circle cx="1698.09" cy="444.86" r="3.9"/>
<circle cx="1788.91" cy="459.68" r="3.9"/>
<circle cx="1758.83" cy="442.77" r="3.9"/>
<circle cx="1735.47" cy="458.47" r="3.9"/>
<circle cx="1787.75" cy="444.96" r="3.9"/>
<circle cx="1767.24" cy="448.05" r="3.9"/>
<circle cx="1709.99" cy="458.83" r="3.9"/>
<circle cx="1720.81" cy="453.9" r="3.9"/>
<circle cx="1726.67" cy="455.19" r="3.9"/>
<circle cx="1767.55" cy="452.93" r="3.9"/>
<circle cx="1796.13" cy="450.35" r="3.9"/>
<circle cx="1768.94" cy="460.71" r="3.9"/>
<circle cx="1721.7" cy="445.61" r="3.9"/>
<circle cx="1763.34" cy="449.73" r="3.9"/>
<circle cx="1787.33" cy="459.01" r="3.9"/>
<circle cx="1730.64" cy="461.86" r="3.9"/>
<circle cx="1753.99" cy="442.23" r="3.9"/>
<circle cx="1792.97" cy="450.58" r="3.9"/>
<circle cx="1722.98" cy="450.52" r="3.9"/>
<circle cx="1796.66" cy="455.11" r="3.9"/>
<circle cx="1710.63" cy="456.09" r="3.9"/>
<circle cx="1779.49" cy="458.53" r="3.9"/>
<circle cx="1704.61" cy="445.36" r="3.9"/>
<circle cx="1770.76" cy="448.12" r="3.9"/>
<circle cx="1700.07" cy="452.41" r="3.9"/>
<circle cx="1735.51" cy="443.69" r="3.9"/>
<circle cx="1701.58" cy="455.06" r="3.9"/>
<circle cx="1795.82" cy="452.71" r="3.9"/>
<circle cx="1715.25" cy="451.15" r="3.9"/>
<circle cx="1787.84" cy="445.95" r="3.9"/>
<circle cx="1731.19" cy="453.75" r="3.9"/>
<circle cx="1792.27" cy="447.52" r="3.9"/>
<circle cx="1704.73" cy="451.57" r="3.9"/>
<circle cx="1772.05" cy="458.13" r="3.9"/>
<circle cx="1761.18" cy="455.59" r="3.9"/>
<circle cx="1698.21" cy="446.81" r="3.9"/>
<circle cx="1728.39" cy="457.42" r="3.9"/>
<circle cx="1730.56" cy="450.02" r="3.9"/>
<circle cx="1699.75" cy="456.66" r="3.9"/>
<circle cx="1794.06" cy="458.73" r="3.9"/>
<circle cx="1696.02" cy="452.62" r="3.9"/>
<circle cx="1775.7" cy="446.29" r="3.9"/>
<circle cx="1732.51" cy="447.94" r="3.9"/>
<circle cx="1735.36" cy="452.54" r="3.9"/>
<circle cx="1704.76" cy="445.31" r="3.9"/>
<circle cx="1776.5" cy="448.04" r="3.9"/>
<circle cx="1719.9" cy="448.55" r="3.9"/>
<circle cx="1776.6" cy="443.37" r="3.9"/>
<circle cx="1775.04" cy="446.02" r="3.9"/>
<circle cx="1696.16" cy="446.48" r="3.9"/>
<circle cx="1799.17" cy="446.86" r="3.9"/>
<circle cx="1776.07" cy="447.88" r="3.9"/>
<circle cx="1732.87" cy="448.11" r="3.9"/>
<circle cx="1703.86" cy="445.46" r="3.9"/>
<circle cx="1771.49" cy="455.33" r="3.9"/>
<circle cx="1773.55" cy="448.23" r="3.9"/>
<circle cx="1762.8" cy="443" r="3.9"/>
<circle cx="1773.43" cy="445.53" r="3.9"/>
<circle cx="1755.46" cy="442.28" r="3.9"/>
<circle cx="1786.95" cy="457.3" r="3.9"/>
<circle cx="1757.92" cy="450.07" r="3.9"/>
<circle cx="1789.34" cy="449.67" r="3.9"/>
<circle cx="1796.92" cy="447.92" r="3.9"/>
<circle cx="1799.75" cy="452.11" r="3.9"/>
<circle cx="1720.02" cy="447.13" r="3.9"/>
<circle cx="1795.59" cy="458.22" r="3.9"/>
<circle cx="1727.95" cy="459.94" r="3.9"/>
<circle cx="1723.43" cy="461.32" r="3.9"/>
<circle cx="1721.79" cy="446.89" r="3.9"/>
<circle cx="1708.8" cy="455.88" r="3.9"/>
<circle cx="1763.42" cy="449.93" r="3.9"/>
<circle cx="1762.62" cy="452.47" r="3.9"/>
<circle cx="1699.06" cy="445.55" r="3.9"/>
<circle cx="1780.28" cy="451" r="3.9"/>
<circle cx="1720.55" cy="442.46" r="3.9"/>
<circle cx="1798.69" cy="444.84" r="3.9"/>
<circle cx="1777.77" cy="454.41" r="3.9"/>
<circle cx="1721.05" cy="444.59" r="3.9"/>
<circle cx="1769.46" cy="454.97" r="3.9"/>
<circle cx="1729.8" cy="451.81" r="3.9"/>
<circle cx="1724.9" cy="446.49" r="3.9"/>
<circle cx="1718.68" cy="454.26" r="3.9"/>
<circle cx="1707.89" cy="447.95" r="3.9"/>
<circle cx="1694.98" cy="443.03" r="3.9"/>
<circle cx="1693.5" cy="444.69" r="3.9"/>
<circle cx="1788.86" cy="457.78" r="3.9"/>
<circle cx="1754.13" cy="461.26" r="3.9"/>
<circle cx="1765.43" cy="447.63" r="3.9"/>
<circle cx="1728.94" cy="457.73" r="3.9"/>
<circle cx="1759.84" cy="453.36" r="3.9"/>
<circle cx="1761.66" cy="445.3" r="3.9"/>
<circle cx="1793.78" cy="448.46" r="3.9"/>
<circle cx="1797.97" cy="443.6" r="3.9"/>
<circle cx="1783.39" cy="456.48" r="3.9"/>
<circle cx="1775.96" cy="446.14" r="3.9"/>
<circle cx="1765.75" cy="449.42" r="3.9"/>
<circle cx="1719.51" cy="457.81" r="3.9"/>
<circle cx="1731.31" cy="451.04" r="3.9"/>
<circle cx="1779.39" cy="450.46" r="3.9"/>
<circle cx="1786.1" cy="461.6" r="3.9"/>
<circle cx="1786.78" cy="449.28" r="3.9"/>
<circle cx="1772.27" cy="452.8" r="3.9"/>
<circle cx="1778.96" cy="459.42" r="3.9"/>
<circle cx="1776.97" cy="460.79" r="3.9"/>
<circle cx="1770.99" cy="442.98" r="3.9"/>
<circle cx="1776.65" cy="450.23" r="3.9"/>
<circle cx="1781.65" cy="460.62" r="3.9"/>
<circle cx="1793.96" cy="453.51" r="3.9"/>
<circle cx="1715.4" cy="450.9" r="3.9"/>
<circle cx="1771.68" cy="456.18" r="3.9"/>
<circle cx="1700.86" cy="449.44" r="3.9"/>
<circle cx="1718.74" cy="444.69" r="3.9"/>
<circle cx="1775.54" cy="454.88" r="3.9"/>
<circle cx="1795.02" cy="447.65" r="3.9"/>
<circle cx="1725.76" cy="453.95" r="3.9"/>
<circle cx="1794.31" cy="448" r="3.9"/>
<circle cx="1695.87" cy="446.47" r="3.9"/>
<circle cx="1764.64" cy="460.14" r="3.9"/>
<circle cx="1701.95" cy="456.64" r="3.9"/>
<circle cx="1794.9" cy="447.59" r="3.9"/>
<circle cx="1784.67" cy="448.4" r="3.9"/>
<circle cx="1784.4" cy="446.92" r="3.9"/>
<circle cx="1782.4" cy="456.14" r="3.9"/>
<circle cx="1758.29" cy="445.79" r="3.9"/>
<circle cx="1710.42" cy="460.52" r="3.9"/>
<circle cx="1771.62" cy="447.63" r="3.9"/>
<circle cx="1783.31" cy="445.39" r="3.9"/>
<circle cx="1721.01" cy="454.25" r="3.9"/>
<circle cx="1710.68" cy="451.72" r="3.9"/>
<circle cx="1775.65" cy="460" r="3.9"/>
<circle cx="1707.6" cy="458.3" r="3.9"/>
<circle cx="1777.63" cy="443.19" r="3.9"/>
<circle cx="1713.26" cy="452.56" r="3.9"/>
<circle cx="1779.79" cy="442.18" r="3.9"/>
<circle cx="1714.22" cy="458.72" r="3.9"/>
<circle cx="1735.98" cy="457.51" r="3.9"/>
<circle cx="1731.85" cy="447.14" r="3.9"/>
<circle cx="1789.51" cy="459.08" r="3.9"/>
<circle cx="1712.82" cy="461.16" r="3.9"/>
<circle cx="1729" cy="446.28" r="3.9"/>
<circle cx="1703.92" cy="445.6" r="3.9"/>
<circle cx="1757.43" cy="446.35" r="3.9"/>
<circle cx="1776.94" cy="446.7" r="3.9"/>
<circle cx="1797.55" cy="455.25" r="3.9"/>
<circle cx="1754.22" cy="461.4" r="3.9"/>
<circle cx="1757.31" cy="444.87" r="3.9"/>
<circle cx="1729.92" cy="446.35" r="3.9"/>
<circle cx="1756.11" cy="450.68" r="3.9"/>
<circle cx="1718.55" cy="449.06" r="3.9"/>
<circle cx="1787.38" cy="457.68" r="3.9"/>
<circle cx="1709.22" cy="447.82" r="3.9"/>
<circle cx="1704.82" cy="452.59" r="3.9"/>
<circle cx="1783.56" cy="445.42" r="3.9"/>
<circle cx="1702.41" cy="459.83" r="3.9"/>
<circle cx="1770.56" cy="444.7" r="3.9"/>
<circle cx="1801.77" cy="442.24" r="3.9"/>
<circle cx="1772.21" cy="454.12" r="3.9"/>
<circle cx="1785.51" cy="452.76" r="3.9"/>
<circle cx="1799.2" cy="443.56" r="3.9"/>
<circle cx="1728.7" cy="461.84" r="3.9"/>
<circle cx="1700.97" cy="448.85" r="3.9"/>
<circle cx="1786.81" cy="460.36" r="3.9"/>
<circle cx="1784.61" cy="444.04" r="3.9"/>
<circle cx="1698.35" cy="444.3" r="3.9"/>
<circle cx="1771.84" cy="443.27" r="3.9"/>
<circle cx="1702.25" cy="449.44" r="3.9"/>
<circle cx="1693.18" cy="446" r="3.9"/>
<circle cx="1707.31" cy="448.49" r="3.9"/>
<circle cx="1763.72" cy="456.27" r="3.9"/>
<circle cx="1777.5" cy="445.3" r="3.9"/>
<circle cx="1700.63" cy="445.05" r="3.9"/>
<circle cx="1697.19" cy="448.98" r="3.9"/>
<circle cx="1776.33" cy="450.02" r="3.9"/>
<circle cx="1761.03" cy="456.66" r="3.9"/>
<circle cx="1721.29" cy="446.84" r="3.9"/>
<circle cx="1777.34" cy="452.26" r="3.9"/>
<circle cx="1701.91" cy="460.29" r="3.9"/>
<circle cx="1714.61" cy="458.62" r="3.9"/>
<circle cx="1778.4" cy="457.41" r="3.9"/>
<circle cx="1735.75" cy="450.07" r="3.9"/>
<circle cx="1693.64" cy="442.03" r="3.9"/>
<circle cx="1765.66" cy="449.2" r="3.9"/>
<circle cx="1799.96" cy="451.81" r="3.9"/>
<circle cx="1807.67" cy="444.84" r="3.9"/>
<circle cx="1730.47" cy="460.49" r="3.9"/>
<circle cx="1735.01" cy="459.2" r="3.9"/>
<circle cx="1777.99" cy="443.98" r="3.9"/>
<circle cx="1756.65" cy="443.34" r="3.9"/>
<circle cx="1758.54" cy="452.36" r="3.9"/>
<circle cx="1778.13" cy="455.18" r="3.9"/>
<circle cx="1791.41" cy="442.58" r="3.9"/>
<circle cx="1730.76" cy="451.39" r="3.9"/>
<circle cx="1765.09" cy="442.01" r="3.9"/>
<circle cx="1724.03" cy="455.21" r="3.9"/>
<circle cx="1801.15" cy="443.42" r="3.9"/>
<circle cx="1704" cy="445.39" r="3.9"/>
<circle cx="1756.3" cy="442.11" r="3.9"/>
<circle cx="1692.72" cy="445.92" r="3.9"/>
<circle cx="1779.9" cy="454.32" r="3.9"/>
<circle cx="1766.01" cy="458.64" r="3.9"/>
<circle cx="1720.09" cy="458.17" r="3.9"/>
<circle cx="1731.81" cy="455.58" r="3.9"/>
<circle cx="1766.82" cy="442.41" r="3.9"/>
<circle cx="1721.6" cy="442.37" r="3.9"/>
<circle cx="1722.11" cy="411.64" r="3.9"/>
<circle cx="1764.54" cy="441.73" r="3.9"/>
<circle cx="1722.32" cy="411.98" r="3.9"/>
<circle cx="1763.63" cy="435.2" r="3.9"/>
<circle cx="1766.07" cy="434.37" r="3.9"/>
<circle cx="1728.97" cy="440.68" r="3.9"/>
<circle cx="1761.97" cy="431.61" r="3.9"/>
<circle cx="1764.24" cy="439.91" r="3.9"/>
<circle cx="1722.34" cy="439.82" r="3.9"/>
<circle cx="1725.29" cy="441.42" r="3.9"/>
<circle cx="1728.48" cy="413.64" r="3.9"/>
<circle cx="1768.33" cy="442.3" r="3.9"/>
<circle cx="1764.79" cy="440.84" r="3.9"/>
<circle cx="1727.74" cy="440.07" r="3.9"/>
<circle cx="1721" cy="407.77" r="3.9"/>
<circle cx="1763.2" cy="442.08" r="3.9"/>
<circle cx="1766.9" cy="442.3" r="3.9"/>
<circle cx="1729.32" cy="408.63" r="3.9"/>
<circle cx="1761.94" cy="438.32" r="3.9"/>
<circle cx="1724.99" cy="417.98" r="3.9"/>
<circle cx="1721.73" cy="435.73" r="3.9"/>
<circle cx="1728.28" cy="430.9" r="3.9"/>
<circle cx="1723.43" cy="421.48" r="3.9"/>
<circle cx="1728.71" cy="442.2" r="3.9"/>
<circle cx="1763.07" cy="433.76" r="3.9"/>
<circle cx="1723.46" cy="429.18" r="3.9"/>
<circle cx="1762.46" cy="430.43" r="3.9"/>
<circle cx="1726" cy="423.48" r="3.9"/>
<circle cx="1767.61" cy="442.31" r="3.9"/>
<circle cx="1722.13" cy="417.41" r="3.9"/>
<circle cx="1768.46" cy="442.41" r="3.9"/>
<circle cx="1763" cy="415.59" r="3.9"/>
<circle cx="1726.34" cy="418.02" r="3.9"/>
<circle cx="1724.41" cy="437.56" r="3.9"/>
<circle cx="1725.68" cy="432.88" r="3.9"/>
<circle cx="1766.8" cy="441.9" r="3.9"/>
<circle cx="1763.47" cy="415.99" r="3.9"/>
<circle cx="1767.11" cy="437.29" r="3.9"/>
<circle cx="1667.2" cy="459.1" r="3.9"/>
<circle cx="1884.9" cy="447.3" r="3.9"/>
<circle cx="1901.2" cy="448" r="3.9"/>
</g>
<g fill="#3A5FCD" fill-opacity="0.78">
<circle cx="1688.49" cy="441.39" r="4.9"/>
<circle cx="1714.68" cy="392.26" r="4.9"/>
<circle cx="1709.51" cy="430.69" r="4.9"/>
<circle cx="1720.87" cy="429.87" r="4.9"/>
<circle cx="1719.64" cy="386.66" r="4.9"/>
<circle cx="1720.35" cy="439.14" r="4.9"/>
<circle cx="1693.23" cy="437.72" r="4.9"/>
<circle cx="1720.4" cy="441.92" r="4.9"/>
<circle cx="1719.32" cy="422.87" r="4.9"/>
<circle cx="1704.92" cy="442.13" r="4.9"/>
<circle cx="1710.06" cy="428.43" r="4.9"/>
<circle cx="1720.43" cy="422.67" r="4.9"/>
<circle cx="1704.96" cy="409.25" r="4.9"/>
<circle cx="1720.11" cy="441.67" r="4.9"/>
<circle cx="1710.62" cy="431.34" r="4.9"/>
<circle cx="1720.15" cy="437.08" r="4.9"/>
<circle cx="1719.99" cy="433.95" r="4.9"/>
<circle cx="1693.12" cy="427.83" r="4.9"/>
<circle cx="1706.54" cy="439.82" r="4.9"/>
<circle cx="1719.79" cy="420.06" r="4.9"/>
<circle cx="1692.83" cy="413.94" r="4.9"/>
<circle cx="1713.3" cy="434.4" r="4.9"/>
<circle cx="1711.69" cy="412.6" r="4.9"/>
<circle cx="1685.87" cy="434.22" r="4.9"/>
<circle cx="1716.65" cy="417.99" r="4.9"/>
<circle cx="1715.8" cy="437.94" r="4.9"/>
<circle cx="1683.4" cy="433.1" r="4.9"/>
<circle cx="1693.62" cy="415.85" r="4.9"/>
<circle cx="1697.45" cy="414.94" r="4.9"/>
<circle cx="1708.88" cy="441.52" r="4.9"/>
<circle cx="1700.58" cy="390.85" r="4.9"/>
<circle cx="1713" cy="437.75" r="4.9"/>
<circle cx="1715.56" cy="426.11" r="4.9"/>
<circle cx="1720.65" cy="430.1" r="4.9"/>
<circle cx="1710.28" cy="433.18" r="4.9"/>
<circle cx="1719.89" cy="442.08" r="4.9"/>
<circle cx="1707.84" cy="385.48" r="4.9"/>
<circle cx="1710.17" cy="397.42" r="4.9"/>
<circle cx="1695.33" cy="415.44" r="4.9"/>
<circle cx="1720.84" cy="407.25" r="4.9"/>
<circle cx="1717.98" cy="425.71" r="4.9"/>
<circle cx="1717.87" cy="423.94" r="4.9"/>
<circle cx="1688.51" cy="429.69" r="4.9"/>
<circle cx="1718.26" cy="426.61" r="4.9"/>
<circle cx="1713.15" cy="430.46" r="4.9"/>
<circle cx="1718.64" cy="393.35" r="4.9"/>
<circle cx="1703.32" cy="436.48" r="4.9"/>
<circle cx="1705.43" cy="440.33" r="4.9"/>
<circle cx="1714.3" cy="391.52" r="4.9"/>
<circle cx="1711.4" cy="437.33" r="4.9"/>
<circle cx="1719.89" cy="429.99" r="4.9"/>
<circle cx="1720.01" cy="440.26" r="4.9"/>
<circle cx="1713.62" cy="436.76" r="4.9"/>
<circle cx="1718.14" cy="436.88" r="4.9"/>
<circle cx="1707.64" cy="440.92" r="4.9"/>
<circle cx="1708.69" cy="412.6" r="4.9"/>
<circle cx="1704.46" cy="428.67" r="4.9"/>
<circle cx="1699.49" cy="438.76" r="4.9"/>
<circle cx="1708.58" cy="432.36" r="4.9"/>
<circle cx="1712.21" cy="426.97" r="4.9"/>
<circle cx="1718.18" cy="436.36" r="4.9"/>
<circle cx="1709.43" cy="438.34" r="4.9"/>
<circle cx="1706.63" cy="434.55" r="4.9"/>
<circle cx="1715.06" cy="442.22" r="4.9"/>
<circle cx="1718.9" cy="410.18" r="4.9"/>
<circle cx="1711.19" cy="429.17" r="4.9"/>
<circle cx="1681.54" cy="436.96" r="4.9"/>
<circle cx="1696.29" cy="436.71" r="4.9"/>
<circle cx="1720.65" cy="439.61" r="4.9"/>
<circle cx="1714.61" cy="409.03" r="4.9"/>
<circle cx="1713.95" cy="441.38" r="4.9"/>
<circle cx="1699.24" cy="432.98" r="4.9"/>
<circle cx="1718.44" cy="440.53" r="4.9"/>
<circle cx="1708.02" cy="390.28" r="4.9"/>
<circle cx="1715.66" cy="439.68" r="4.9"/>
<circle cx="1702.06" cy="435.34" r="4.9"/>
<circle cx="1694.07" cy="426.82" r="4.9"/>
<circle cx="1711.76" cy="414.39" r="4.9"/>
<circle cx="1701.43" cy="420.56" r="4.9"/>
<circle cx="1712.7" cy="419.2" r="4.9"/>
<circle cx="1703.74" cy="417.39" r="4.9"/>
<circle cx="1720.35" cy="402.33" r="4.9"/>
<circle cx="1720.89" cy="409.09" r="4.9"/>
<circle cx="1708.75" cy="418.79" r="4.9"/>
<circle cx="1685.39" cy="431.2" r="4.9"/>
<circle cx="1713.8" cy="428.6" r="4.9"/>
<circle cx="1695.38" cy="417.49" r="4.9"/>
<circle cx="1715.07" cy="427.2" r="4.9"/>
<circle cx="1712.12" cy="432.62" r="4.9"/>
<circle cx="1717.54" cy="421.51" r="4.9"/>
<circle cx="1708.03" cy="434.35" r="4.9"/>
<circle cx="1716.32" cy="434.52" r="4.9"/>
<circle cx="1696.72" cy="417.23" r="4.9"/>
<circle cx="1712.74" cy="431.15" r="4.9"/>
<circle cx="1716.61" cy="439.1" r="4.9"/>
<circle cx="1706.41" cy="439.87" r="4.9"/>
<circle cx="1720.53" cy="428.23" r="4.9"/>
<circle cx="1717.72" cy="401.26" r="4.9"/>
<circle cx="1698.67" cy="412.23" r="4.9"/>
<circle cx="1719.77" cy="390.5" r="4.9"/>
<circle cx="1688.28" cy="433.37" r="4.9"/>
<circle cx="1720.76" cy="442.24" r="4.9"/>
<circle cx="1711" cy="428.87" r="4.9"/>
<circle cx="1704.33" cy="401.23" r="4.9"/>
<circle cx="1683.37" cy="429.83" r="4.9"/>
<circle cx="1710.05" cy="430.55" r="4.9"/>
<circle cx="1715" cy="423.6" r="4.9"/>
<circle cx="1706.12" cy="435.21" r="4.9"/>
<circle cx="1685.01" cy="435.38" r="4.9"/>
<circle cx="1710.45" cy="424.04" r="4.9"/>
<circle cx="1714.44" cy="440.72" r="4.9"/>
<circle cx="1707.79" cy="434.08" r="4.9"/>
<circle cx="1691.76" cy="428.52" r="4.9"/>
<circle cx="1715.27" cy="388.07" r="4.9"/>
<circle cx="1705.02" cy="432.97" r="4.9"/>
<circle cx="1708.98" cy="435.57" r="4.9"/>
<circle cx="1719.78" cy="414.86" r="4.9"/>
<circle cx="1682.5" cy="436.18" r="4.9"/>
<circle cx="1711.98" cy="413.94" r="4.9"/>
<circle cx="1687.21" cy="440.51" r="4.9"/>
<circle cx="1696.7" cy="423.35" r="4.9"/>
<circle cx="1715.28" cy="406.75" r="4.9"/>
<circle cx="1716.96" cy="439.65" r="4.9"/>
<circle cx="1710.52" cy="430.75" r="4.9"/>
<circle cx="1719.27" cy="439.02" r="4.9"/>
<circle cx="1707" cy="426.22" r="4.9"/>
<circle cx="1681.66" cy="435.32" r="4.9"/>
<circle cx="1720.8" cy="425.94" r="4.9"/>
<circle cx="1696.03" cy="433.79" r="4.9"/>
<circle cx="1701.03" cy="436.45" r="4.9"/>
<circle cx="1716.47" cy="442.35" r="4.9"/>
<circle cx="1709.61" cy="412.36" r="4.9"/>
<circle cx="1719.27" cy="424.46" r="4.9"/>
<circle cx="1708.5" cy="431.2" r="4.9"/>
<circle cx="1703.21" cy="437.38" r="4.9"/>
<circle cx="1683.36" cy="430.07" r="4.9"/>
<circle cx="1714.03" cy="428.5" r="4.9"/>
<circle cx="1719.66" cy="440.31" r="4.9"/>
<circle cx="1720.41" cy="419.21" r="4.9"/>
<circle cx="1719.44" cy="440.7" r="4.9"/>
<circle cx="1694.74" cy="430.38" r="4.9"/>
<circle cx="1696.58" cy="426.96" r="4.9"/>
<circle cx="1720.88" cy="441.37" r="4.9"/>
<circle cx="1716.99" cy="418.44" r="4.9"/>
<circle cx="1716.07" cy="421.95" r="4.9"/>
<circle cx="1717.55" cy="439.4" r="4.9"/>
<circle cx="1686.47" cy="440.71" r="4.9"/>
<circle cx="1715.88" cy="428.2" r="4.9"/>
<circle cx="1714.56" cy="432.69" r="4.9"/>
<circle cx="1687.19" cy="441.5" r="4.9"/>
<circle cx="1644.5" cy="414" r="4.9"/>
<circle cx="1712.5" cy="367.5" r="4.9"/>
<circle cx="1705" cy="370" r="4.9"/>
<circle cx="1698.7" cy="374.8" r="4.9"/>
<circle cx="1712" cy="379.9" r="4.9"/>
<circle cx="1693.7" cy="391.6" r="4.9"/>
<circle cx="1703" cy="389.8" r="4.9"/>
<circle cx="1714" cy="392.5" r="4.9"/>
<circle cx="1687.5" cy="409.5" r="4.9"/>
<circle cx="1698" cy="401" r="4.9"/>
<circle cx="1680.5" cy="432.9" r="4.9"/>
<circle cx="1684" cy="421" r="4.9"/>
<circle cx="1692" cy="416" r="4.9"/>
</g>
<g fill="#CD0000" fill-opacity="0.78">
<circle cx="1791.32" cy="421.07" r="4.9"/>
<circle cx="1773.94" cy="435.41" r="4.9"/>
<circle cx="1792.34" cy="377.17" r="4.9"/>
<circle cx="1781.11" cy="386.45" r="4.9"/>
<circle cx="1785.18" cy="401.08" r="4.9"/>
<circle cx="1798.11" cy="425.7" r="4.9"/>
<circle cx="1790.52" cy="435.62" r="4.9"/>
<circle cx="1793.27" cy="433.38" r="4.9"/>
<circle cx="1774.01" cy="426.24" r="4.9"/>
<circle cx="1782.29" cy="431.58" r="4.9"/>
<circle cx="1781.38" cy="434.03" r="4.9"/>
<circle cx="1775.94" cy="430.52" r="4.9"/>
<circle cx="1793.45" cy="440.76" r="4.9"/>
<circle cx="1791.53" cy="435.56" r="4.9"/>
<circle cx="1775.76" cy="434.27" r="4.9"/>
<circle cx="1774.9" cy="432.22" r="4.9"/>
<circle cx="1787.36" cy="412.53" r="4.9"/>
<circle cx="1780.21" cy="439.08" r="4.9"/>
<circle cx="1775.68" cy="398.21" r="4.9"/>
<circle cx="1781.45" cy="411.11" r="4.9"/>
<circle cx="1793.33" cy="364.75" r="4.9"/>
<circle cx="1808.5" cy="425.25" r="4.9"/>
<circle cx="1788.38" cy="427.7" r="4.9"/>
<circle cx="1798.01" cy="386.27" r="4.9"/>
<circle cx="1782.85" cy="420.78" r="4.9"/>
<circle cx="1786.02" cy="436.58" r="4.9"/>
<circle cx="1791.31" cy="439.22" r="4.9"/>
<circle cx="1774.45" cy="406.33" r="4.9"/>
<circle cx="1785.2" cy="416.24" r="4.9"/>
<circle cx="1776.51" cy="440.22" r="4.9"/>
<circle cx="1781.58" cy="395.92" r="4.9"/>
<circle cx="1795.29" cy="439.6" r="4.9"/>
<circle cx="1783.05" cy="431.46" r="4.9"/>
<circle cx="1771.42" cy="433.31" r="4.9"/>
<circle cx="1775.67" cy="439.12" r="4.9"/>
<circle cx="1780.11" cy="383.89" r="4.9"/>
<circle cx="1793.56" cy="405.98" r="4.9"/>
<circle cx="1790.48" cy="434.51" r="4.9"/>
<circle cx="1780.63" cy="414.61" r="4.9"/>
<circle cx="1788.21" cy="416.13" r="4.9"/>
<circle cx="1783.42" cy="435.44" r="4.9"/>
<circle cx="1782.34" cy="437.52" r="4.9"/>
<circle cx="1785.99" cy="382.86" r="4.9"/>
<circle cx="1794.26" cy="441.41" r="4.9"/>
<circle cx="1777.07" cy="438.1" r="4.9"/>
<circle cx="1784.77" cy="441.44" r="4.9"/>
<circle cx="1787.36" cy="417.58" r="4.9"/>
<circle cx="1798.71" cy="411.62" r="4.9"/>
<circle cx="1775.13" cy="428.48" r="4.9"/>
<circle cx="1789.74" cy="398.51" r="4.9"/>
<circle cx="1804.49" cy="434.18" r="4.9"/>
<circle cx="1779.75" cy="441.23" r="4.9"/>
<circle cx="1780.49" cy="439.54" r="4.9"/>
<circle cx="1780.49" cy="408.6" r="4.9"/>
<circle cx="1797.32" cy="413.44" r="4.9"/>
<circle cx="1786.23" cy="434.35" r="4.9"/>
<circle cx="1769.95" cy="370.96" r="4.9"/>
<circle cx="1792.71" cy="413.68" r="4.9"/>
<circle cx="1781.72" cy="399.14" r="4.9"/>
<circle cx="1785.64" cy="413.15" r="4.9"/>
<circle cx="1783.68" cy="424.9" r="4.9"/>
<circle cx="1779.35" cy="441.33" r="4.9"/>
<circle cx="1779.62" cy="402.4" r="4.9"/>
<circle cx="1793.94" cy="417.63" r="4.9"/>
<circle cx="1786.81" cy="435.4" r="4.9"/>
<circle cx="1777.54" cy="436.92" r="4.9"/>
<circle cx="1777.72" cy="438.83" r="4.9"/>
<circle cx="1796.52" cy="435.66" r="4.9"/>
<circle cx="1785.46" cy="428.03" r="4.9"/>
<circle cx="1784.08" cy="389.66" r="4.9"/>
<circle cx="1789.81" cy="438.68" r="4.9"/>
<circle cx="1781.77" cy="423.01" r="4.9"/>
<circle cx="1784.14" cy="437.89" r="4.9"/>
<circle cx="1795.26" cy="406.92" r="4.9"/>
<circle cx="1774.83" cy="439.45" r="4.9"/>
<circle cx="1786.24" cy="440.9" r="4.9"/>
<circle cx="1775.46" cy="437.06" r="4.9"/>
<circle cx="1789.9" cy="432.84" r="4.9"/>
<circle cx="1772.38" cy="431.4" r="4.9"/>
<circle cx="1775.34" cy="408.51" r="4.9"/>
<circle cx="1790.31" cy="411.57" r="4.9"/>
<circle cx="1775.8" cy="426.02" r="4.9"/>
<circle cx="1779.72" cy="437.28" r="4.9"/>
<circle cx="1775.63" cy="417.16" r="4.9"/>
<circle cx="1783.42" cy="375.56" r="4.9"/>
<circle cx="1780.33" cy="435.52" r="4.9"/>
<circle cx="1776.62" cy="441.73" r="4.9"/>
<circle cx="1804.77" cy="437.4" r="4.9"/>
<circle cx="1785.05" cy="396.77" r="4.9"/>
<circle cx="1780.37" cy="399.08" r="4.9"/>
<circle cx="1783.94" cy="432.76" r="4.9"/>
<circle cx="1801.18" cy="431.19" r="4.9"/>
<circle cx="1775.35" cy="431.16" r="4.9"/>
<circle cx="1785.19" cy="421.98" r="4.9"/>
<circle cx="1787.37" cy="400.57" r="4.9"/>
<circle cx="1806.56" cy="425.76" r="4.9"/>
<circle cx="1776.37" cy="438.23" r="4.9"/>
<circle cx="1790.47" cy="413.97" r="4.9"/>
<circle cx="1776.34" cy="428.12" r="4.9"/>
<circle cx="1772.34" cy="428.28" r="4.9"/>
<circle cx="1807.18" cy="411.07" r="4.9"/>
<circle cx="1773.75" cy="404.65" r="4.9"/>
<circle cx="1783.11" cy="434.28" r="4.9"/>
<circle cx="1789.34" cy="432.32" r="4.9"/>
<circle cx="1786.41" cy="415.62" r="4.9"/>
<circle cx="1803.47" cy="433.85" r="4.9"/>
<circle cx="1776.06" cy="422.18" r="4.9"/>
<circle cx="1781.97" cy="432.86" r="4.9"/>
<circle cx="1802.93" cy="355.69" r="4.9"/>
<circle cx="1777.44" cy="362.66" r="4.9"/>
<circle cx="1777.6" cy="418.79" r="4.9"/>
<circle cx="1777.15" cy="419.47" r="4.9"/>
<circle cx="1792.4" cy="421.74" r="4.9"/>
<circle cx="1777.7" cy="433.73" r="4.9"/>
<circle cx="1793.31" cy="389.57" r="4.9"/>
<circle cx="1775.19" cy="414.69" r="4.9"/>
<circle cx="1782.7" cy="440.24" r="4.9"/>
<circle cx="1786.96" cy="429.26" r="4.9"/>
<circle cx="1777.1" cy="422.1" r="4.9"/>
<circle cx="1790.19" cy="388.5" r="4.9"/>
<circle cx="1795.36" cy="423.02" r="4.9"/>
<circle cx="1794.39" cy="439.98" r="4.9"/>
<circle cx="1791.24" cy="435.34" r="4.9"/>
<circle cx="1771.69" cy="421.65" r="4.9"/>
<circle cx="1778.5" cy="424.83" r="4.9"/>
<circle cx="1776.73" cy="440.55" r="4.9"/>
<circle cx="1773.6" cy="393.78" r="4.9"/>
<circle cx="1778.11" cy="407.87" r="4.9"/>
<circle cx="1796.53" cy="411.18" r="4.9"/>
<circle cx="1795.78" cy="437.83" r="4.9"/>
<circle cx="1777.78" cy="422.2" r="4.9"/>
<circle cx="1779.87" cy="440.97" r="4.9"/>
<circle cx="1792.2" cy="431.04" r="4.9"/>
<circle cx="1777.82" cy="433.71" r="4.9"/>
<circle cx="1794.02" cy="428.86" r="4.9"/>
<circle cx="1791.8" cy="422.2" r="4.9"/>
<circle cx="1794.95" cy="392.44" r="4.9"/>
<circle cx="1798.86" cy="432.22" r="4.9"/>
<circle cx="1776.41" cy="414.55" r="4.9"/>
<circle cx="1785.16" cy="409.77" r="4.9"/>
<circle cx="1790.73" cy="411.17" r="4.9"/>
<circle cx="1782.45" cy="422.98" r="4.9"/>
<circle cx="1792.59" cy="439.49" r="4.9"/>
<circle cx="1784.03" cy="437.18" r="4.9"/>
<circle cx="1776.2" cy="397.93" r="4.9"/>
<circle cx="1780.44" cy="439.56" r="4.9"/>
<circle cx="1787.84" cy="437.41" r="4.9"/>
<circle cx="1774.97" cy="430.71" r="4.9"/>
<circle cx="1773.77" cy="391.55" r="4.9"/>
<circle cx="1783.77" cy="402.08" r="4.9"/>
<circle cx="1778.84" cy="442.08" r="4.9"/>
<circle cx="1791.85" cy="392" r="4.9"/>
<circle cx="1786.52" cy="403.05" r="4.9"/>
<circle cx="1775.12" cy="414.62" r="4.9"/>
<circle cx="1789.4" cy="426.64" r="4.9"/>
<circle cx="1802.35" cy="392.01" r="4.9"/>
<circle cx="1783.73" cy="419.37" r="4.9"/>
<circle cx="1791.22" cy="387.6" r="4.9"/>
<circle cx="1781.82" cy="420.69" r="4.9"/>
<circle cx="1777.21" cy="427.01" r="4.9"/>
<circle cx="1775.68" cy="430.43" r="4.9"/>
<circle cx="1770.86" cy="432.5" r="4.9"/>
<circle cx="1775.4" cy="427.39" r="4.9"/>
<circle cx="1772.23" cy="415.27" r="4.9"/>
<circle cx="1786.75" cy="434.62" r="4.9"/>
<circle cx="1778.12" cy="424.07" r="4.9"/>
<circle cx="1802.28" cy="441.57" r="4.9"/>
<circle cx="1785.13" cy="406.06" r="4.9"/>
<circle cx="1784.92" cy="417.83" r="4.9"/>
<circle cx="1793.12" cy="392.05" r="4.9"/>
<circle cx="1784.17" cy="374.24" r="4.9"/>
<circle cx="1788.22" cy="407.22" r="4.9"/>
<circle cx="1783.98" cy="425.05" r="4.9"/>
<circle cx="1780.78" cy="429.7" r="4.9"/>
<circle cx="1794.48" cy="432.37" r="4.9"/>
<circle cx="1813.42" cy="431.24" r="4.9"/>
<circle cx="1774.31" cy="435.88" r="4.9"/>
<circle cx="1791.48" cy="392.4" r="4.9"/>
<circle cx="1791.21" cy="427.68" r="4.9"/>
<circle cx="1776.73" cy="437.9" r="4.9"/>
<circle cx="1783.44" cy="433.65" r="4.9"/>
<circle cx="1801.28" cy="374.72" r="4.9"/>
<circle cx="1788.27" cy="432.25" r="4.9"/>
<circle cx="1784.49" cy="437.61" r="4.9"/>
<circle cx="1779.83" cy="431.63" r="4.9"/>
<circle cx="1790.12" cy="440.7" r="4.9"/>
<circle cx="1786.29" cy="386.39" r="4.9"/>
<circle cx="1782.74" cy="441.85" r="4.9"/>
<circle cx="1776.09" cy="434.8" r="4.9"/>
<circle cx="1785.39" cy="436.96" r="4.9"/>
<circle cx="1783.8" cy="393.67" r="4.9"/>
<circle cx="1786.48" cy="410.08" r="4.9"/>
<circle cx="1802.4" cy="419.97" r="4.9"/>
<circle cx="1784.19" cy="432.23" r="4.9"/>
<circle cx="1806.28" cy="437.33" r="4.9"/>
<circle cx="1783.12" cy="379.83" r="4.9"/>
<circle cx="1787.35" cy="436.59" r="4.9"/>
<circle cx="1798.62" cy="429.72" r="4.9"/>
<circle cx="1784.87" cy="432.35" r="4.9"/>
<circle cx="1778.1" cy="418.37" r="4.9"/>
<circle cx="1783.43" cy="425.76" r="4.9"/>
<circle cx="1784.78" cy="442.08" r="4.9"/>
<circle cx="1780.26" cy="422.13" r="4.9"/>
<circle cx="1772.76" cy="410.96" r="4.9"/>
<circle cx="1781.2" cy="440.02" r="4.9"/>
<circle cx="1784.02" cy="440.12" r="4.9"/>
<circle cx="1794.66" cy="428.98" r="4.9"/>
<circle cx="1779.86" cy="416.26" r="4.9"/>
<circle cx="1776.53" cy="432.61" r="4.9"/>
<circle cx="1788.52" cy="407.22" r="4.9"/>
<circle cx="1779.58" cy="433.38" r="4.9"/>
<circle cx="1816.77" cy="434.45" r="4.9"/>
<circle cx="1788.28" cy="373.31" r="4.9"/>
<circle cx="1776.9" cy="426.64" r="4.9"/>
<circle cx="1802.1" cy="406.07" r="4.9"/>
<circle cx="1806.07" cy="407.9" r="4.9"/>
<circle cx="1777.6" cy="441.73" r="4.9"/>
<circle cx="1775.1" cy="422.63" r="4.9"/>
<circle cx="1783.97" cy="373.8" r="4.9"/>
<circle cx="1782.75" cy="437.65" r="4.9"/>
<circle cx="1788.62" cy="380.28" r="4.9"/>
<circle cx="1774.78" cy="405.64" r="4.9"/>
<circle cx="1786.11" cy="425.54" r="4.9"/>
<circle cx="1783.14" cy="427.36" r="4.9"/>
<circle cx="1799.11" cy="385.3" r="4.9"/>
<circle cx="1791.2" cy="440.76" r="4.9"/>
<circle cx="1778.12" cy="429.86" r="4.9"/>
<circle cx="1781.92" cy="429.53" r="4.9"/>
<circle cx="1782.87" cy="371.59" r="4.9"/>
<circle cx="1779.71" cy="435.33" r="4.9"/>
<circle cx="1777.53" cy="428.52" r="4.9"/>
<circle cx="1782.53" cy="417.28" r="4.9"/>
<circle cx="1785.53" cy="436.46" r="4.9"/>
<circle cx="1785.17" cy="392.72" r="4.9"/>
<circle cx="1772.19" cy="434.82" r="4.9"/>
<circle cx="1802.89" cy="432.58" r="4.9"/>
<circle cx="1794.8" cy="388.29" r="4.9"/>
<circle cx="1793.63" cy="420.18" r="4.9"/>
<circle cx="1785.4" cy="421.27" r="4.9"/>
<circle cx="1783.7" cy="431.5" r="4.9"/>
<circle cx="1795.03" cy="393.8" r="4.9"/>
<circle cx="1798.01" cy="433.79" r="4.9"/>
<circle cx="1779.83" cy="439.53" r="4.9"/>
<circle cx="1776.43" cy="438.43" r="4.9"/>
<circle cx="1781.73" cy="439.91" r="4.9"/>
<circle cx="1798.45" cy="432.29" r="4.9"/>
<circle cx="1801.81" cy="411.64" r="4.9"/>
<circle cx="1806.1" cy="435.89" r="4.9"/>
<circle cx="1789.47" cy="413.85" r="4.9"/>
<circle cx="1774.65" cy="428.67" r="4.9"/>
<circle cx="1791.02" cy="441.93" r="4.9"/>
<circle cx="1774.59" cy="439.28" r="4.9"/>
<circle cx="1784.47" cy="438.85" r="4.9"/>
<circle cx="1780.37" cy="438.51" r="4.9"/>
<circle cx="1785" cy="425.45" r="4.9"/>
<circle cx="1793.02" cy="381.12" r="4.9"/>
<circle cx="1786.34" cy="431.92" r="4.9"/>
<circle cx="1811.81" cy="410.31" r="4.9"/>
<circle cx="1770.25" cy="437.65" r="4.9"/>
<circle cx="1778.95" cy="425.06" r="4.9"/>
<circle cx="1777.13" cy="422.55" r="4.9"/>
<circle cx="1776.05" cy="416.56" r="4.9"/>
<circle cx="1793.65" cy="422.98" r="4.9"/>
<circle cx="1814.36" cy="411.52" r="4.9"/>
<circle cx="1809.61" cy="433.06" r="4.9"/>
<circle cx="1793.53" cy="430.53" r="4.9"/>
<circle cx="1776.51" cy="438.65" r="4.9"/>
<circle cx="1787.43" cy="378.73" r="4.9"/>
<circle cx="1783.2" cy="435.24" r="4.9"/>
<circle cx="1780.15" cy="437.02" r="4.9"/>
<circle cx="1777.01" cy="397.18" r="4.9"/>
<circle cx="1805.74" cy="413.48" r="4.9"/>
<circle cx="1791.24" cy="417.04" r="4.9"/>
<circle cx="1780.3" cy="442.4" r="4.9"/>
<circle cx="1775.14" cy="395.51" r="4.9"/>
<circle cx="1776.44" cy="435.89" r="4.9"/>
<circle cx="1790.81" cy="409.2" r="4.9"/>
<circle cx="1791.99" cy="424.17" r="4.9"/>
<circle cx="1783.96" cy="414.8" r="4.9"/>
<circle cx="1794.76" cy="436.25" r="4.9"/>
<circle cx="1790.84" cy="434.9" r="4.9"/>
<circle cx="1783.31" cy="424.39" r="4.9"/>
<circle cx="1796.65" cy="436.31" r="4.9"/>
<circle cx="1802.07" cy="424.29" r="4.9"/>
<circle cx="1777.56" cy="401.42" r="4.9"/>
<circle cx="1784.81" cy="427.35" r="4.9"/>
<circle cx="1794.46" cy="399.5" r="4.9"/>
<circle cx="1796.41" cy="430.69" r="4.9"/>
<circle cx="1778.1" cy="400.83" r="4.9"/>
<circle cx="1778.91" cy="439.77" r="4.9"/>
<circle cx="1787.15" cy="402.71" r="4.9"/>
<circle cx="1780.78" cy="430.12" r="4.9"/>
<circle cx="1793.61" cy="413.41" r="4.9"/>
<circle cx="1776.28" cy="407.68" r="4.9"/>
<circle cx="1784.22" cy="414.57" r="4.9"/>
<circle cx="1786.52" cy="431.1" r="4.9"/>
<circle cx="1784.97" cy="430.7" r="4.9"/>
<circle cx="1772.12" cy="440.97" r="4.9"/>
<circle cx="1773.67" cy="411.48" r="4.9"/>
<circle cx="1783.83" cy="398.53" r="4.9"/>
<circle cx="1779.84" cy="417.72" r="4.9"/>
<circle cx="1783.14" cy="404.03" r="4.9"/>
<circle cx="1788.97" cy="431.07" r="4.9"/>
<circle cx="1776.63" cy="411.97" r="4.9"/>
<circle cx="1789.6" cy="429.62" r="4.9"/>
<circle cx="1797.55" cy="430.53" r="4.9"/>
<circle cx="1796.25" cy="379.21" r="4.9"/>
<circle cx="1811.68" cy="412.02" r="4.9"/>
<circle cx="1779.14" cy="415.66" r="4.9"/>
<circle cx="1779.41" cy="430.77" r="4.9"/>
<circle cx="1790.97" cy="425.65" r="4.9"/>
<circle cx="1788.86" cy="420.47" r="4.9"/>
<circle cx="1782.31" cy="427.27" r="4.9"/>
<circle cx="1779.38" cy="388.42" r="4.9"/>
<circle cx="1795.61" cy="428.26" r="4.9"/>
<circle cx="1777.15" cy="415.31" r="4.9"/>
<circle cx="1797.26" cy="429.87" r="4.9"/>
<circle cx="1782.35" cy="406.6" r="4.9"/>
<circle cx="1777.98" cy="439.35" r="4.9"/>
<circle cx="1776.29" cy="439.8" r="4.9"/>
<circle cx="1780.42" cy="408.23" r="4.9"/>
<circle cx="1775.83" cy="412.09" r="4.9"/>
<circle cx="1780.58" cy="441.04" r="4.9"/>
<circle cx="1792.51" cy="400.96" r="4.9"/>
<circle cx="1778.92" cy="438.58" r="4.9"/>
<circle cx="1788.04" cy="434.57" r="4.9"/>
<circle cx="1775.4" cy="433.25" r="4.9"/>
<circle cx="1804.13" cy="424.94" r="4.9"/>
<circle cx="1787.24" cy="441.14" r="4.9"/>
<circle cx="1804.85" cy="394.97" r="4.9"/>
<circle cx="1775.77" cy="435.16" r="4.9"/>
<circle cx="1778.47" cy="430.98" r="4.9"/>
<circle cx="1789.6" cy="426.02" r="4.9"/>
<circle cx="1785.27" cy="436.96" r="4.9"/>
<circle cx="1787.11" cy="422.58" r="4.9"/>
<circle cx="1778.8" cy="429.57" r="4.9"/>
<circle cx="1776.11" cy="432.87" r="4.9"/>
<circle cx="1804.3" cy="412.13" r="4.9"/>
<circle cx="1808.5" cy="420.51" r="4.9"/>
<circle cx="1793.49" cy="391.02" r="4.9"/>
<circle cx="1790.2" cy="440.97" r="4.9"/>
<circle cx="1792.76" cy="393.93" r="4.9"/>
<circle cx="1785.91" cy="440.59" r="4.9"/>
<circle cx="1782.29" cy="422.31" r="4.9"/>
<circle cx="1782.82" cy="425.57" r="4.9"/>
<circle cx="1797.85" cy="436.63" r="4.9"/>
<circle cx="1779.5" cy="438.57" r="4.9"/>
<circle cx="1781.79" cy="439.97" r="4.9"/>
<circle cx="1775.84" cy="368.82" r="4.9"/>
<circle cx="1789.37" cy="435.14" r="4.9"/>
<circle cx="1778.72" cy="414.13" r="4.9"/>
<circle cx="1781.42" cy="441.38" r="4.9"/>
<circle cx="1774.49" cy="433.93" r="4.9"/>
<circle cx="1791.27" cy="422.33" r="4.9"/>
<circle cx="1779.48" cy="383.08" r="4.9"/>
<circle cx="1803.47" cy="438.39" r="4.9"/>
<circle cx="1790.18" cy="430.28" r="4.9"/>
<circle cx="1777.48" cy="436.24" r="4.9"/>
<circle cx="1797.9" cy="440.02" r="4.9"/>
<circle cx="1775.96" cy="414.67" r="4.9"/>
<circle cx="1804" cy="399.35" r="4.9"/>
<circle cx="1801.93" cy="373.93" r="4.9"/>
<circle cx="1779.88" cy="424.17" r="4.9"/>
<circle cx="1791.87" cy="425.66" r="4.9"/>
<circle cx="1805.93" cy="440.03" r="4.9"/>
<circle cx="1773.12" cy="423.41" r="4.9"/>
<circle cx="1781.48" cy="438.74" r="4.9"/>
<circle cx="1810.62" cy="436.12" r="4.9"/>
<circle cx="1805.78" cy="441.61" r="4.9"/>
<circle cx="1773.44" cy="371.84" r="4.9"/>
<circle cx="1786.84" cy="416.31" r="4.9"/>
<circle cx="1780.5" cy="435.48" r="4.9"/>
<circle cx="1773.04" cy="437.6" r="4.9"/>
<circle cx="1782.99" cy="422.41" r="4.9"/>
<circle cx="1778.53" cy="422.83" r="4.9"/>
<circle cx="1794.49" cy="441.58" r="4.9"/>
<circle cx="1779.66" cy="439.92" r="4.9"/>
<circle cx="1779.39" cy="431.79" r="4.9"/>
<circle cx="1782.89" cy="415.84" r="4.9"/>
<circle cx="1785.24" cy="432.58" r="4.9"/>
<circle cx="1782.25" cy="391.93" r="4.9"/>
<circle cx="1778.5" cy="440.01" r="4.9"/>
<circle cx="1789.78" cy="439.38" r="4.9"/>
<circle cx="1771.29" cy="427.01" r="4.9"/>
<circle cx="1786.08" cy="423.69" r="4.9"/>
<circle cx="1771.82" cy="429.79" r="4.9"/>
<circle cx="1775.94" cy="439.1" r="4.9"/>
<circle cx="1806.05" cy="388.37" r="4.9"/>
<circle cx="1793.57" cy="442.05" r="4.9"/>
<circle cx="1781.97" cy="421.78" r="4.9"/>
<circle cx="1771.74" cy="436.06" r="4.9"/>
<circle cx="1781.97" cy="441.65" r="4.9"/>
<circle cx="1778.66" cy="424.59" r="4.9"/>
<circle cx="1803.24" cy="421.31" r="4.9"/>
<circle cx="1775.11" cy="420.32" r="4.9"/>
<circle cx="1798.91" cy="435.53" r="4.9"/>
<circle cx="1794.49" cy="441.39" r="4.9"/>
<circle cx="1793.01" cy="432.19" r="4.9"/>
<circle cx="1779.99" cy="427.29" r="4.9"/>
<circle cx="1774.16" cy="429.45" r="4.9"/>
<circle cx="1826.8" cy="360.9" r="4.9"/>
<circle cx="1824.5" cy="415.5" r="4.9"/>
<circle cx="1812.7" cy="331.7" r="4.9"/>
<circle cx="1781.1" cy="347.9" r="4.9"/>
<circle cx="1790.5" cy="314" r="4.9"/>
<circle cx="1803.8" cy="312.5" r="4.9"/>
<circle cx="1786.1" cy="323.4" r="4.9"/>
<circle cx="1783.2" cy="330.2" r="4.9"/>
<circle cx="1823" cy="304.2" r="4.9"/>
<circle cx="1836.8" cy="291.6" r="4.9"/>
<circle cx="1848.6" cy="331.7" r="4.9"/>
<circle cx="1850.4" cy="379.5" r="4.9"/>
<circle cx="1845.1" cy="438.5" r="4.9"/>
<circle cx="1815.6" cy="177" r="4.9"/>
<circle cx="1792.6" cy="210" r="4.9"/>
<circle cx="1800.9" cy="239" r="4.9"/>
<circle cx="1784.6" cy="271.4" r="4.9"/>
<circle cx="1790.5" cy="271.4" r="4.9"/>
<circle cx="1827.4" cy="48.7" r="4.9"/>
<circle cx="1804" cy="344" r="4.9"/>
<circle cx="1810" cy="352" r="4.9"/>
<circle cx="1795" cy="358" r="4.9"/>
<circle cx="1815" cy="395" r="4.9"/>
<circle cx="1819" cy="405" r="4.9"/>
<circle cx="1810" cy="425" r="4.9"/>
<circle cx="1814" cy="435" r="4.9"/>
<circle cx="1816" cy="410" r="4.9"/>
<circle cx="1806" cy="383" r="4.9"/>
<circle cx="1800" cy="371" r="4.9"/>
</g>
</g>
<line x1="1721.2" y1="16" x2="1721.2" y2="494.5" stroke="#222" stroke-width="1.5" stroke-dasharray="4.2 3.2"/>
<line x1="1769.3" y1="16" x2="1769.3" y2="494.5" stroke="#222" stroke-width="1.5" stroke-dasharray="4.2 3.2"/>
<line x1="1492.8" y1="442.9" x2="1997.5" y2="442.9" stroke="#222" stroke-width="1.5" stroke-dasharray="4.2 3.2"/>
<text transform="translate(1816,54)" font-size="19.6">JUN</text>
<text transform="translate(1801.3,181.4)" font-size="19.6">ATF3</text>
<text transform="translate(1776.3,214.7)" font-size="19.6">RHOB</text>
<text transform="translate(1781.3,244.2)" font-size="19.6">DUSP1</text>
<text transform="translate(1762.4,275.8)" font-size="19.6">MT−RNR1</text>
<text transform="translate(1807.2,295.4)" font-size="19.6">MIR1244−2</text>
<text transform="translate(1803.7,307.8)" font-size="19.6">DUSP2</text>
<text transform="translate(1789.5,316.9)" font-size="19.6">IER2</text>
<text transform="translate(1771.2,328.4)" font-size="19.6">EGR1</text>
<text transform="translate(1829.4,336.7)" font-size="19.6">PCLAF</text>
<text transform="translate(1766.8,351.4)" font-size="19.6">SUB1</text>
<text transform="translate(1828.8,383.3)" font-size="19.6">RN7SL3</text>
<text transform="translate(1823.5,442.9)" font-size="19.6">RN7SL1</text>
<text transform="translate(1615.5,418.7)" font-size="19.6">PTGES3P1</text>
<line x1="1491.8" y1="15.1" x2="1999.7" y2="15.1" stroke="#000" stroke-width="2.2"/>
<line x1="1998.6" y1="14" x2="1998.6" y2="496.5" stroke="#000" stroke-width="2.2"/>
<line x1="1490.7" y1="495.4" x2="1999.7" y2="495.4" stroke="#000" stroke-width="2.2"/>
<line x1="1491.8" y1="14" x2="1491.8" y2="88.5" stroke="#000" stroke-width="2.2"/>
<line x1="1491.8" y1="104" x2="1491.8" y2="496.5" stroke="#000" stroke-width="2.2"/>
<line x1="1480" y1="93.5" x2="1500.9" y2="86.6" stroke="#000" stroke-width="1.9"/>
<line x1="1480" y1="109.5" x2="1500.9" y2="103.1" stroke="#000" stroke-width="1.9"/>
<line x1="1480.5" y1="26.6" x2="1491.8" y2="26.6" stroke="#333" stroke-width="2"/>
<text transform="translate(1474,33.6)" text-anchor="end" font-size="19.6" fill="#4D4D4D">40</text>
<line x1="1480.5" y1="81.2" x2="1491.8" y2="81.2" stroke="#333" stroke-width="2"/>
<text transform="translate(1474,88.2)" text-anchor="end" font-size="19.6" fill="#4D4D4D">38</text>
<line x1="1480.5" y1="206.3" x2="1491.8" y2="206.3" stroke="#333" stroke-width="2"/>
<text transform="translate(1474,213.3)" text-anchor="end" font-size="19.6" fill="#4D4D4D">10</text>
<line x1="1480.5" y1="342" x2="1491.8" y2="342" stroke="#333" stroke-width="2"/>
<text transform="translate(1474,349)" text-anchor="end" font-size="19.6" fill="#4D4D4D">5</text>
<line x1="1480.5" y1="477.7" x2="1491.8" y2="477.7" stroke="#333" stroke-width="2"/>
<text transform="translate(1474,484.7)" text-anchor="end" font-size="19.6" fill="#4D4D4D">0</text>
<line x1="1561" y1="495.4" x2="1561" y2="506.3" stroke="#333" stroke-width="2"/>
<text transform="translate(1559.2,527.2)" text-anchor="middle" font-size="19.6" fill="#4D4D4D">−2</text>
<line x1="1653.05" y1="495.4" x2="1653.05" y2="506.3" stroke="#333" stroke-width="2"/>
<text transform="translate(1651.25,527.2)" text-anchor="middle" font-size="19.6" fill="#4D4D4D">−1</text>
<line x1="1745.1" y1="495.4" x2="1745.1" y2="506.3" stroke="#333" stroke-width="2"/>
<text transform="translate(1744.7,527.2)" text-anchor="middle" font-size="19.6" fill="#4D4D4D">0</text>
<line x1="1837.15" y1="495.4" x2="1837.15" y2="506.3" stroke="#333" stroke-width="2"/>
<text transform="translate(1836.75,527.2)" text-anchor="middle" font-size="19.6" fill="#4D4D4D">1</text>
<line x1="1929.2" y1="495.4" x2="1929.2" y2="506.3" stroke="#333" stroke-width="2"/>
<text transform="translate(1928.8,527.2)" text-anchor="middle" font-size="19.6" fill="#4D4D4D">2</text>
<text transform="translate(1772.8,550.2)" text-anchor="middle" font-size="23.9">log2Fold Change</text>
<text transform="translate(1446.4,249.7) rotate(-90)" text-anchor="middle" font-size="23.9">−log10(adjusted <tspan font-style="italic">P</tspan> value)</text>
<circle cx="1503.1" cy="33.2" r="6.1" fill="#CD0000"/>
<circle cx="1503.1" cy="56.7" r="6.1" fill="#3A5FCD"/>
<text transform="translate(1513.6,41.8)" font-size="19.6">Up = 384</text>
<text transform="translate(1513.6,64.9)" font-size="19.6">Down = 158</text>
<text transform="translate(-1,589)" font-size="27" font-weight="bold">d</text>
<rect x="516.4" y="589.6" width="368.2" height="426.2" fill="#FFFFFF"/>
<rect x="532.4" y="592.65" width="317.6" height="18.7" fill="#CD0000"/>
<text transform="translate(850.3,609.4)" font-size="19.2">136</text>
<text transform="translate(507.5,606.2)" text-anchor="end" font-size="19.8">Metabolism of RNA</text>
<rect x="532.4" y="613.77" width="190.6" height="18.7" fill="#B03B5B"/>
<text transform="translate(723.3,630.52)" font-size="19.2">78</text>
<text transform="translate(507.5,627.32)" text-anchor="end" font-size="19.8">mitochondrial inner membrane</text>
<rect x="532.4" y="634.89" width="181.6" height="18.7" fill="#AE3E60"/>
<text transform="translate(714.3,651.64)" font-size="19.2">42</text>
<text transform="translate(507.5,648.44)" text-anchor="end" font-size="19.8">ribonucleoprotein complex biogenesis</text>
<rect x="532.4" y="656.01" width="152.5" height="18.7" fill="#A44472"/>
<text transform="translate(685.2,672.76)" font-size="19.2">51</text>
<text transform="translate(507.5,669.56)" text-anchor="end" font-size="19.8">DNA metabolic process</text>
<rect x="532.4" y="677.13" width="118.5" height="18.7" fill="#964B88"/>
<text transform="translate(651.2,693.88)" font-size="19.2">95</text>
<text transform="translate(507.5,690.68)" text-anchor="end" font-size="19.8">Cell Cycle</text>
<rect x="532.4" y="698.25" width="113.1" height="18.7" fill="#934C8B"/>
<text transform="translate(645.8,715)" font-size="19.2">39</text>
<text transform="translate(507.5,711.8)" text-anchor="end" font-size="19.8">mitochondrion organization</text>
<rect x="532.4" y="719.37" width="111.7" height="18.7" fill="#924D8C"/>
<text transform="translate(644.4,736.12)" font-size="19.2">50</text>
<text transform="translate(507.5,732.92)" text-anchor="end" font-size="19.8">mRNA Splicing</text>
<rect x="532.4" y="740.49" width="111.2" height="18.7" fill="#924D8C"/>
<text transform="translate(643.9,757.24)" font-size="19.2">40</text>
<text transform="translate(507.5,754.04)" text-anchor="end" font-size="19.8">Transcriptional Regulation by TP53</text>
<rect x="532.4" y="761.61" width="78" height="18.7" fill="#8053A2"/>
<text transform="translate(610.7,778.36)" font-size="19.2">40</text>
<text transform="translate(507.5,775.16)" text-anchor="end" font-size="19.8">Nucleotide Excision Repair</text>
<rect x="532.4" y="782.73" width="73.7" height="18.7" fill="#7D54A5"/>
<text transform="translate(606.4,799.48)" font-size="19.2">29</text>
<text transform="translate(507.5,796.28)" text-anchor="end" font-size="19.8">protein folding</text>
<rect x="532.4" y="803.85" width="72.6" height="18.7" fill="#7C54A5"/>
<text transform="translate(605.3,820.6)" font-size="19.2">18</text>
<text transform="translate(507.5,817.4)" text-anchor="end" font-size="19.8">mitochondrial protein−containing complex</text>
<rect x="532.4" y="824.97" width="66.6" height="18.7" fill="#7855A9"/>
<text transform="translate(599.3,841.72)" font-size="19.2">27</text>
<text transform="translate(507.5,838.52)" text-anchor="end" font-size="19.8">mitochondrial matrix</text>
<rect x="532.4" y="846.09" width="59.5" height="18.7" fill="#7257AE"/>
<text transform="translate(592.2,862.84)" font-size="19.2">37</text>
<text transform="translate(507.5,859.64)" text-anchor="end" font-size="19.8">positive regulation of apoptotic process</text>
<rect x="532.4" y="867.21" width="59.2" height="18.7" fill="#7257AE"/>
<text transform="translate(591.9,883.96)" font-size="19.2">47</text>
<text transform="translate(507.5,880.76)" text-anchor="end" font-size="19.8">DNA replication</text>
<rect x="532.4" y="888.33" width="56" height="18.7" fill="#7057B0"/>
<text transform="translate(588.7,905.08)" font-size="19.2">35</text>
<text transform="translate(507.5,901.88)" text-anchor="end" font-size="19.8">protein localization to mitochondrion</text>
<rect x="532.4" y="909.45" width="49.4" height="18.7" fill="#6A58B4"/>
<text transform="translate(582.1,926.2)" font-size="19.2">44</text>
<text transform="translate(507.5,923)" text-anchor="end" font-size="19.8">SRCAP−associated chromatin remodeling complex</text>
<rect x="532.4" y="930.57" width="45.6" height="18.7" fill="#6659B7"/>
<text transform="translate(578.3,947.32)" font-size="19.2">23</text>
<text transform="translate(507.5,944.12)" text-anchor="end" font-size="19.8">PID AP1 PATHWAY</text>
<rect x="532.4" y="951.69" width="44.8" height="18.7" fill="#6659B8"/>
<text transform="translate(577.5,968.44)" font-size="19.2">20</text>
<text transform="translate(507.5,965.24)" text-anchor="end" font-size="19.8">mitochondrial membrane organization</text>
<rect x="532.4" y="972.81" width="42.3" height="18.7" fill="#635AB9"/>
<text transform="translate(575,989.56)" font-size="19.2">41</text>
<text transform="translate(507.5,986.36)" text-anchor="end" font-size="19.8" textLength="509" lengthAdjust="spacingAndGlyphs">regulation of protein modification by small protein conjugation or removal</text>
<rect x="532.4" y="993.93" width="42.3" height="18.7" fill="#635AB9"/>
<text transform="translate(575,1010.68)" font-size="19.2">33</text>
<text transform="translate(507.5,1007.48)" text-anchor="end" font-size="19.8">RNA Polymerase II Transcription Termination</text>
<rect x="532.4" y="1026.05" width="24.4" height="17.9" fill="#4E5DC5"/>
<text transform="translate(557.1,1042.4)" font-size="19.2">11</text>
<text transform="translate(507.5,1035.3)" text-anchor="end" font-size="19.8">NABA CORE MATRISOME</text>
<rect x="532.4" y="1045.9" width="22.5" height="17.9" fill="#4B5DC6"/>
<text transform="translate(555.2,1062.25)" font-size="19.2">18</text>
<text transform="translate(507.5,1055.15)" text-anchor="end" font-size="19.8">positive regulation of catabolic process</text>
<rect x="532.4" y="1065.75" width="21.1" height="17.9" fill="#495EC7"/>
<text transform="translate(553.8,1082.1)" font-size="19.2">18</text>
<text transform="translate(507.5,1075)" text-anchor="end" font-size="19.8">protein retention in Golgi apparatus</text>
<rect x="532.4" y="1085.6" width="18.4" height="17.9" fill="#455EC9"/>
<text transform="translate(551.1,1101.95)" font-size="19.2">10</text>
<text transform="translate(507.5,1094.85)" text-anchor="end" font-size="19.8">regulation of small GTPase mediated signal transduction</text>
<rect x="532.4" y="1105.45" width="12.6" height="17.9" fill="#3A5FCD"/>
<text transform="translate(545.3,1121.8)" font-size="19.2">13</text>
<text transform="translate(507.5,1114.7)" text-anchor="end" font-size="19.8">muscle structure development</text>
<rect x="516.4" y="589.6" width="368.2" height="426.2" fill="none" stroke="#333" stroke-width="1.6"/>
<rect x="884.6" y="589.6" width="29.4" height="426.2" fill="#D9D9D9" stroke="#333" stroke-width="1.6"/>
<rect x="516.4" y="1023.3" width="368.2" height="102.4" fill="none" stroke="#333" stroke-width="1.6"/>
<rect x="884.6" y="1023.3" width="29.4" height="102.4" fill="#D9D9D9" stroke="#333" stroke-width="1.6"/>
<text transform="translate(891.9,808.9) rotate(90)" text-anchor="middle" font-size="19.5" fill="#1A1A1A">UP</text>
<text transform="translate(891.9,1071.6) rotate(90)" text-anchor="middle" font-size="19.5" fill="#1A1A1A">Down</text>
<line x1="532.4" y1="1125.7" x2="532.4" y2="1138.4" stroke="#333" stroke-width="2.2"/>
<text transform="translate(532.4,1163.6)" text-anchor="middle" font-size="19.6" fill="#4D4D4D">0</text>
<line x1="627.5" y1="1125.7" x2="627.5" y2="1138.4" stroke="#333" stroke-width="2.2"/>
<text transform="translate(630.1,1163.6)" text-anchor="middle" font-size="19.6" fill="#4D4D4D">10</text>
<line x1="722.6" y1="1125.7" x2="722.6" y2="1138.4" stroke="#333" stroke-width="2.2"/>
<text transform="translate(725.2,1163.6)" text-anchor="middle" font-size="19.6" fill="#4D4D4D">20</text>
<line x1="817.7" y1="1125.7" x2="817.7" y2="1138.4" stroke="#333" stroke-width="2.2"/>
<text transform="translate(820.3,1163.6)" text-anchor="middle" font-size="19.6" fill="#4D4D4D">30</text>
<text transform="translate(704.2,1194.6)" text-anchor="middle" font-size="23.6">−log10(q value)</text>
<defs><linearGradient id="dgrad" x1="0" y1="0" x2="0" y2="1"><stop offset="0" stop-color="#3A5FCD"/><stop offset="0.1" stop-color="#645AB9"/><stop offset="0.2" stop-color="#7D54A5"/><stop offset="0.3" stop-color="#8F4E91"/><stop offset="0.4" stop-color="#9D487E"/><stop offset="0.5" stop-color="#A8416B"/><stop offset="0.6" stop-color="#B23A58"/><stop offset="0.7" stop-color="#BA3245"/><stop offset="0.8" stop-color="#C12832"/><stop offset="0.9" stop-color="#C71A1D"/><stop offset="1" stop-color="#CD0000"/></linearGradient></defs>
<text transform="translate(9.1,674.6)" font-size="20">-log10(q value)</text>
<rect x="9.1" y="682.4" width="20.7" height="100.2" fill="url(#dgrad)"/>
<text transform="translate(36.5,714.1)" font-size="19.6">−10</text>
<text transform="translate(36.5,745)" font-size="19.6">−20</text>
<text transform="translate(36.5,776.3)" font-size="19.6">−30</text>
<text transform="translate(936,590)" font-size="27" font-weight="bold">e</text>
<line x1="1019.8" y1="608.44" x2="1890" y2="608.44" stroke="#C8C8C8" stroke-width="1.1" stroke-dasharray="5 13.45"/>
<line x1="1013.3" y1="687.1" x2="1019.9" y2="687.1" stroke="#333333" stroke-width="2"/>
<text transform="translate(1007.1,695.2)" text-anchor="end" font-size="19.6" fill="#4D4D4D">0.0</text>
<line x1="1013.3" y1="660.88" x2="1019.9" y2="660.88" stroke="#333333" stroke-width="2"/>
<text transform="translate(1007.1,668.98)" text-anchor="end" font-size="19.6" fill="#4D4D4D">0.3</text>
<line x1="1013.3" y1="634.66" x2="1019.9" y2="634.66" stroke="#333333" stroke-width="2"/>
<text transform="translate(1007.1,642.76)" text-anchor="end" font-size="19.6" fill="#4D4D4D">0.6</text>
<line x1="1013.3" y1="608.44" x2="1019.9" y2="608.44" stroke="#333333" stroke-width="2"/>
<text transform="translate(1007.1,616.54)" text-anchor="end" font-size="19.6" fill="#4D4D4D">0.9</text>
<text transform="translate(972.8,649.2) rotate(-90)" text-anchor="middle" font-size="19.6">log2FC</text>
<rect x="1024.35" y="589.39" width="27.5" height="97.71" fill="#CE0601" stroke="#000" stroke-width="1.9"/>
<line x1="1038.1" y1="692.3" x2="1038.1" y2="698.7" stroke="#333333" stroke-width="2"/>
<rect x="1055.54" y="609.58" width="27.5" height="77.52" fill="#E25438" stroke="#000" stroke-width="1.9"/>
<line x1="1069.29" y1="692.3" x2="1069.29" y2="698.7" stroke="#333333" stroke-width="2"/>
<rect x="1086.73" y="610.19" width="27.5" height="76.91" fill="#E25639" stroke="#000" stroke-width="1.9"/>
<line x1="1100.48" y1="692.3" x2="1100.48" y2="698.7" stroke="#333333" stroke-width="2"/>
<rect x="1117.91" y="614.91" width="27.5" height="72.19" fill="#E66144" stroke="#000" stroke-width="1.9"/>
<line x1="1131.66" y1="692.3" x2="1131.66" y2="698.7" stroke="#333333" stroke-width="2"/>
<rect x="1149.11" y="621.46" width="27.5" height="65.64" fill="#EB7154" stroke="#000" stroke-width="1.9"/>
<line x1="1162.86" y1="692.3" x2="1162.86" y2="698.7" stroke="#333333" stroke-width="2"/>
<rect x="1180.3" y="621.72" width="27.5" height="65.38" fill="#EC7155" stroke="#000" stroke-width="1.9"/>
<line x1="1194.05" y1="692.3" x2="1194.05" y2="698.7" stroke="#333333" stroke-width="2"/>
<rect x="1211.49" y="621.72" width="27.5" height="65.38" fill="#EC7155" stroke="#000" stroke-width="1.9"/>
<line x1="1225.24" y1="692.3" x2="1225.24" y2="698.7" stroke="#333333" stroke-width="2"/>
<rect x="1242.67" y="627.23" width="27.5" height="59.87" fill="#F07E62" stroke="#000" stroke-width="1.9"/>
<line x1="1256.42" y1="692.3" x2="1256.42" y2="698.7" stroke="#333333" stroke-width="2"/>
<rect x="1273.87" y="627.84" width="27.5" height="59.26" fill="#F07F64" stroke="#000" stroke-width="1.9"/>
<line x1="1287.62" y1="692.3" x2="1287.62" y2="698.7" stroke="#333333" stroke-width="2"/>
<rect x="1305.06" y="629.5" width="27.5" height="57.6" fill="#F18368" stroke="#000" stroke-width="1.9"/>
<line x1="1318.81" y1="692.3" x2="1318.81" y2="698.7" stroke="#333333" stroke-width="2"/>
<rect x="1336.25" y="629.5" width="27.5" height="57.6" fill="#F18368" stroke="#000" stroke-width="1.9"/>
<line x1="1350" y1="692.3" x2="1350" y2="698.7" stroke="#333333" stroke-width="2"/>
<rect x="1367.43" y="630.03" width="27.5" height="57.07" fill="#F28469" stroke="#000" stroke-width="1.9"/>
<line x1="1381.18" y1="692.3" x2="1381.18" y2="698.7" stroke="#333333" stroke-width="2"/>
<rect x="1398.62" y="630.9" width="27.5" height="56.2" fill="#F2866B" stroke="#000" stroke-width="1.9"/>
<line x1="1412.38" y1="692.3" x2="1412.38" y2="698.7" stroke="#333333" stroke-width="2"/>
<rect x="1429.82" y="631.43" width="27.5" height="55.67" fill="#F2876C" stroke="#000" stroke-width="1.9"/>
<line x1="1443.57" y1="692.3" x2="1443.57" y2="698.7" stroke="#333333" stroke-width="2"/>
<rect x="1461.01" y="632.04" width="27.5" height="55.06" fill="#F3886E" stroke="#000" stroke-width="1.9"/>
<line x1="1474.76" y1="692.3" x2="1474.76" y2="698.7" stroke="#333333" stroke-width="2"/>
<rect x="1492.2" y="632.04" width="27.5" height="55.06" fill="#F3886E" stroke="#000" stroke-width="1.9"/>
<line x1="1505.95" y1="692.3" x2="1505.95" y2="698.7" stroke="#333333" stroke-width="2"/>
<rect x="1523.38" y="632.3" width="27.5" height="54.8" fill="#F3896F" stroke="#000" stroke-width="1.9"/>
<line x1="1537.13" y1="692.3" x2="1537.13" y2="698.7" stroke="#333333" stroke-width="2"/>
<rect x="1554.58" y="632.56" width="27.5" height="54.54" fill="#F3896F" stroke="#000" stroke-width="1.9"/>
<line x1="1568.33" y1="692.3" x2="1568.33" y2="698.7" stroke="#333333" stroke-width="2"/>
<rect x="1585.77" y="632.56" width="27.5" height="54.54" fill="#F3896F" stroke="#000" stroke-width="1.9"/>
<line x1="1599.52" y1="692.3" x2="1599.52" y2="698.7" stroke="#333333" stroke-width="2"/>
<rect x="1616.95" y="633" width="27.5" height="54.1" fill="#F38A70" stroke="#000" stroke-width="1.9"/>
<line x1="1630.7" y1="692.3" x2="1630.7" y2="698.7" stroke="#333333" stroke-width="2"/>
<rect x="1648.14" y="633.52" width="27.5" height="53.58" fill="#F48C72" stroke="#000" stroke-width="1.9"/>
<line x1="1661.89" y1="692.3" x2="1661.89" y2="698.7" stroke="#333333" stroke-width="2"/>
<rect x="1679.34" y="633.52" width="27.5" height="53.58" fill="#F48C72" stroke="#000" stroke-width="1.9"/>
<line x1="1693.09" y1="692.3" x2="1693.09" y2="698.7" stroke="#333333" stroke-width="2"/>
<rect x="1710.53" y="634.4" width="27.5" height="52.7" fill="#F48D74" stroke="#000" stroke-width="1.9"/>
<line x1="1724.28" y1="692.3" x2="1724.28" y2="698.7" stroke="#333333" stroke-width="2"/>
<rect x="1741.72" y="634.92" width="27.5" height="52.18" fill="#F58F75" stroke="#000" stroke-width="1.9"/>
<line x1="1755.47" y1="692.3" x2="1755.47" y2="698.7" stroke="#333333" stroke-width="2"/>
<rect x="1772.91" y="635.45" width="27.5" height="51.65" fill="#F59076" stroke="#000" stroke-width="1.9"/>
<line x1="1786.66" y1="692.3" x2="1786.66" y2="698.7" stroke="#333333" stroke-width="2"/>
<rect x="1804.1" y="635.8" width="27.5" height="51.3" fill="#F59177" stroke="#000" stroke-width="1.9"/>
<line x1="1817.85" y1="692.3" x2="1817.85" y2="698.7" stroke="#333333" stroke-width="2"/>
<rect x="1835.29" y="635.8" width="27.5" height="51.3" fill="#F59177" stroke="#000" stroke-width="1.9"/>
<line x1="1849.04" y1="692.3" x2="1849.04" y2="698.7" stroke="#333333" stroke-width="2"/>
<rect x="1866.47" y="635.8" width="27.5" height="51.3" fill="#F59177" stroke="#000" stroke-width="1.9"/>
<line x1="1880.22" y1="692.3" x2="1880.22" y2="698.7" stroke="#333333" stroke-width="2"/>
<rect x="1022.5" y="710.8" width="31.59" height="26.55" fill="#FBB9A5"/>
<rect x="1053.69" y="710.8" width="31.59" height="26.55" fill="#FAAD98"/>
<rect x="1084.88" y="710.8" width="31.59" height="26.55" fill="#EC7055"/>
<rect x="1116.07" y="710.8" width="31.59" height="26.55" fill="#FBBEAB"/>
<rect x="1147.26" y="710.8" width="31.59" height="26.55" fill="#FDE0D6"/>
<rect x="1178.45" y="710.8" width="31.59" height="26.55" fill="#EB6C50"/>
<rect x="1209.64" y="710.8" width="31.59" height="26.55" fill="#E96448"/>
<rect x="1240.83" y="710.8" width="31.59" height="26.55" fill="#F5F5FC"/>
<rect x="1272.02" y="710.8" width="31.59" height="26.55" fill="#EC7459"/>
<rect x="1303.21" y="710.8" width="31.59" height="26.55" fill="#FDDAD0"/>
<rect x="1334.4" y="710.8" width="31.59" height="26.55" fill="#E76346"/>
<rect x="1365.59" y="710.8" width="31.59" height="26.55" fill="#E05234"/>
<rect x="1396.78" y="710.8" width="31.59" height="26.55" fill="#FDBFB0"/>
<rect x="1427.97" y="710.8" width="31.59" height="26.55" fill="#CC0000"/>
<rect x="1459.16" y="710.8" width="31.59" height="26.55" fill="#F0F0FA"/>
<rect x="1490.35" y="710.8" width="31.59" height="26.55" fill="#EC7459"/>
<rect x="1521.54" y="710.8" width="31.59" height="26.55" fill="#F08468"/>
<rect x="1552.73" y="710.8" width="31.59" height="26.55" fill="#E55F42"/>
<rect x="1583.92" y="710.8" width="31.59" height="26.55" fill="#EA6B4F"/>
<rect x="1615.11" y="710.8" width="31.59" height="26.55" fill="#FAA690"/>
<rect x="1646.3" y="710.8" width="31.59" height="26.55" fill="#E25436"/>
<rect x="1677.49" y="710.8" width="31.59" height="26.55" fill="#F8A38C"/>
<rect x="1708.68" y="710.8" width="31.59" height="26.55" fill="#DC4428"/>
<rect x="1739.87" y="710.8" width="31.59" height="26.55" fill="#F9B09B"/>
<rect x="1771.06" y="710.8" width="31.59" height="26.55" fill="#F5977D"/>
<rect x="1802.25" y="710.8" width="31.59" height="26.55" fill="#EB6C50"/>
<rect x="1833.44" y="710.8" width="31.59" height="26.55" fill="#FBB8A5"/>
<rect x="1864.63" y="710.8" width="31.59" height="26.55" fill="#FFF6F2"/>
<line x1="1013.7" y1="723.88" x2="1019.8" y2="723.88" stroke="#333333" stroke-width="2"/>
<rect x="1022.5" y="736.95" width="31.59" height="26.55" fill="#EB6E52"/>
<rect x="1053.69" y="736.95" width="31.59" height="26.55" fill="#F2896E"/>
<rect x="1084.88" y="736.95" width="31.59" height="26.55" fill="#F2896E"/>
<rect x="1116.07" y="736.95" width="31.59" height="26.55" fill="#FDD3C7"/>
<rect x="1147.26" y="736.95" width="31.59" height="26.55" fill="#E05236"/>
<rect x="1178.45" y="736.95" width="31.59" height="26.55" fill="#F28268"/>
<rect x="1209.64" y="736.95" width="31.59" height="26.55" fill="#EE7A5F"/>
<rect x="1240.83" y="736.95" width="31.59" height="26.55" fill="#E35E40"/>
<rect x="1272.02" y="736.95" width="31.59" height="26.55" fill="#F59B82"/>
<rect x="1303.21" y="736.95" width="31.59" height="26.55" fill="#CC0000"/>
<rect x="1334.4" y="736.95" width="31.59" height="26.55" fill="#F2866C"/>
<rect x="1365.59" y="736.95" width="31.59" height="26.55" fill="#FAAC98"/>
<rect x="1396.78" y="736.95" width="31.59" height="26.55" fill="#D6341B"/>
<rect x="1427.97" y="736.95" width="31.59" height="26.55" fill="#F2F2FC"/>
<rect x="1459.16" y="736.95" width="31.59" height="26.55" fill="#E8664A"/>
<rect x="1490.35" y="736.95" width="31.59" height="26.55" fill="#F4937A"/>
<rect x="1521.54" y="736.95" width="31.59" height="26.55" fill="#F4937A"/>
<rect x="1552.73" y="736.95" width="31.59" height="26.55" fill="#F6A088"/>
<rect x="1583.92" y="736.95" width="31.59" height="26.55" fill="#F8A38C"/>
<rect x="1615.11" y="736.95" width="31.59" height="26.55" fill="#E35D3F"/>
<rect x="1646.3" y="736.95" width="31.59" height="26.55" fill="#F8A38C"/>
<rect x="1677.49" y="736.95" width="31.59" height="26.55" fill="#FDDAD0"/>
<rect x="1708.68" y="736.95" width="31.59" height="26.55" fill="#FBB8A5"/>
<rect x="1739.87" y="736.95" width="31.59" height="26.55" fill="#EB6D51"/>
<rect x="1771.06" y="736.95" width="31.59" height="26.55" fill="#F08065"/>
<rect x="1802.25" y="736.95" width="31.59" height="26.55" fill="#F28A6F"/>
<rect x="1833.44" y="736.95" width="31.59" height="26.55" fill="#FAAE99"/>
<rect x="1864.63" y="736.95" width="31.59" height="26.55" fill="#DA3E22"/>
<line x1="1013.7" y1="750.02" x2="1019.8" y2="750.02" stroke="#333333" stroke-width="2"/>
<rect x="1022.5" y="763.1" width="31.59" height="26.55" fill="#FAAD98"/>
<rect x="1053.69" y="763.1" width="31.59" height="26.55" fill="#F4917A"/>
<rect x="1084.88" y="763.1" width="31.59" height="26.55" fill="#FFF5F2"/>
<rect x="1116.07" y="763.1" width="31.59" height="26.55" fill="#DF4A30"/>
<rect x="1147.26" y="763.1" width="31.59" height="26.55" fill="#FAA892"/>
<rect x="1178.45" y="763.1" width="31.59" height="26.55" fill="#FAFAFC"/>
<rect x="1209.64" y="763.1" width="31.59" height="26.55" fill="#DFE0F4"/>
<rect x="1240.83" y="763.1" width="31.59" height="26.55" fill="#F28A6F"/>
<rect x="1272.02" y="763.1" width="31.59" height="26.55" fill="#FEEFE9"/>
<rect x="1303.21" y="763.1" width="31.59" height="26.55" fill="#EAEAF8"/>
<rect x="1334.4" y="763.1" width="31.59" height="26.55" fill="#F1F1FA"/>
<rect x="1365.59" y="763.1" width="31.59" height="26.55" fill="#FDE1D8"/>
<rect x="1396.78" y="763.1" width="31.59" height="26.55" fill="#FDFDFD"/>
<rect x="1427.97" y="763.1" width="31.59" height="26.55" fill="#FEE3DB"/>
<rect x="1459.16" y="763.1" width="31.59" height="26.55" fill="#EF7A60"/>
<rect x="1490.35" y="763.1" width="31.59" height="26.55" fill="#FDCDBF"/>
<rect x="1521.54" y="763.1" width="31.59" height="26.55" fill="#FBBFAD"/>
<rect x="1552.73" y="763.1" width="31.59" height="26.55" fill="#FEE2DA"/>
<rect x="1583.92" y="763.1" width="31.59" height="26.55" fill="#FDDDD3"/>
<rect x="1615.11" y="763.1" width="31.59" height="26.55" fill="#FDDFD6"/>
<rect x="1646.3" y="763.1" width="31.59" height="26.55" fill="#FEF3EF"/>
<rect x="1677.49" y="763.1" width="31.59" height="26.55" fill="#E8664A"/>
<rect x="1708.68" y="763.1" width="31.59" height="26.55" fill="#FEE3DB"/>
<rect x="1739.87" y="763.1" width="31.59" height="26.55" fill="#FBBBA8"/>
<rect x="1771.06" y="763.1" width="31.59" height="26.55" fill="#FEEAE4"/>
<rect x="1802.25" y="763.1" width="31.59" height="26.55" fill="#E8E8F8"/>
<rect x="1833.44" y="763.1" width="31.59" height="26.55" fill="#F28A70"/>
<rect x="1864.63" y="763.1" width="31.59" height="26.55" fill="#FBB8A3"/>
<line x1="1013.7" y1="776.17" x2="1019.8" y2="776.17" stroke="#333333" stroke-width="2"/>
<rect x="1022.5" y="789.25" width="31.59" height="26.55" fill="#A0A4E4"/>
<rect x="1053.69" y="789.25" width="31.59" height="26.55" fill="#A8ABE6"/>
<rect x="1084.88" y="789.25" width="31.59" height="26.55" fill="#858EDC"/>
<rect x="1116.07" y="789.25" width="31.59" height="26.55" fill="#A8ACE7"/>
<rect x="1147.26" y="789.25" width="31.59" height="26.55" fill="#B3B5EA"/>
<rect x="1178.45" y="789.25" width="31.59" height="26.55" fill="#8C96DE"/>
<rect x="1209.64" y="789.25" width="31.59" height="26.55" fill="#A8ABE7"/>
<rect x="1240.83" y="789.25" width="31.59" height="26.55" fill="#B0B3EA"/>
<rect x="1272.02" y="789.25" width="31.59" height="26.55" fill="#6B79D5"/>
<rect x="1303.21" y="789.25" width="31.59" height="26.55" fill="#D0D1F1"/>
<rect x="1334.4" y="789.25" width="31.59" height="26.55" fill="#A0A5E4"/>
<rect x="1365.59" y="789.25" width="31.59" height="26.55" fill="#BABCEC"/>
<rect x="1396.78" y="789.25" width="31.59" height="26.55" fill="#A0A6E4"/>
<rect x="1427.97" y="789.25" width="31.59" height="26.55" fill="#AEB2E8"/>
<rect x="1459.16" y="789.25" width="31.59" height="26.55" fill="#B6B8EB"/>
<rect x="1490.35" y="789.25" width="31.59" height="26.55" fill="#8F98DF"/>
<rect x="1521.54" y="789.25" width="31.59" height="26.55" fill="#A8ACE7"/>
<rect x="1552.73" y="789.25" width="31.59" height="26.55" fill="#A3A8E6"/>
<rect x="1583.92" y="789.25" width="31.59" height="26.55" fill="#7682D9"/>
<rect x="1615.11" y="789.25" width="31.59" height="26.55" fill="#8C95DE"/>
<rect x="1646.3" y="789.25" width="31.59" height="26.55" fill="#9BA2E2"/>
<rect x="1677.49" y="789.25" width="31.59" height="26.55" fill="#8890DC"/>
<rect x="1708.68" y="789.25" width="31.59" height="26.55" fill="#A0A5E4"/>
<rect x="1739.87" y="789.25" width="31.59" height="26.55" fill="#A8ABE7"/>
<rect x="1771.06" y="789.25" width="31.59" height="26.55" fill="#FEF0EB"/>
<rect x="1802.25" y="789.25" width="31.59" height="26.55" fill="#7A83D9"/>
<rect x="1833.44" y="789.25" width="31.59" height="26.55" fill="#6474D3"/>
<rect x="1864.63" y="789.25" width="31.59" height="26.55" fill="#B2B4E9"/>
<line x1="1013.7" y1="802.32" x2="1019.8" y2="802.32" stroke="#333333" stroke-width="2"/>
<rect x="1022.5" y="815.4" width="31.59" height="26.55" fill="#9FA3E3"/>
<rect x="1053.69" y="815.4" width="31.59" height="26.55" fill="#A5A9E7"/>
<rect x="1084.88" y="815.4" width="31.59" height="26.55" fill="#C8C8EE"/>
<rect x="1116.07" y="815.4" width="31.59" height="26.55" fill="#A4A8E6"/>
<rect x="1147.26" y="815.4" width="31.59" height="26.55" fill="#ABAEE7"/>
<rect x="1178.45" y="815.4" width="31.59" height="26.55" fill="#CBCCEF"/>
<rect x="1209.64" y="815.4" width="31.59" height="26.55" fill="#B5B7EA"/>
<rect x="1240.83" y="815.4" width="31.59" height="26.55" fill="#B6B8EB"/>
<rect x="1272.02" y="815.4" width="31.59" height="26.55" fill="#F2F2F9"/>
<rect x="1303.21" y="815.4" width="31.59" height="26.55" fill="#B8BAEC"/>
<rect x="1334.4" y="815.4" width="31.59" height="26.55" fill="#C4C5EE"/>
<rect x="1365.59" y="815.4" width="31.59" height="26.55" fill="#BEBFEC"/>
<rect x="1396.78" y="815.4" width="31.59" height="26.55" fill="#E1E1F6"/>
<rect x="1427.97" y="815.4" width="31.59" height="26.55" fill="#B5B7EA"/>
<rect x="1459.16" y="815.4" width="31.59" height="26.55" fill="#B5B7EA"/>
<rect x="1490.35" y="815.4" width="31.59" height="26.55" fill="#BFC1ED"/>
<rect x="1521.54" y="815.4" width="31.59" height="26.55" fill="#929ADF"/>
<rect x="1552.73" y="815.4" width="31.59" height="26.55" fill="#A3A8E6"/>
<rect x="1583.92" y="815.4" width="31.59" height="26.55" fill="#CACBEF"/>
<rect x="1615.11" y="815.4" width="31.59" height="26.55" fill="#D1D1F1"/>
<rect x="1646.3" y="815.4" width="31.59" height="26.55" fill="#CFCFF1"/>
<rect x="1677.49" y="815.4" width="31.59" height="26.55" fill="#B2B4E9"/>
<rect x="1708.68" y="815.4" width="31.59" height="26.55" fill="#D3D4F2"/>
<rect x="1739.87" y="815.4" width="31.59" height="26.55" fill="#9A9FE2"/>
<rect x="1771.06" y="815.4" width="31.59" height="26.55" fill="#A8ABE7"/>
<rect x="1802.25" y="815.4" width="31.59" height="26.55" fill="#D7D8F3"/>
<rect x="1833.44" y="815.4" width="31.59" height="26.55" fill="#CACBEF"/>
<rect x="1864.63" y="815.4" width="31.59" height="26.55" fill="#B5B7EA"/>
<line x1="1013.7" y1="828.47" x2="1019.8" y2="828.47" stroke="#333333" stroke-width="2"/>
<rect x="1022.5" y="841.55" width="31.59" height="26.55" fill="#C8C8EF"/>
<rect x="1053.69" y="841.55" width="31.59" height="26.55" fill="#B3B5EA"/>
<rect x="1084.88" y="841.55" width="31.59" height="26.55" fill="#D5D5F2"/>
<rect x="1116.07" y="841.55" width="31.59" height="26.55" fill="#C4C5EE"/>
<rect x="1147.26" y="841.55" width="31.59" height="26.55" fill="#B7B9EA"/>
<rect x="1178.45" y="841.55" width="31.59" height="26.55" fill="#C7C8EF"/>
<rect x="1209.64" y="841.55" width="31.59" height="26.55" fill="#D9D9F3"/>
<rect x="1240.83" y="841.55" width="31.59" height="26.55" fill="#C2C3EE"/>
<rect x="1272.02" y="841.55" width="31.59" height="26.55" fill="#CCCDF0"/>
<rect x="1303.21" y="841.55" width="31.59" height="26.55" fill="#B6B8EB"/>
<rect x="1334.4" y="841.55" width="31.59" height="26.55" fill="#C4C5EE"/>
<rect x="1365.59" y="841.55" width="31.59" height="26.55" fill="#A0A5E4"/>
<rect x="1396.78" y="841.55" width="31.59" height="26.55" fill="#AEB1E8"/>
<rect x="1427.97" y="841.55" width="31.59" height="26.55" fill="#E5E5F6"/>
<rect x="1459.16" y="841.55" width="31.59" height="26.55" fill="#B5B7EA"/>
<rect x="1490.35" y="841.55" width="31.59" height="26.55" fill="#BFC1ED"/>
<rect x="1521.54" y="841.55" width="31.59" height="26.55" fill="#D3D4F2"/>
<rect x="1552.73" y="841.55" width="31.59" height="26.55" fill="#CBCCEF"/>
<rect x="1583.92" y="841.55" width="31.59" height="26.55" fill="#D9D9F4"/>
<rect x="1615.11" y="841.55" width="31.59" height="26.55" fill="#B7B9EB"/>
<rect x="1646.3" y="841.55" width="31.59" height="26.55" fill="#B7B9EB"/>
<rect x="1677.49" y="841.55" width="31.59" height="26.55" fill="#DCDCF5"/>
<rect x="1708.68" y="841.55" width="31.59" height="26.55" fill="#A8ABE7"/>
<rect x="1739.87" y="841.55" width="31.59" height="26.55" fill="#C8C8EF"/>
<rect x="1771.06" y="841.55" width="31.59" height="26.55" fill="#7A84D9"/>
<rect x="1802.25" y="841.55" width="31.59" height="26.55" fill="#ECECF9"/>
<rect x="1833.44" y="841.55" width="31.59" height="26.55" fill="#EEEEF9"/>
<rect x="1864.63" y="841.55" width="31.59" height="26.55" fill="#C2C3EE"/>
<line x1="1013.7" y1="854.62" x2="1019.8" y2="854.62" stroke="#333333" stroke-width="2"/>
<rect x="976.3" y="710.8" width="30.4" height="78.45" fill="#E0565B"/>
<rect x="976.3" y="789.25" width="30.4" height="78.45" fill="#8C8C8C"/>
<text transform="translate(998.5,750.02) rotate(-90)" text-anchor="middle" font-size="19.6">BC.G3</text>
<text transform="translate(998.5,828.47) rotate(-90)" text-anchor="middle" font-size="19.6">Control</text>
<line x1="1038.1" y1="870.5" x2="1038.1" y2="879.5" stroke="#333333" stroke-width="2"/>
<line x1="1069.29" y1="870.5" x2="1069.29" y2="879.5" stroke="#333333" stroke-width="2"/>
<line x1="1100.48" y1="870.5" x2="1100.48" y2="879.5" stroke="#333333" stroke-width="2"/>
<line x1="1131.66" y1="870.5" x2="1131.66" y2="879.5" stroke="#333333" stroke-width="2"/>
<line x1="1162.86" y1="870.5" x2="1162.86" y2="879.5" stroke="#333333" stroke-width="2"/>
<line x1="1194.05" y1="870.5" x2="1194.05" y2="879.5" stroke="#333333" stroke-width="2"/>
<line x1="1225.24" y1="870.5" x2="1225.24" y2="879.5" stroke="#333333" stroke-width="2"/>
<line x1="1256.42" y1="870.5" x2="1256.42" y2="879.5" stroke="#333333" stroke-width="2"/>
<line x1="1287.62" y1="870.5" x2="1287.62" y2="879.5" stroke="#333333" stroke-width="2"/>
<line x1="1318.81" y1="870.5" x2="1318.81" y2="879.5" stroke="#333333" stroke-width="2"/>
<line x1="1350" y1="870.5" x2="1350" y2="879.5" stroke="#333333" stroke-width="2"/>
<line x1="1381.18" y1="870.5" x2="1381.18" y2="879.5" stroke="#333333" stroke-width="2"/>
<line x1="1412.38" y1="870.5" x2="1412.38" y2="879.5" stroke="#333333" stroke-width="2"/>
<line x1="1443.57" y1="870.5" x2="1443.57" y2="879.5" stroke="#333333" stroke-width="2"/>
<line x1="1474.76" y1="870.5" x2="1474.76" y2="879.5" stroke="#333333" stroke-width="2"/>
<line x1="1505.95" y1="870.5" x2="1505.95" y2="879.5" stroke="#333333" stroke-width="2"/>
<line x1="1537.13" y1="870.5" x2="1537.13" y2="879.5" stroke="#333333" stroke-width="2"/>
<line x1="1568.33" y1="870.5" x2="1568.33" y2="879.5" stroke="#333333" stroke-width="2"/>
<line x1="1599.52" y1="870.5" x2="1599.52" y2="879.5" stroke="#333333" stroke-width="2"/>
<line x1="1630.7" y1="870.5" x2="1630.7" y2="879.5" stroke="#333333" stroke-width="2"/>
<line x1="1661.89" y1="870.5" x2="1661.89" y2="879.5" stroke="#333333" stroke-width="2"/>
<line x1="1693.09" y1="870.5" x2="1693.09" y2="879.5" stroke="#333333" stroke-width="2"/>
<line x1="1724.28" y1="870.5" x2="1724.28" y2="879.5" stroke="#333333" stroke-width="2"/>
<line x1="1755.47" y1="870.5" x2="1755.47" y2="879.5" stroke="#333333" stroke-width="2"/>
<line x1="1786.66" y1="870.5" x2="1786.66" y2="879.5" stroke="#333333" stroke-width="2"/>
<line x1="1817.85" y1="870.5" x2="1817.85" y2="879.5" stroke="#333333" stroke-width="2"/>
<line x1="1849.04" y1="870.5" x2="1849.04" y2="879.5" stroke="#333333" stroke-width="2"/>
<line x1="1880.22" y1="870.5" x2="1880.22" y2="879.5" stroke="#333333" stroke-width="2"/>
<line x1="1019.7" y1="917.3" x2="1896" y2="917.3" stroke="#C8C8C8" stroke-width="1.1" stroke-dasharray="5 13.45"/>
<line x1="1013.2" y1="917.3" x2="1019.7" y2="917.3" stroke="#333333" stroke-width="2"/>
<line x1="1019.7" y1="966.4" x2="1896" y2="966.4" stroke="#C8C8C8" stroke-width="1.1" stroke-dasharray="5 13.45"/>
<line x1="1013.2" y1="966.4" x2="1019.7" y2="966.4" stroke="#333333" stroke-width="2"/>
<text transform="translate(1010.3,923.2)" text-anchor="end" font-size="20" fill="#4D4D4D">Tumor</text>
<text transform="translate(1010.3,971.9)" text-anchor="end" font-size="20" fill="#4D4D4D">Normal</text>
<circle cx="1038.1" cy="917.3" r="10.35" fill="#CD0000"/>
<circle cx="1038.1" cy="966.4" r="7.65" fill="#3A5FCD"/>
<line x1="1038.1" y1="996" x2="1038.1" y2="1002.2" stroke="#333333" stroke-width="2"/>
<circle cx="1069.29" cy="917.3" r="13.95" fill="#CD0000"/>
<circle cx="1069.29" cy="966.4" r="13.95" fill="#3A5FCD"/>
<line x1="1069.29" y1="996" x2="1069.29" y2="1002.2" stroke="#333333" stroke-width="2"/>
<circle cx="1100.48" cy="917.3" r="14.65" fill="#CD0000"/>
<circle cx="1100.48" cy="966.4" r="12.95" fill="#3A5FCD"/>
<line x1="1100.48" y1="996" x2="1100.48" y2="1002.2" stroke="#333333" stroke-width="2"/>
<circle cx="1131.66" cy="917.3" r="9.25" fill="#CD0000"/>
<circle cx="1131.66" cy="966.4" r="5.3" fill="#3A5FCD"/>
<line x1="1131.66" y1="996" x2="1131.66" y2="1002.2" stroke="#333333" stroke-width="2"/>
<circle cx="1162.86" cy="917.3" r="11.95" fill="#CD0000"/>
<circle cx="1162.86" cy="966.4" r="10.45" fill="#3A5FCD"/>
<line x1="1162.86" y1="996" x2="1162.86" y2="1002.2" stroke="#333333" stroke-width="2"/>
<circle cx="1194.05" cy="917.3" r="11.25" fill="#CD0000"/>
<circle cx="1194.05" cy="966.4" r="7.65" fill="#3A5FCD"/>
<line x1="1194.05" y1="996" x2="1194.05" y2="1002.2" stroke="#333333" stroke-width="2"/>
<circle cx="1225.24" cy="917.3" r="10.9" fill="#CD0000"/>
<circle cx="1225.24" cy="966.4" r="9.35" fill="#3A5FCD"/>
<line x1="1225.24" y1="996" x2="1225.24" y2="1002.2" stroke="#333333" stroke-width="2"/>
<circle cx="1256.42" cy="917.3" r="9.45" fill="#CD0000"/>
<circle cx="1256.42" cy="966.4" r="7.55" fill="#3A5FCD"/>
<line x1="1256.42" y1="996" x2="1256.42" y2="1002.2" stroke="#333333" stroke-width="2"/>
<circle cx="1287.62" cy="917.3" r="14.85" fill="#CD0000"/>
<circle cx="1287.62" cy="966.4" r="14.4" fill="#3A5FCD"/>
<line x1="1287.62" y1="996" x2="1287.62" y2="1002.2" stroke="#333333" stroke-width="2"/>
<circle cx="1318.81" cy="917.3" r="10.7" fill="#CD0000"/>
<circle cx="1318.81" cy="966.4" r="8" fill="#3A5FCD"/>
<line x1="1318.81" y1="996" x2="1318.81" y2="1002.2" stroke="#333333" stroke-width="2"/>
<circle cx="1350" cy="917.3" r="14.75" fill="#CD0000"/>
<circle cx="1350" cy="966.4" r="13.75" fill="#3A5FCD"/>
<line x1="1350" y1="996" x2="1350" y2="1002.2" stroke="#333333" stroke-width="2"/>
<circle cx="1381.18" cy="917.3" r="7.45" fill="#CD0000"/>
<circle cx="1381.18" cy="966.4" r="5.05" fill="#3A5FCD"/>
<line x1="1381.18" y1="996" x2="1381.18" y2="1002.2" stroke="#333333" stroke-width="2"/>
<circle cx="1412.38" cy="917.3" r="13.5" fill="#CD0000"/>
<circle cx="1412.38" cy="966.4" r="10.15" fill="#3A5FCD"/>
<line x1="1412.38" y1="996" x2="1412.38" y2="1002.2" stroke="#333333" stroke-width="2"/>
<circle cx="1443.57" cy="917.3" r="8.2" fill="#CD0000"/>
<circle cx="1443.57" cy="966.4" r="5.2" fill="#3A5FCD"/>
<line x1="1443.57" y1="996" x2="1443.57" y2="1002.2" stroke="#333333" stroke-width="2"/>
<circle cx="1474.76" cy="917.3" r="8.8" fill="#3A5FCD"/>
<circle cx="1474.76" cy="966.4" r="7.3" fill="#CD0000"/>
<line x1="1474.76" y1="996" x2="1474.76" y2="1002.2" stroke="#333333" stroke-width="2"/>
<circle cx="1505.95" cy="917.3" r="9" fill="#CD0000"/>
<circle cx="1505.95" cy="966.4" r="6.85" fill="#3A5FCD"/>
<line x1="1505.95" y1="996" x2="1505.95" y2="1002.2" stroke="#333333" stroke-width="2"/>
<circle cx="1537.13" cy="917.3" r="7.9" fill="#CD0000"/>
<circle cx="1537.13" cy="966.4" r="4.15" fill="#3A5FCD"/>
<line x1="1537.13" y1="996" x2="1537.13" y2="1002.2" stroke="#333333" stroke-width="2"/>
<circle cx="1568.33" cy="917.3" r="7.9" fill="#CD0000"/>
<circle cx="1568.33" cy="966.4" r="5.65" fill="#3A5FCD"/>
<line x1="1568.33" y1="996" x2="1568.33" y2="1002.2" stroke="#333333" stroke-width="2"/>
<circle cx="1599.52" cy="917.3" r="14.2" fill="#CD0000"/>
<circle cx="1599.52" cy="966.4" r="11.5" fill="#3A5FCD"/>
<line x1="1599.52" y1="996" x2="1599.52" y2="1002.2" stroke="#333333" stroke-width="2"/>
<circle cx="1630.7" cy="917.3" r="13.5" fill="#CD0000"/>
<circle cx="1630.7" cy="966.4" r="12.95" fill="#3A5FCD"/>
<line x1="1630.7" y1="996" x2="1630.7" y2="1002.2" stroke="#333333" stroke-width="2"/>
<circle cx="1661.89" cy="917.3" r="12.85" fill="#CD0000"/>
<circle cx="1661.89" cy="966.4" r="11" fill="#3A5FCD"/>
<line x1="1661.89" y1="996" x2="1661.89" y2="1002.2" stroke="#333333" stroke-width="2"/>
<circle cx="1693.09" cy="917.3" r="10.45" fill="#CD0000"/>
<circle cx="1693.09" cy="966.4" r="8.8" fill="#3A5FCD"/>
<line x1="1693.09" y1="996" x2="1693.09" y2="1002.2" stroke="#333333" stroke-width="2"/>
<circle cx="1724.28" cy="917.3" r="13.05" fill="#CD0000"/>
<circle cx="1724.28" cy="966.4" r="10.6" fill="#3A5FCD"/>
<line x1="1724.28" y1="996" x2="1724.28" y2="1002.2" stroke="#333333" stroke-width="2"/>
<circle cx="1755.47" cy="917.3" r="12.7" fill="#3A5FCD"/>
<circle cx="1755.47" cy="966.4" r="12.7" fill="#CD0000"/>
<line x1="1755.47" y1="996" x2="1755.47" y2="1002.2" stroke="#333333" stroke-width="2"/>
<circle cx="1786.66" cy="917.3" r="7.9" fill="#CD0000"/>
<circle cx="1786.66" cy="966.4" r="4.75" fill="#3A5FCD"/>
<line x1="1786.66" y1="996" x2="1786.66" y2="1002.2" stroke="#333333" stroke-width="2"/>
<circle cx="1817.85" cy="917.3" r="14.4" fill="#CD0000"/>
<circle cx="1817.85" cy="966.4" r="13.5" fill="#3A5FCD"/>
<line x1="1817.85" y1="996" x2="1817.85" y2="1002.2" stroke="#333333" stroke-width="2"/>
<circle cx="1849.04" cy="917.3" r="14.75" fill="#3A5FCD"/>
<circle cx="1849.04" cy="966.4" r="14.75" fill="#CD0000"/>
<line x1="1849.04" y1="996" x2="1849.04" y2="1002.2" stroke="#333333" stroke-width="2"/>
<circle cx="1880.22" cy="917.3" r="12.7" fill="#CD0000"/>
<circle cx="1880.22" cy="966.4" r="11.25" fill="#3A5FCD"/>
<line x1="1880.22" y1="996" x2="1880.22" y2="1002.2" stroke="#333333" stroke-width="2"/>
<line x1="1019.8" y1="1071.2" x2="1895" y2="1071.2" stroke="#C8C8C8" stroke-width="1.1" stroke-dasharray="5 13.45"/>
<line x1="1019.8" y1="1037.7" x2="1895" y2="1037.7" stroke="#C8C8C8" stroke-width="1.1" stroke-dasharray="5 13.45"/>
<line x1="1013.3" y1="1104.7" x2="1019.9" y2="1104.7" stroke="#333333" stroke-width="2"/>
<text transform="translate(1007.5,1112.7)" text-anchor="end" font-size="19.6" fill="#4D4D4D">0</text>
<line x1="1013.3" y1="1071.2" x2="1019.9" y2="1071.2" stroke="#333333" stroke-width="2"/>
<text transform="translate(1007.5,1079.2)" text-anchor="end" font-size="19.6" fill="#4D4D4D">1</text>
<line x1="1013.3" y1="1037.7" x2="1019.9" y2="1037.7" stroke="#333333" stroke-width="2"/>
<text transform="translate(1007.5,1044.7)" text-anchor="end" font-size="19.6" fill="#4D4D4D">2</text>
<text transform="translate(991.6,1066.3) rotate(-90)" text-anchor="middle" font-size="19.6">log2FC</text>
<rect x="1024.35" y="1061.08" width="27.5" height="43.62" fill="#F48D73" stroke="#000" stroke-width="1.9"/>
<line x1="1038.1" y1="1127.4" x2="1038.1" y2="1133.2" stroke="#333333" stroke-width="2"/>
<text transform="translate(1046.6,1150) rotate(-45)" text-anchor="end" font-size="19.4">PCLAF</text>
<rect x="1055.54" y="1103.69" width="27.5" height="1" fill="#FFFCFC" stroke="#000" stroke-width="1.9"/>
<line x1="1069.29" y1="1127.4" x2="1069.29" y2="1133.2" stroke="#333333" stroke-width="2"/>
<text transform="translate(1077.79,1150) rotate(-45)" text-anchor="end" font-size="19.4">JUN</text>
<rect x="1086.73" y="1077.5" width="27.5" height="27.2" fill="#FEB8A6" stroke="#000" stroke-width="1.9"/>
<line x1="1100.48" y1="1127.4" x2="1100.48" y2="1133.2" stroke="#333333" stroke-width="2"/>
<text transform="translate(1108.98,1150) rotate(-45)" text-anchor="end" font-size="19.4">HSPE1</text>
<rect x="1117.91" y="1024.57" width="27.5" height="80.13" fill="#CE0C03" stroke="#000" stroke-width="1.9"/>
<line x1="1131.66" y1="1127.4" x2="1131.66" y2="1133.2" stroke="#333333" stroke-width="2"/>
<text transform="translate(1140.16,1150) rotate(-45)" text-anchor="end" font-size="19.4">DUSP2</text>
<rect x="1149.11" y="1097.6" width="27.5" height="7.1" fill="#FFECE7" stroke="#000" stroke-width="1.9"/>
<line x1="1162.86" y1="1127.4" x2="1162.86" y2="1133.2" stroke="#333333" stroke-width="2"/>
<text transform="translate(1171.36,1150) rotate(-45)" text-anchor="end" font-size="19.4">ATF3</text>
<rect x="1180.3" y="1054.05" width="27.5" height="50.65" fill="#EF7A5E" stroke="#000" stroke-width="1.9"/>
<line x1="1194.05" y1="1127.4" x2="1194.05" y2="1133.2" stroke="#333333" stroke-width="2"/>
<text transform="translate(1202.55,1150) rotate(-45)" text-anchor="end" font-size="19.4">NUDT1</text>
<rect x="1211.49" y="1091.23" width="27.5" height="13.47" fill="#FFDCD2" stroke="#000" stroke-width="1.9"/>
<line x1="1225.24" y1="1127.4" x2="1225.24" y2="1133.2" stroke="#333333" stroke-width="2"/>
<text transform="translate(1233.74,1150) rotate(-45)" text-anchor="end" font-size="19.4">SNRNP25</text>
<rect x="1242.67" y="1091.9" width="27.5" height="12.8" fill="#FFDED4" stroke="#000" stroke-width="1.9"/>
<line x1="1256.42" y1="1127.4" x2="1256.42" y2="1133.2" stroke="#333333" stroke-width="2"/>
<text transform="translate(1264.92,1150) rotate(-45)" text-anchor="end" font-size="19.4">MAFF</text>
<rect x="1273.87" y="1099.27" width="27.5" height="5.43" fill="#FFF1ED" stroke="#000" stroke-width="1.9"/>
<line x1="1287.62" y1="1127.4" x2="1287.62" y2="1133.2" stroke="#333333" stroke-width="2"/>
<text transform="translate(1296.12,1150) rotate(-45)" text-anchor="end" font-size="19.4">TMA7</text>
<rect x="1305.06" y="1074.82" width="27.5" height="29.88" fill="#FCB19E" stroke="#000" stroke-width="1.9"/>
<line x1="1318.81" y1="1127.4" x2="1318.81" y2="1133.2" stroke="#333333" stroke-width="2"/>
<text transform="translate(1327.31,1150) rotate(-45)" text-anchor="end" font-size="19.4">DDIT3</text>
<rect x="1336.25" y="1089.89" width="27.5" height="14.81" fill="#FFD8CE" stroke="#000" stroke-width="1.9"/>
<line x1="1350" y1="1127.4" x2="1350" y2="1133.2" stroke="#333333" stroke-width="2"/>
<text transform="translate(1358.5,1150) rotate(-45)" text-anchor="end" font-size="19.4">SEC61G</text>
<rect x="1367.43" y="1081.18" width="27.5" height="23.52" fill="#FFC2B2" stroke="#000" stroke-width="1.9"/>
<line x1="1381.18" y1="1127.4" x2="1381.18" y2="1133.2" stroke="#333333" stroke-width="2"/>
<text transform="translate(1389.68,1150) rotate(-45)" text-anchor="end" font-size="19.4">BRF2</text>
<rect x="1398.62" y="1052.04" width="27.5" height="52.66" fill="#ED7559" stroke="#000" stroke-width="1.9"/>
<line x1="1412.38" y1="1127.4" x2="1412.38" y2="1133.2" stroke="#333333" stroke-width="2"/>
<text transform="translate(1420.88,1150) rotate(-45)" text-anchor="end" font-size="19.4">LDHB</text>
<rect x="1429.82" y="1052.71" width="27.5" height="51.99" fill="#ED775B" stroke="#000" stroke-width="1.9"/>
<line x1="1443.57" y1="1127.4" x2="1443.57" y2="1133.2" stroke="#333333" stroke-width="2"/>
<text transform="translate(1452.07,1150) rotate(-45)" text-anchor="end" font-size="19.4">E2F1</text>
<rect x="1461.01" y="1104.7" width="27.5" height="4.76" fill="#F5F5FC" stroke="#000" stroke-width="1.9"/>
<line x1="1474.76" y1="1127.4" x2="1474.76" y2="1133.2" stroke="#333333" stroke-width="2"/>
<text transform="translate(1483.26,1150) rotate(-45)" text-anchor="end" font-size="19.4">CSRNP1</text>
<rect x="1492.2" y="1079.51" width="27.5" height="25.19" fill="#FEBDAC" stroke="#000" stroke-width="1.9"/>
<line x1="1505.95" y1="1127.4" x2="1505.95" y2="1133.2" stroke="#333333" stroke-width="2"/>
<text transform="translate(1514.45,1150) rotate(-45)" text-anchor="end" font-size="19.4">RMI2</text>
<rect x="1523.38" y="1052.71" width="27.5" height="51.99" fill="#ED775B" stroke="#000" stroke-width="1.9"/>
<line x1="1537.13" y1="1127.4" x2="1537.13" y2="1133.2" stroke="#333333" stroke-width="2"/>
<text transform="translate(1545.63,1150) rotate(-45)" text-anchor="end" font-size="19.4">MSTO1</text>
<rect x="1554.58" y="1065.1" width="27.5" height="39.6" fill="#F79880" stroke="#000" stroke-width="1.9"/>
<line x1="1568.33" y1="1127.4" x2="1568.33" y2="1133.2" stroke="#333333" stroke-width="2"/>
<text transform="translate(1576.83,1150) rotate(-45)" text-anchor="end" font-size="19.4">CHAC2</text>
<rect x="1585.77" y="1069.79" width="27.5" height="34.91" fill="#FAA48E" stroke="#000" stroke-width="1.9"/>
<line x1="1599.52" y1="1127.4" x2="1599.52" y2="1133.2" stroke="#333333" stroke-width="2"/>
<text transform="translate(1608.02,1150) rotate(-45)" text-anchor="end" font-size="19.4">SNRPE</text>
<rect x="1616.95" y="1099.94" width="27.5" height="4.76" fill="#FFF3EF" stroke="#000" stroke-width="1.9"/>
<line x1="1630.7" y1="1127.4" x2="1630.7" y2="1133.2" stroke="#333333" stroke-width="2"/>
<text transform="translate(1639.2,1150) rotate(-45)" text-anchor="end" font-size="19.4">IER2</text>
<rect x="1648.14" y="1085.87" width="27.5" height="18.83" fill="#FFCEC1" stroke="#000" stroke-width="1.9"/>
<line x1="1661.89" y1="1127.4" x2="1661.89" y2="1133.2" stroke="#333333" stroke-width="2"/>
<text transform="translate(1670.39,1150) rotate(-45)" text-anchor="end" font-size="19.4">EBP</text>
<rect x="1679.34" y="1102.29" width="27.5" height="2.41" fill="#FFF9F7" stroke="#000" stroke-width="1.9"/>
<line x1="1693.09" y1="1127.4" x2="1693.09" y2="1133.2" stroke="#333333" stroke-width="2"/>
<text transform="translate(1701.59,1150) rotate(-45)" text-anchor="end" font-size="19.4">ZFAND2A</text>
<rect x="1710.53" y="1080.18" width="27.5" height="24.52" fill="#FFBFAF" stroke="#000" stroke-width="1.9"/>
<line x1="1724.28" y1="1127.4" x2="1724.28" y2="1133.2" stroke="#333333" stroke-width="2"/>
<text transform="translate(1732.78,1150) rotate(-45)" text-anchor="end" font-size="19.4">UQCC2</text>
<rect x="1741.72" y="1104.7" width="27.5" height="16.15" fill="#DDDDF6" stroke="#000" stroke-width="1.9"/>
<line x1="1755.47" y1="1127.4" x2="1755.47" y2="1133.2" stroke="#333333" stroke-width="2"/>
<text transform="translate(1763.97,1150) rotate(-45)" text-anchor="end" font-size="19.4">DUSP1</text>
<rect x="1772.91" y="1065.1" width="27.5" height="39.6" fill="#F79880" stroke="#000" stroke-width="1.9"/>
<line x1="1786.66" y1="1127.4" x2="1786.66" y2="1133.2" stroke="#333333" stroke-width="2"/>
<text transform="translate(1795.16,1150) rotate(-45)" text-anchor="end" font-size="19.4">DLEU2</text>
<rect x="1804.1" y="1100.61" width="27.5" height="4.09" fill="#FFF4F1" stroke="#000" stroke-width="1.9"/>
<line x1="1817.85" y1="1127.4" x2="1817.85" y2="1133.2" stroke="#333333" stroke-width="2"/>
<text transform="translate(1826.35,1150) rotate(-45)" text-anchor="end" font-size="19.4">ROMO1</text>
<rect x="1835.29" y="1104.7" width="27.5" height="8.11" fill="#EEEEFA" stroke="#000" stroke-width="1.9"/>
<line x1="1849.04" y1="1127.4" x2="1849.04" y2="1133.2" stroke="#333333" stroke-width="2"/>
<text transform="translate(1857.54,1150) rotate(-45)" text-anchor="end" font-size="19.4">COX8A</text>
<rect x="1866.47" y="1094.92" width="27.5" height="9.78" fill="#FFE5DE" stroke="#000" stroke-width="1.9"/>
<line x1="1880.22" y1="1127.4" x2="1880.22" y2="1133.2" stroke="#333333" stroke-width="2"/>
<text transform="translate(1888.72,1150) rotate(-45)" text-anchor="end" font-size="19.4">HES1</text>
<defs><linearGradient id="eg1" x1="0" y1="0" x2="0" y2="1"><stop offset="0" stop-color="#CD0000"/><stop offset="0.1" stop-color="#D2220F"/><stop offset="0.2" stop-color="#D7341C"/><stop offset="0.3" stop-color="#DB4228"/><stop offset="0.4" stop-color="#E04F33"/><stop offset="0.5" stop-color="#E45B3E"/><stop offset="0.6" stop-color="#E86649"/><stop offset="0.7" stop-color="#EC7155"/><stop offset="0.8" stop-color="#EF7C60"/><stop offset="0.9" stop-color="#F2866B"/><stop offset="1" stop-color="#F59077"/></linearGradient></defs>
<rect x="1946" y="588.1" width="22" height="101.7" fill="url(#eg1)"/>
<line x1="1946" y1="592.6" x2="1950.8" y2="592.6" stroke="#FFF" stroke-width="1.5"/>
<line x1="1963.2" y1="592.6" x2="1968" y2="592.6" stroke="#FFF" stroke-width="1.5"/>
<line x1="1946" y1="611.58" x2="1950.8" y2="611.58" stroke="#FFF" stroke-width="1.5"/>
<line x1="1963.2" y1="611.58" x2="1968" y2="611.58" stroke="#FFF" stroke-width="1.5"/>
<line x1="1946" y1="630.56" x2="1950.8" y2="630.56" stroke="#FFF" stroke-width="1.5"/>
<line x1="1963.2" y1="630.56" x2="1968" y2="630.56" stroke="#FFF" stroke-width="1.5"/>
<line x1="1946" y1="649.54" x2="1950.8" y2="649.54" stroke="#FFF" stroke-width="1.5"/>
<line x1="1963.2" y1="649.54" x2="1968" y2="649.54" stroke="#FFF" stroke-width="1.5"/>
<line x1="1946" y1="668.52" x2="1950.8" y2="668.52" stroke="#FFF" stroke-width="1.5"/>
<line x1="1963.2" y1="668.52" x2="1968" y2="668.52" stroke="#FFF" stroke-width="1.5"/>
<line x1="1946" y1="687.5" x2="1950.8" y2="687.5" stroke="#FFF" stroke-width="1.5"/>
<line x1="1963.2" y1="687.5" x2="1968" y2="687.5" stroke="#FFF" stroke-width="1.5"/>
<text transform="translate(1971,617.3)" font-size="19.6" fill="#4D4D4D">1.0</text>
<text transform="translate(1971,655.6)" font-size="19.6" fill="#4D4D4D">0.8</text>
<text transform="translate(1971,693.5)" font-size="19.6" fill="#4D4D4D">0.6</text>
<text transform="translate(1939.1,637.1) rotate(-90)" text-anchor="middle" font-size="19.6">log2FC</text>
<defs><linearGradient id="eg2" x1="0" y1="0" x2="0" y2="1"><stop offset="0" stop-color="#CD0000"/><stop offset="0.05" stop-color="#D7331B"/><stop offset="0.1" stop-color="#DF4E32"/><stop offset="0.15" stop-color="#E76447"/><stop offset="0.2" stop-color="#EE795D"/><stop offset="0.25" stop-color="#F48D74"/><stop offset="0.3" stop-color="#F9A18B"/><stop offset="0.35" stop-color="#FDB5A2"/><stop offset="0.4" stop-color="#FFC8BA"/><stop offset="0.45" stop-color="#FFDCD2"/><stop offset="0.5" stop-color="#FFEFEB"/><stop offset="0.55" stop-color="#FCFCFE"/><stop offset="0.6" stop-color="#ECECFA"/><stop offset="0.65" stop-color="#DCDCF6"/><stop offset="0.7" stop-color="#CCCCF1"/><stop offset="0.75" stop-color="#BCBDED"/><stop offset="0.8" stop-color="#ACAEE8"/><stop offset="0.85" stop-color="#9B9FE3"/><stop offset="0.9" stop-color="#8991DF"/><stop offset="0.95" stop-color="#7782DA"/><stop offset="1" stop-color="#6374D5"/></linearGradient></defs>
<rect x="1945.2" y="748.1" width="21.8" height="101.5" fill="url(#eg2)"/>
<line x1="1945.2" y1="773.8" x2="1950" y2="773.8" stroke="#FFF" stroke-width="1.5"/>
<line x1="1962.2" y1="773.8" x2="1967" y2="773.8" stroke="#FFF" stroke-width="1.5"/>
<line x1="1945.2" y1="831.8" x2="1950" y2="831.8" stroke="#FFF" stroke-width="1.5"/>
<line x1="1962.2" y1="831.8" x2="1967" y2="831.8" stroke="#FFF" stroke-width="1.5"/>
<text transform="translate(1969.5,780.3)" font-size="19.6" fill="#4D4D4D">-1</text>
<text transform="translate(1970.5,810.3)" font-size="19.6" fill="#4D4D4D">0</text>
<text transform="translate(1970.5,837)" font-size="19.6" fill="#4D4D4D">1</text>
<text transform="translate(1939.2,799) rotate(-90)" text-anchor="middle" font-size="19.6">Z score</text>
<circle cx="1956.1" cy="893.1" r="8.6" fill="#000"/>
<text transform="translate(1973.4,900.1)" font-size="19.6">20</text>
<circle cx="1956.1" cy="918.2" r="11.5" fill="#000"/>
<text transform="translate(1973.4,925.2)" font-size="19.6">40</text>
<circle cx="1956.1" cy="944.9" r="13.1" fill="#000"/>
<text transform="translate(1973.4,951.9)" font-size="19.6">60</text>
<circle cx="1956.1" cy="974.3" r="14.5" fill="#000"/>
<text transform="translate(1973.4,981.3)" font-size="19.6">80</text>
<text transform="translate(1939.6,938.6) rotate(-90)" text-anchor="middle" font-size="18">% expressing</text>
<defs><linearGradient id="eg3" x1="0" y1="0" x2="0" y2="1"><stop offset="0" stop-color="#CD0000"/><stop offset="0.05" stop-color="#D32410"/><stop offset="0.1" stop-color="#D93A21"/><stop offset="0.15" stop-color="#DE4B2F"/><stop offset="0.2" stop-color="#E45A3E"/><stop offset="0.25" stop-color="#E9694C"/><stop offset="0.3" stop-color="#ED775B"/><stop offset="0.35" stop-color="#F28469"/><stop offset="0.4" stop-color="#F59178"/><stop offset="0.45" stop-color="#F99E87"/><stop offset="0.5" stop-color="#FBAB96"/><stop offset="0.55" stop-color="#FEB8A6"/><stop offset="0.6" stop-color="#FFC5B6"/><stop offset="0.65" stop-color="#FFD2C6"/><stop offset="0.7" stop-color="#FFDFD6"/><stop offset="0.75" stop-color="#FFECE6"/><stop offset="0.8" stop-color="#FFF9F7"/><stop offset="0.85" stop-color="#FAFAFE"/><stop offset="0.9" stop-color="#EFEFFB"/><stop offset="0.95" stop-color="#E5E4F8"/><stop offset="1" stop-color="#DADAF5"/></linearGradient></defs>
<rect x="1948.2" y="1013.9" width="20.8" height="101.3" fill="url(#eg3)"/>
<line x1="1948.2" y1="1029.1" x2="1953" y2="1029.1" stroke="#FFF" stroke-width="1.5"/>
<line x1="1964.2" y1="1029.1" x2="1969" y2="1029.1" stroke="#FFF" stroke-width="1.5"/>
<line x1="1948.2" y1="1046.2" x2="1953" y2="1046.2" stroke="#FFF" stroke-width="1.5"/>
<line x1="1964.2" y1="1046.2" x2="1969" y2="1046.2" stroke="#FFF" stroke-width="1.5"/>
<line x1="1948.2" y1="1063.3" x2="1953" y2="1063.3" stroke="#FFF" stroke-width="1.5"/>
<line x1="1964.2" y1="1063.3" x2="1969" y2="1063.3" stroke="#FFF" stroke-width="1.5"/>
<line x1="1948.2" y1="1080.4" x2="1953" y2="1080.4" stroke="#FFF" stroke-width="1.5"/>
<line x1="1964.2" y1="1080.4" x2="1969" y2="1080.4" stroke="#FFF" stroke-width="1.5"/>
<line x1="1948.2" y1="1097.5" x2="1953" y2="1097.5" stroke="#FFF" stroke-width="1.5"/>
<line x1="1964.2" y1="1097.5" x2="1969" y2="1097.5" stroke="#FFF" stroke-width="1.5"/>
<text transform="translate(1973.5,1036.5)" font-size="19.6" fill="#4D4D4D">2</text>
<text transform="translate(1973.5,1070.4)" font-size="19.6" fill="#4D4D4D">1</text>
<text transform="translate(1973.5,1105)" font-size="19.6" fill="#4D4D4D">0</text>
<text transform="translate(1939.4,1069.7) rotate(-90)" text-anchor="middle" font-size="19.6">log2FC</text>
</svg>
</body></html>
